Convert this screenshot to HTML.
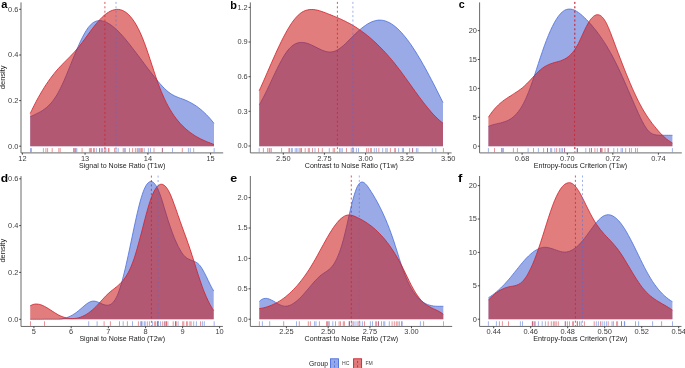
<!DOCTYPE html>
<html><head><meta charset="utf-8"><title>Density plots</title>
<style>
html,body{margin:0;padding:0;background:#fff;}
body{width:685px;height:368px;overflow:hidden;}
svg{display:block;font-family:"Liberation Sans", sans-serif;will-change:transform;}
</style></head>
<body>
<svg width="685" height="368" viewBox="0 0 685 368">
<rect width="685" height="368" fill="#fff"/>
<path d="M30.20,146.20 L30.20,116.79 C30.5,116.6 31.5,116.1 32.2,115.8 C32.9,115.5 33.5,115.2 34.2,114.9 C34.9,114.6 35.5,114.3 36.2,113.9 C36.9,113.6 37.5,113.3 38.2,112.9 C38.9,112.6 39.5,112.2 40.2,111.9 C40.9,111.5 41.5,111.1 42.2,110.7 C42.9,110.2 43.5,109.8 44.2,109.3 C44.9,108.8 45.5,108.3 46.2,107.8 C46.9,107.2 47.5,106.7 48.2,106.0 C48.9,105.4 49.5,104.7 50.2,104.0 C50.9,103.3 51.5,102.5 52.2,101.7 C52.9,100.9 53.5,100.0 54.2,99.0 C54.9,98.1 55.5,97.1 56.2,96.0 C56.9,95.0 57.5,93.8 58.2,92.6 C58.9,91.4 59.5,90.1 60.2,88.8 C60.9,87.5 61.5,86.1 62.2,84.6 C62.9,83.2 63.5,81.7 64.2,80.2 C64.9,78.6 65.5,77.1 66.2,75.5 C66.9,73.9 67.5,72.3 68.2,70.6 C68.9,69.0 69.5,67.4 70.2,65.7 C70.9,64.1 71.5,62.4 72.2,60.7 C72.9,59.1 73.5,57.4 74.2,55.8 C74.9,54.2 75.5,52.6 76.2,51.0 C76.9,49.4 77.5,47.9 78.2,46.4 C78.9,44.8 79.5,43.4 80.2,41.9 C80.9,40.5 81.5,39.1 82.2,37.8 C82.9,36.5 83.5,35.2 84.2,34.0 C84.9,32.8 85.5,31.6 86.2,30.6 C86.9,29.5 87.5,28.5 88.2,27.6 C88.9,26.8 89.5,25.9 90.2,25.2 C90.9,24.5 91.5,23.9 92.2,23.4 C92.9,22.8 93.5,22.4 94.2,22.0 C94.9,21.6 95.5,21.4 96.2,21.1 C96.9,20.9 97.5,20.8 98.2,20.7 C98.9,20.6 99.5,20.6 100.2,20.6 C100.9,20.6 101.5,20.7 102.2,20.9 C102.9,21.0 103.5,21.2 104.2,21.4 C104.9,21.7 105.5,21.9 106.2,22.2 C106.9,22.6 107.5,22.9 108.2,23.3 C108.9,23.6 109.5,24.1 110.2,24.5 C110.9,24.9 111.5,25.4 112.2,25.9 C112.9,26.4 113.5,27.0 114.2,27.5 C114.9,28.1 115.5,28.7 116.2,29.3 C116.9,29.9 117.5,30.6 118.2,31.2 C118.9,31.9 119.5,32.6 120.2,33.3 C120.9,34.0 121.5,34.7 122.2,35.4 C122.9,36.2 123.5,37.0 124.2,37.7 C124.9,38.5 125.5,39.3 126.2,40.1 C126.9,40.9 127.5,41.7 128.2,42.6 C128.9,43.4 129.5,44.2 130.2,45.1 C130.9,45.9 131.5,46.8 132.2,47.7 C132.9,48.5 133.5,49.4 134.2,50.3 C134.9,51.1 135.5,52.0 136.2,52.9 C136.9,53.8 137.5,54.7 138.2,55.6 C138.9,56.5 139.5,57.4 140.2,58.2 C140.9,59.1 141.5,60.0 142.2,60.9 C142.9,61.8 143.5,62.7 144.2,63.6 C144.9,64.5 145.5,65.4 146.2,66.3 C146.9,67.1 147.5,68.0 148.2,68.9 C148.9,69.8 149.5,70.7 150.2,71.5 C150.9,72.4 151.5,73.3 152.2,74.1 C152.9,75.0 153.5,75.8 154.2,76.6 C154.9,77.5 155.5,78.3 156.2,79.1 C156.9,80.0 157.5,80.8 158.2,81.6 C158.9,82.3 159.5,83.1 160.2,83.9 C160.9,84.6 161.5,85.4 162.2,86.1 C162.9,86.8 163.5,87.5 164.2,88.2 C164.9,88.9 165.5,89.5 166.2,90.1 C166.9,90.7 167.5,91.3 168.2,91.8 C168.9,92.4 169.5,92.9 170.2,93.3 C170.9,93.8 171.5,94.2 172.2,94.6 C172.9,95.0 173.5,95.4 174.2,95.7 C174.9,96.0 175.5,96.3 176.2,96.6 C176.9,96.9 177.5,97.2 178.2,97.4 C178.9,97.7 179.5,97.9 180.2,98.2 C180.9,98.4 181.5,98.7 182.2,98.9 C182.9,99.1 183.5,99.4 184.2,99.6 C184.9,99.9 185.5,100.2 186.2,100.5 C186.9,100.7 187.5,101.0 188.2,101.4 C188.9,101.7 189.5,102.0 190.2,102.4 C190.9,102.7 191.5,103.1 192.2,103.5 C192.9,103.9 193.5,104.3 194.2,104.7 C194.9,105.1 195.5,105.5 196.2,106.0 C196.9,106.5 197.5,106.9 198.2,107.4 C198.9,107.9 199.5,108.5 200.2,109.0 C200.9,109.5 201.5,110.1 202.2,110.7 C202.9,111.3 203.5,111.9 204.2,112.5 C204.9,113.1 205.5,113.8 206.2,114.4 C206.9,115.1 207.5,115.8 208.2,116.5 C208.9,117.2 209.5,117.9 210.2,118.7 C210.9,119.5 211.6,120.3 212.2,121.1 C212.8,121.8 213.7,122.9 214.0,123.3 L214.00,146.20 Z" fill="#4664D2" fill-opacity="0.550" stroke="none"/>
<path d="M30.20,116.79 C30.5,116.6 31.5,116.1 32.2,115.8 C32.9,115.5 33.5,115.2 34.2,114.9 C34.9,114.6 35.5,114.3 36.2,113.9 C36.9,113.6 37.5,113.3 38.2,112.9 C38.9,112.6 39.5,112.2 40.2,111.9 C40.9,111.5 41.5,111.1 42.2,110.7 C42.9,110.2 43.5,109.8 44.2,109.3 C44.9,108.8 45.5,108.3 46.2,107.8 C46.9,107.2 47.5,106.7 48.2,106.0 C48.9,105.4 49.5,104.7 50.2,104.0 C50.9,103.3 51.5,102.5 52.2,101.7 C52.9,100.9 53.5,100.0 54.2,99.0 C54.9,98.1 55.5,97.1 56.2,96.0 C56.9,95.0 57.5,93.8 58.2,92.6 C58.9,91.4 59.5,90.1 60.2,88.8 C60.9,87.5 61.5,86.1 62.2,84.6 C62.9,83.2 63.5,81.7 64.2,80.2 C64.9,78.6 65.5,77.1 66.2,75.5 C66.9,73.9 67.5,72.3 68.2,70.6 C68.9,69.0 69.5,67.4 70.2,65.7 C70.9,64.1 71.5,62.4 72.2,60.7 C72.9,59.1 73.5,57.4 74.2,55.8 C74.9,54.2 75.5,52.6 76.2,51.0 C76.9,49.4 77.5,47.9 78.2,46.4 C78.9,44.8 79.5,43.4 80.2,41.9 C80.9,40.5 81.5,39.1 82.2,37.8 C82.9,36.5 83.5,35.2 84.2,34.0 C84.9,32.8 85.5,31.6 86.2,30.6 C86.9,29.5 87.5,28.5 88.2,27.6 C88.9,26.8 89.5,25.9 90.2,25.2 C90.9,24.5 91.5,23.9 92.2,23.4 C92.9,22.8 93.5,22.4 94.2,22.0 C94.9,21.6 95.5,21.4 96.2,21.1 C96.9,20.9 97.5,20.8 98.2,20.7 C98.9,20.6 99.5,20.6 100.2,20.6 C100.9,20.6 101.5,20.7 102.2,20.9 C102.9,21.0 103.5,21.2 104.2,21.4 C104.9,21.7 105.5,21.9 106.2,22.2 C106.9,22.6 107.5,22.9 108.2,23.3 C108.9,23.6 109.5,24.1 110.2,24.5 C110.9,24.9 111.5,25.4 112.2,25.9 C112.9,26.4 113.5,27.0 114.2,27.5 C114.9,28.1 115.5,28.7 116.2,29.3 C116.9,29.9 117.5,30.6 118.2,31.2 C118.9,31.9 119.5,32.6 120.2,33.3 C120.9,34.0 121.5,34.7 122.2,35.4 C122.9,36.2 123.5,37.0 124.2,37.7 C124.9,38.5 125.5,39.3 126.2,40.1 C126.9,40.9 127.5,41.7 128.2,42.6 C128.9,43.4 129.5,44.2 130.2,45.1 C130.9,45.9 131.5,46.8 132.2,47.7 C132.9,48.5 133.5,49.4 134.2,50.3 C134.9,51.1 135.5,52.0 136.2,52.9 C136.9,53.8 137.5,54.7 138.2,55.6 C138.9,56.5 139.5,57.4 140.2,58.2 C140.9,59.1 141.5,60.0 142.2,60.9 C142.9,61.8 143.5,62.7 144.2,63.6 C144.9,64.5 145.5,65.4 146.2,66.3 C146.9,67.1 147.5,68.0 148.2,68.9 C148.9,69.8 149.5,70.7 150.2,71.5 C150.9,72.4 151.5,73.3 152.2,74.1 C152.9,75.0 153.5,75.8 154.2,76.6 C154.9,77.5 155.5,78.3 156.2,79.1 C156.9,80.0 157.5,80.8 158.2,81.6 C158.9,82.3 159.5,83.1 160.2,83.9 C160.9,84.6 161.5,85.4 162.2,86.1 C162.9,86.8 163.5,87.5 164.2,88.2 C164.9,88.9 165.5,89.5 166.2,90.1 C166.9,90.7 167.5,91.3 168.2,91.8 C168.9,92.4 169.5,92.9 170.2,93.3 C170.9,93.8 171.5,94.2 172.2,94.6 C172.9,95.0 173.5,95.4 174.2,95.7 C174.9,96.0 175.5,96.3 176.2,96.6 C176.9,96.9 177.5,97.2 178.2,97.4 C178.9,97.7 179.5,97.9 180.2,98.2 C180.9,98.4 181.5,98.7 182.2,98.9 C182.9,99.1 183.5,99.4 184.2,99.6 C184.9,99.9 185.5,100.2 186.2,100.5 C186.9,100.7 187.5,101.0 188.2,101.4 C188.9,101.7 189.5,102.0 190.2,102.4 C190.9,102.7 191.5,103.1 192.2,103.5 C192.9,103.9 193.5,104.3 194.2,104.7 C194.9,105.1 195.5,105.5 196.2,106.0 C196.9,106.5 197.5,106.9 198.2,107.4 C198.9,107.9 199.5,108.5 200.2,109.0 C200.9,109.5 201.5,110.1 202.2,110.7 C202.9,111.3 203.5,111.9 204.2,112.5 C204.9,113.1 205.5,113.8 206.2,114.4 C206.9,115.1 207.5,115.8 208.2,116.5 C208.9,117.2 209.5,117.9 210.2,118.7 C210.9,119.5 211.6,120.3 212.2,121.1 C212.8,121.8 213.7,122.9 214.0,123.3" fill="none" stroke="#4a6fdc" stroke-width="0.8"/>
<path d="M30.20,146.20 L30.20,113.51 C30.5,112.8 31.5,110.7 32.2,109.3 C32.9,108.0 33.5,106.6 34.2,105.3 C34.9,104.0 35.5,102.7 36.2,101.4 C36.9,100.2 37.5,98.9 38.2,97.7 C38.9,96.5 39.5,95.3 40.2,94.2 C40.9,93.0 41.5,91.9 42.2,90.8 C42.9,89.7 43.5,88.6 44.2,87.5 C44.9,86.5 45.5,85.4 46.2,84.4 C46.9,83.4 47.5,82.4 48.2,81.5 C48.9,80.5 49.5,79.6 50.2,78.7 C50.9,77.7 51.5,76.8 52.2,76.0 C52.9,75.1 53.5,74.3 54.2,73.4 C54.9,72.6 55.5,71.8 56.2,71.0 C56.9,70.2 57.5,69.5 58.2,68.7 C58.9,68.0 59.5,67.3 60.2,66.6 C60.9,65.9 61.5,65.2 62.2,64.5 C62.9,63.8 63.5,63.1 64.2,62.4 C64.9,61.8 65.5,61.1 66.2,60.4 C66.9,59.8 67.5,59.1 68.2,58.4 C68.9,57.8 69.5,57.1 70.2,56.4 C70.9,55.7 71.5,55.0 72.2,54.3 C72.9,53.6 73.5,52.9 74.2,52.2 C74.9,51.5 75.5,50.7 76.2,49.9 C76.9,49.2 77.5,48.4 78.2,47.6 C78.9,46.8 79.5,45.9 80.2,45.1 C80.9,44.2 81.5,43.4 82.2,42.5 C82.9,41.6 83.5,40.7 84.2,39.8 C84.9,38.9 85.5,38.0 86.2,37.1 C86.9,36.1 87.5,35.2 88.2,34.3 C88.9,33.4 89.5,32.5 90.2,31.6 C90.9,30.7 91.5,29.8 92.2,28.9 C92.9,28.0 93.5,27.1 94.2,26.3 C94.9,25.4 95.5,24.6 96.2,23.8 C96.9,23.0 97.5,22.2 98.2,21.4 C98.9,20.6 99.5,19.9 100.2,19.2 C100.9,18.5 101.5,17.8 102.2,17.2 C102.9,16.5 103.5,15.9 104.2,15.3 C104.9,14.8 105.5,14.2 106.2,13.7 C106.9,13.2 107.5,12.8 108.2,12.4 C108.9,12.0 109.5,11.6 110.2,11.2 C110.9,10.9 111.5,10.6 112.2,10.4 C112.9,10.1 113.5,9.9 114.2,9.8 C114.9,9.6 115.5,9.5 116.2,9.4 C116.9,9.4 117.5,9.4 118.2,9.4 C118.9,9.5 119.5,9.5 120.2,9.7 C120.9,9.8 121.5,10.0 122.2,10.3 C122.9,10.6 123.5,10.9 124.2,11.3 C124.9,11.6 125.5,12.1 126.2,12.6 C126.9,13.0 127.5,13.6 128.2,14.2 C128.9,14.8 129.5,15.5 130.2,16.3 C130.9,17.0 131.5,17.8 132.2,18.7 C132.9,19.6 133.5,20.5 134.2,21.5 C134.9,22.6 135.5,23.6 136.2,24.8 C136.9,26.0 137.5,27.2 138.2,28.5 C138.9,29.8 139.5,31.2 140.2,32.6 C140.9,34.1 141.5,35.6 142.2,37.2 C142.9,38.8 143.5,40.5 144.2,42.3 C144.9,44.1 145.5,45.9 146.2,47.8 C146.9,49.7 147.5,51.7 148.2,53.7 C148.9,55.6 149.5,57.7 150.2,59.7 C150.9,61.7 151.5,63.8 152.2,65.8 C152.9,67.9 153.5,69.9 154.2,71.9 C154.9,74.0 155.5,76.0 156.2,77.9 C156.9,79.8 157.5,81.7 158.2,83.6 C158.9,85.4 159.5,87.1 160.2,88.8 C160.9,90.5 161.5,92.2 162.2,93.7 C162.9,95.3 163.5,96.8 164.2,98.2 C164.9,99.7 165.5,101.1 166.2,102.4 C166.9,103.7 167.5,105.0 168.2,106.2 C168.9,107.4 169.5,108.6 170.2,109.7 C170.9,110.8 171.5,111.9 172.2,112.9 C172.9,113.9 173.5,114.9 174.2,115.9 C174.9,116.8 175.5,117.7 176.2,118.6 C176.9,119.5 177.5,120.3 178.2,121.1 C178.9,121.9 179.5,122.6 180.2,123.4 C180.9,124.1 181.5,124.8 182.2,125.5 C182.9,126.2 183.5,126.8 184.2,127.4 C184.9,128.1 185.5,128.7 186.2,129.3 C186.9,129.8 187.5,130.4 188.2,130.9 C188.9,131.5 189.5,132.0 190.2,132.5 C190.9,133.0 191.5,133.5 192.2,133.9 C192.9,134.4 193.5,134.8 194.2,135.2 C194.9,135.7 195.5,136.1 196.2,136.5 C196.9,136.9 197.5,137.2 198.2,137.6 C198.9,138.0 199.5,138.3 200.2,138.7 C200.9,139.0 201.5,139.3 202.2,139.6 C202.9,140.0 203.5,140.3 204.2,140.6 C204.9,140.9 205.5,141.1 206.2,141.4 C206.9,141.7 207.5,142.0 208.2,142.3 C208.9,142.5 209.5,142.8 210.2,143.0 C210.9,143.3 211.6,143.6 212.2,143.8 C212.8,144.1 213.7,144.4 214.0,144.5 L214.00,146.20 Z" fill="#C81412" fill-opacity="0.550" stroke="none"/>
<path d="M30.20,113.51 C30.5,112.8 31.5,110.7 32.2,109.3 C32.9,108.0 33.5,106.6 34.2,105.3 C34.9,104.0 35.5,102.7 36.2,101.4 C36.9,100.2 37.5,98.9 38.2,97.7 C38.9,96.5 39.5,95.3 40.2,94.2 C40.9,93.0 41.5,91.9 42.2,90.8 C42.9,89.7 43.5,88.6 44.2,87.5 C44.9,86.5 45.5,85.4 46.2,84.4 C46.9,83.4 47.5,82.4 48.2,81.5 C48.9,80.5 49.5,79.6 50.2,78.7 C50.9,77.7 51.5,76.8 52.2,76.0 C52.9,75.1 53.5,74.3 54.2,73.4 C54.9,72.6 55.5,71.8 56.2,71.0 C56.9,70.2 57.5,69.5 58.2,68.7 C58.9,68.0 59.5,67.3 60.2,66.6 C60.9,65.9 61.5,65.2 62.2,64.5 C62.9,63.8 63.5,63.1 64.2,62.4 C64.9,61.8 65.5,61.1 66.2,60.4 C66.9,59.8 67.5,59.1 68.2,58.4 C68.9,57.8 69.5,57.1 70.2,56.4 C70.9,55.7 71.5,55.0 72.2,54.3 C72.9,53.6 73.5,52.9 74.2,52.2 C74.9,51.5 75.5,50.7 76.2,49.9 C76.9,49.2 77.5,48.4 78.2,47.6 C78.9,46.8 79.5,45.9 80.2,45.1 C80.9,44.2 81.5,43.4 82.2,42.5 C82.9,41.6 83.5,40.7 84.2,39.8 C84.9,38.9 85.5,38.0 86.2,37.1 C86.9,36.1 87.5,35.2 88.2,34.3 C88.9,33.4 89.5,32.5 90.2,31.6 C90.9,30.7 91.5,29.8 92.2,28.9 C92.9,28.0 93.5,27.1 94.2,26.3 C94.9,25.4 95.5,24.6 96.2,23.8 C96.9,23.0 97.5,22.2 98.2,21.4 C98.9,20.6 99.5,19.9 100.2,19.2 C100.9,18.5 101.5,17.8 102.2,17.2 C102.9,16.5 103.5,15.9 104.2,15.3 C104.9,14.8 105.5,14.2 106.2,13.7 C106.9,13.2 107.5,12.8 108.2,12.4 C108.9,12.0 109.5,11.6 110.2,11.2 C110.9,10.9 111.5,10.6 112.2,10.4 C112.9,10.1 113.5,9.9 114.2,9.8 C114.9,9.6 115.5,9.5 116.2,9.4 C116.9,9.4 117.5,9.4 118.2,9.4 C118.9,9.5 119.5,9.5 120.2,9.7 C120.9,9.8 121.5,10.0 122.2,10.3 C122.9,10.6 123.5,10.9 124.2,11.3 C124.9,11.6 125.5,12.1 126.2,12.6 C126.9,13.0 127.5,13.6 128.2,14.2 C128.9,14.8 129.5,15.5 130.2,16.3 C130.9,17.0 131.5,17.8 132.2,18.7 C132.9,19.6 133.5,20.5 134.2,21.5 C134.9,22.6 135.5,23.6 136.2,24.8 C136.9,26.0 137.5,27.2 138.2,28.5 C138.9,29.8 139.5,31.2 140.2,32.6 C140.9,34.1 141.5,35.6 142.2,37.2 C142.9,38.8 143.5,40.5 144.2,42.3 C144.9,44.1 145.5,45.9 146.2,47.8 C146.9,49.7 147.5,51.7 148.2,53.7 C148.9,55.6 149.5,57.7 150.2,59.7 C150.9,61.7 151.5,63.8 152.2,65.8 C152.9,67.9 153.5,69.9 154.2,71.9 C154.9,74.0 155.5,76.0 156.2,77.9 C156.9,79.8 157.5,81.7 158.2,83.6 C158.9,85.4 159.5,87.1 160.2,88.8 C160.9,90.5 161.5,92.2 162.2,93.7 C162.9,95.3 163.5,96.8 164.2,98.2 C164.9,99.7 165.5,101.1 166.2,102.4 C166.9,103.7 167.5,105.0 168.2,106.2 C168.9,107.4 169.5,108.6 170.2,109.7 C170.9,110.8 171.5,111.9 172.2,112.9 C172.9,113.9 173.5,114.9 174.2,115.9 C174.9,116.8 175.5,117.7 176.2,118.6 C176.9,119.5 177.5,120.3 178.2,121.1 C178.9,121.9 179.5,122.6 180.2,123.4 C180.9,124.1 181.5,124.8 182.2,125.5 C182.9,126.2 183.5,126.8 184.2,127.4 C184.9,128.1 185.5,128.7 186.2,129.3 C186.9,129.8 187.5,130.4 188.2,130.9 C188.9,131.5 189.5,132.0 190.2,132.5 C190.9,133.0 191.5,133.5 192.2,133.9 C192.9,134.4 193.5,134.8 194.2,135.2 C194.9,135.7 195.5,136.1 196.2,136.5 C196.9,136.9 197.5,137.2 198.2,137.6 C198.9,138.0 199.5,138.3 200.2,138.7 C200.9,139.0 201.5,139.3 202.2,139.6 C202.9,140.0 203.5,140.3 204.2,140.6 C204.9,140.9 205.5,141.1 206.2,141.4 C206.9,141.7 207.5,142.0 208.2,142.3 C208.9,142.5 209.5,142.8 210.2,143.0 C210.9,143.3 211.6,143.6 212.2,143.8 C212.8,144.1 213.7,144.4 214.0,144.5" fill="none" stroke="#d11f2a" stroke-width="0.8"/>
<line x1="30.50" y1="148.10" x2="30.50" y2="152.30" stroke="#3f63d6" stroke-width="0.9" stroke-opacity="0.55"/>
<line x1="43.40" y1="148.10" x2="43.40" y2="152.30" stroke="#3f63d6" stroke-width="0.9" stroke-opacity="0.55"/>
<line x1="75.30" y1="148.10" x2="75.30" y2="152.30" stroke="#3f63d6" stroke-width="0.9" stroke-opacity="0.55"/>
<line x1="75.80" y1="148.10" x2="75.80" y2="152.30" stroke="#3f63d6" stroke-width="0.9" stroke-opacity="0.55"/>
<line x1="76.80" y1="148.10" x2="76.80" y2="152.30" stroke="#3f63d6" stroke-width="0.9" stroke-opacity="0.55"/>
<line x1="89.40" y1="148.10" x2="89.40" y2="152.30" stroke="#3f63d6" stroke-width="0.9" stroke-opacity="0.55"/>
<line x1="91.50" y1="148.10" x2="91.50" y2="152.30" stroke="#3f63d6" stroke-width="0.9" stroke-opacity="0.55"/>
<line x1="96.40" y1="148.10" x2="96.40" y2="152.30" stroke="#3f63d6" stroke-width="0.9" stroke-opacity="0.55"/>
<line x1="99.60" y1="148.10" x2="99.60" y2="152.30" stroke="#3f63d6" stroke-width="0.9" stroke-opacity="0.55"/>
<line x1="102.70" y1="148.10" x2="102.70" y2="152.30" stroke="#3f63d6" stroke-width="0.9" stroke-opacity="0.55"/>
<line x1="105.90" y1="148.10" x2="105.90" y2="152.30" stroke="#3f63d6" stroke-width="0.9" stroke-opacity="0.55"/>
<line x1="116.00" y1="148.10" x2="116.00" y2="152.30" stroke="#3f63d6" stroke-width="0.9" stroke-opacity="0.55"/>
<line x1="118.20" y1="148.10" x2="118.20" y2="152.30" stroke="#3f63d6" stroke-width="0.9" stroke-opacity="0.55"/>
<line x1="124.30" y1="148.10" x2="124.30" y2="152.30" stroke="#3f63d6" stroke-width="0.9" stroke-opacity="0.55"/>
<line x1="129.50" y1="148.10" x2="129.50" y2="152.30" stroke="#3f63d6" stroke-width="0.9" stroke-opacity="0.55"/>
<line x1="138.20" y1="148.10" x2="138.20" y2="152.30" stroke="#3f63d6" stroke-width="0.9" stroke-opacity="0.55"/>
<line x1="139.30" y1="148.10" x2="139.30" y2="152.30" stroke="#3f63d6" stroke-width="0.9" stroke-opacity="0.55"/>
<line x1="144.20" y1="148.10" x2="144.20" y2="152.30" stroke="#3f63d6" stroke-width="0.9" stroke-opacity="0.55"/>
<line x1="148.40" y1="148.10" x2="148.40" y2="152.30" stroke="#3f63d6" stroke-width="0.9" stroke-opacity="0.55"/>
<line x1="150.50" y1="148.10" x2="150.50" y2="152.30" stroke="#3f63d6" stroke-width="0.9" stroke-opacity="0.55"/>
<line x1="162.40" y1="148.10" x2="162.40" y2="152.30" stroke="#3f63d6" stroke-width="0.9" stroke-opacity="0.55"/>
<line x1="172.50" y1="148.10" x2="172.50" y2="152.30" stroke="#3f63d6" stroke-width="0.9" stroke-opacity="0.55"/>
<line x1="188.40" y1="148.10" x2="188.40" y2="152.30" stroke="#3f63d6" stroke-width="0.9" stroke-opacity="0.55"/>
<line x1="190.30" y1="148.10" x2="190.30" y2="152.30" stroke="#3f63d6" stroke-width="0.9" stroke-opacity="0.55"/>
<line x1="193.70" y1="148.10" x2="193.70" y2="152.30" stroke="#3f63d6" stroke-width="0.9" stroke-opacity="0.55"/>
<line x1="214.20" y1="148.10" x2="214.20" y2="152.30" stroke="#3f63d6" stroke-width="0.9" stroke-opacity="0.55"/>
<line x1="31.40" y1="148.10" x2="31.40" y2="152.30" stroke="#d3222c" stroke-width="0.9" stroke-opacity="0.55"/>
<line x1="45.90" y1="148.10" x2="45.90" y2="152.30" stroke="#d3222c" stroke-width="0.9" stroke-opacity="0.55"/>
<line x1="47.60" y1="148.10" x2="47.60" y2="152.30" stroke="#d3222c" stroke-width="0.9" stroke-opacity="0.55"/>
<line x1="52.20" y1="148.10" x2="52.20" y2="152.30" stroke="#d3222c" stroke-width="0.9" stroke-opacity="0.55"/>
<line x1="58.80" y1="148.10" x2="58.80" y2="152.30" stroke="#d3222c" stroke-width="0.9" stroke-opacity="0.55"/>
<line x1="60.20" y1="148.10" x2="60.20" y2="152.30" stroke="#d3222c" stroke-width="0.9" stroke-opacity="0.55"/>
<line x1="73.50" y1="148.10" x2="73.50" y2="152.30" stroke="#d3222c" stroke-width="0.9" stroke-opacity="0.55"/>
<line x1="74.40" y1="148.10" x2="74.40" y2="152.30" stroke="#d3222c" stroke-width="0.9" stroke-opacity="0.55"/>
<line x1="82.10" y1="148.10" x2="82.10" y2="152.30" stroke="#d3222c" stroke-width="0.9" stroke-opacity="0.55"/>
<line x1="90.50" y1="148.10" x2="90.50" y2="152.30" stroke="#d3222c" stroke-width="0.9" stroke-opacity="0.55"/>
<line x1="93.60" y1="148.10" x2="93.60" y2="152.30" stroke="#d3222c" stroke-width="0.9" stroke-opacity="0.55"/>
<line x1="94.30" y1="148.10" x2="94.30" y2="152.30" stroke="#d3222c" stroke-width="0.9" stroke-opacity="0.55"/>
<line x1="99.60" y1="148.10" x2="99.60" y2="152.30" stroke="#d3222c" stroke-width="0.9" stroke-opacity="0.55"/>
<line x1="101.70" y1="148.10" x2="101.70" y2="152.30" stroke="#d3222c" stroke-width="0.9" stroke-opacity="0.55"/>
<line x1="104.80" y1="148.10" x2="104.80" y2="152.30" stroke="#d3222c" stroke-width="0.9" stroke-opacity="0.55"/>
<line x1="108.30" y1="148.10" x2="108.30" y2="152.30" stroke="#d3222c" stroke-width="0.9" stroke-opacity="0.55"/>
<line x1="109.00" y1="148.10" x2="109.00" y2="152.30" stroke="#d3222c" stroke-width="0.9" stroke-opacity="0.55"/>
<line x1="114.60" y1="148.10" x2="114.60" y2="152.30" stroke="#d3222c" stroke-width="0.9" stroke-opacity="0.55"/>
<line x1="123.20" y1="148.10" x2="123.20" y2="152.30" stroke="#d3222c" stroke-width="0.9" stroke-opacity="0.55"/>
<line x1="125.30" y1="148.10" x2="125.30" y2="152.30" stroke="#d3222c" stroke-width="0.9" stroke-opacity="0.55"/>
<line x1="132.60" y1="148.10" x2="132.60" y2="152.30" stroke="#d3222c" stroke-width="0.9" stroke-opacity="0.55"/>
<line x1="135.40" y1="148.10" x2="135.40" y2="152.30" stroke="#d3222c" stroke-width="0.9" stroke-opacity="0.55"/>
<line x1="137.20" y1="148.10" x2="137.20" y2="152.30" stroke="#d3222c" stroke-width="0.9" stroke-opacity="0.55"/>
<line x1="140.30" y1="148.10" x2="140.30" y2="152.30" stroke="#d3222c" stroke-width="0.9" stroke-opacity="0.55"/>
<line x1="141.50" y1="148.10" x2="141.50" y2="152.30" stroke="#d3222c" stroke-width="0.9" stroke-opacity="0.55"/>
<line x1="142.40" y1="148.10" x2="142.40" y2="152.30" stroke="#d3222c" stroke-width="0.9" stroke-opacity="0.55"/>
<line x1="154.00" y1="148.10" x2="154.00" y2="152.30" stroke="#d3222c" stroke-width="0.9" stroke-opacity="0.55"/>
<line x1="162.40" y1="148.10" x2="162.40" y2="152.30" stroke="#d3222c" stroke-width="0.9" stroke-opacity="0.55"/>
<line x1="182.30" y1="148.10" x2="182.30" y2="152.30" stroke="#d3222c" stroke-width="0.9" stroke-opacity="0.55"/>
<line x1="104.90" y1="1.90" x2="104.90" y2="152.40" stroke="#d11f2a" stroke-width="0.9" stroke-dasharray="2,2.4" opacity="0.85"/>
<line x1="116.00" y1="1.90" x2="116.00" y2="152.40" stroke="#4a6fdc" stroke-width="0.9" stroke-dasharray="2,2.4" opacity="0.6"/>
<path d="M21.00,2.40 V152.90 H223.20" fill="none" stroke="#6b6b6b" stroke-width="1"/>
<line x1="19.20" y1="9.30" x2="21.00" y2="9.30" stroke="#333333" stroke-width="0.9"/>
<text x="18.40" y="11.65" text-anchor="end" font-size="6.50" fill="#3d3d3d" textLength="10.34" lengthAdjust="spacingAndGlyphs">0.6</text>
<line x1="19.20" y1="55.00" x2="21.00" y2="55.00" stroke="#333333" stroke-width="0.9"/>
<text x="18.40" y="57.35" text-anchor="end" font-size="6.50" fill="#3d3d3d" textLength="10.34" lengthAdjust="spacingAndGlyphs">0.4</text>
<line x1="19.20" y1="100.60" x2="21.00" y2="100.60" stroke="#333333" stroke-width="0.9"/>
<text x="18.40" y="102.95" text-anchor="end" font-size="6.50" fill="#3d3d3d" textLength="10.34" lengthAdjust="spacingAndGlyphs">0.2</text>
<line x1="19.20" y1="146.20" x2="21.00" y2="146.20" stroke="#333333" stroke-width="0.9"/>
<text x="18.40" y="148.55" text-anchor="end" font-size="6.50" fill="#3d3d3d" textLength="10.34" lengthAdjust="spacingAndGlyphs">0.0</text>
<line x1="22.40" y1="152.90" x2="22.40" y2="154.70" stroke="#333333" stroke-width="0.9"/>
<text x="22.40" y="160.60" text-anchor="middle" font-size="6.50" fill="#3d3d3d" textLength="8.27" lengthAdjust="spacingAndGlyphs">12</text>
<line x1="85.10" y1="152.90" x2="85.10" y2="154.70" stroke="#333333" stroke-width="0.9"/>
<text x="85.10" y="160.60" text-anchor="middle" font-size="6.50" fill="#3d3d3d" textLength="8.27" lengthAdjust="spacingAndGlyphs">13</text>
<line x1="147.90" y1="152.90" x2="147.90" y2="154.70" stroke="#333333" stroke-width="0.9"/>
<text x="147.90" y="160.60" text-anchor="middle" font-size="6.50" fill="#3d3d3d" textLength="8.27" lengthAdjust="spacingAndGlyphs">14</text>
<line x1="210.60" y1="152.90" x2="210.60" y2="154.70" stroke="#333333" stroke-width="0.9"/>
<text x="210.60" y="160.60" text-anchor="middle" font-size="6.50" fill="#3d3d3d" textLength="8.27" lengthAdjust="spacingAndGlyphs">15</text>
<text x="79.00" y="167.65" font-size="6.50" fill="#1a1a1a" textLength="86.30" lengthAdjust="spacingAndGlyphs">Signal to Noise Ratio (T1w)</text>
<text transform="translate(5.3,77.30) rotate(-90)" text-anchor="middle" font-size="6.50" fill="#1a1a1a" textLength="23.83" lengthAdjust="spacingAndGlyphs">density</text>
<text transform="translate(1.17,7.70) scale(1.060,1)" font-size="10.5" font-weight="bold" fill="#000">a</text>
<path d="M259.20,146.20 L259.20,104.95 C259.5,104.4 260.5,102.7 261.2,101.5 C261.9,100.3 262.5,99.0 263.2,97.8 C263.9,96.5 264.5,95.2 265.2,93.8 C265.9,92.5 266.5,91.1 267.2,89.7 C267.9,88.3 268.5,86.9 269.2,85.5 C269.9,84.1 270.5,82.7 271.2,81.2 C271.9,79.8 272.5,78.4 273.2,76.9 C273.9,75.5 274.5,74.1 275.2,72.7 C275.9,71.3 276.5,69.9 277.2,68.6 C277.9,67.2 278.5,65.9 279.2,64.6 C279.9,63.3 280.5,62.0 281.2,60.8 C281.9,59.6 282.5,58.4 283.2,57.2 C283.9,56.1 284.5,55.0 285.2,54.0 C285.9,53.0 286.5,52.0 287.2,51.1 C287.9,50.2 288.5,49.4 289.2,48.7 C289.9,47.9 290.5,47.3 291.2,46.7 C291.9,46.1 292.5,45.5 293.2,45.1 C293.9,44.6 294.5,44.2 295.2,43.9 C295.9,43.6 296.5,43.3 297.2,43.1 C297.9,42.9 298.5,42.7 299.2,42.6 C299.9,42.5 300.5,42.4 301.2,42.4 C301.9,42.4 302.5,42.4 303.2,42.5 C303.9,42.6 304.5,42.7 305.2,42.8 C305.9,43.0 306.5,43.1 307.2,43.3 C307.9,43.5 308.5,43.8 309.2,44.0 C309.9,44.3 310.5,44.6 311.2,44.9 C311.9,45.2 312.5,45.5 313.2,45.8 C313.9,46.1 314.5,46.5 315.2,46.8 C315.9,47.1 316.5,47.5 317.2,47.8 C317.9,48.2 318.5,48.5 319.2,48.8 C319.9,49.1 320.5,49.5 321.2,49.8 C321.9,50.1 322.5,50.3 323.2,50.6 C323.9,50.8 324.5,51.1 325.2,51.3 C325.9,51.5 326.5,51.6 327.2,51.8 C327.9,51.9 328.5,52.0 329.2,52.0 C329.9,52.0 330.5,52.0 331.2,52.0 C331.9,51.9 332.5,51.8 333.2,51.6 C333.9,51.5 334.5,51.3 335.2,51.0 C335.9,50.7 336.5,50.4 337.2,50.0 C337.9,49.6 338.5,49.2 339.2,48.8 C339.9,48.3 340.5,47.8 341.2,47.3 C341.9,46.8 342.5,46.3 343.2,45.7 C343.9,45.1 344.5,44.5 345.2,43.9 C345.9,43.3 346.5,42.6 347.2,42.0 C347.9,41.4 348.5,40.7 349.2,40.0 C349.9,39.4 350.5,38.7 351.2,38.0 C351.9,37.3 352.5,36.7 353.2,36.0 C353.9,35.3 354.5,34.7 355.2,34.0 C355.9,33.4 356.5,32.7 357.2,32.1 C357.9,31.5 358.5,30.9 359.2,30.3 C359.9,29.7 360.5,29.1 361.2,28.6 C361.9,28.0 362.5,27.5 363.2,27.0 C363.9,26.5 364.5,26.0 365.2,25.6 C365.9,25.1 366.5,24.7 367.2,24.2 C367.9,23.8 368.5,23.5 369.2,23.1 C369.9,22.7 370.5,22.4 371.2,22.1 C371.9,21.8 372.5,21.5 373.2,21.3 C373.9,21.1 374.5,20.9 375.2,20.7 C375.9,20.5 376.5,20.4 377.2,20.3 C377.9,20.2 378.5,20.1 379.2,20.1 C379.9,20.1 380.5,20.1 381.2,20.2 C381.9,20.2 382.5,20.3 383.2,20.4 C383.9,20.6 384.5,20.7 385.2,20.9 C385.9,21.1 386.5,21.4 387.2,21.7 C387.9,21.9 388.5,22.2 389.2,22.6 C389.9,22.9 390.5,23.3 391.2,23.7 C391.9,24.2 392.5,24.6 393.2,25.1 C393.9,25.6 394.5,26.1 395.2,26.6 C395.9,27.2 396.5,27.7 397.2,28.3 C397.9,28.9 398.5,29.6 399.2,30.2 C399.9,30.9 400.5,31.6 401.2,32.3 C401.9,33.0 402.5,33.8 403.2,34.6 C403.9,35.3 404.5,36.1 405.2,37.0 C405.9,37.8 406.5,38.6 407.2,39.5 C407.9,40.4 408.5,41.3 409.2,42.2 C409.9,43.1 410.5,44.1 411.2,45.0 C411.9,46.0 412.5,47.0 413.2,48.0 C413.9,49.0 414.5,50.0 415.2,51.1 C415.9,52.1 416.5,53.2 417.2,54.3 C417.9,55.4 418.5,56.5 419.2,57.6 C419.9,58.7 420.5,59.8 421.2,61.0 C421.9,62.1 422.5,63.3 423.2,64.5 C423.9,65.7 424.5,66.9 425.2,68.1 C425.9,69.3 426.5,70.5 427.2,71.7 C427.9,73.0 428.5,74.2 429.2,75.5 C429.9,76.7 430.5,78.0 431.2,79.3 C431.9,80.6 432.5,81.8 433.2,83.1 C433.9,84.4 434.5,85.7 435.2,87.0 C435.9,88.4 436.5,89.7 437.2,91.0 C437.9,92.3 438.5,93.6 439.2,95.0 C439.9,96.3 440.6,97.7 441.2,99.0 C441.8,100.3 442.7,102.0 443.0,102.6 L443.00,146.20 Z" fill="#4664D2" fill-opacity="0.550" stroke="none"/>
<path d="M259.20,104.95 C259.5,104.4 260.5,102.7 261.2,101.5 C261.9,100.3 262.5,99.0 263.2,97.8 C263.9,96.5 264.5,95.2 265.2,93.8 C265.9,92.5 266.5,91.1 267.2,89.7 C267.9,88.3 268.5,86.9 269.2,85.5 C269.9,84.1 270.5,82.7 271.2,81.2 C271.9,79.8 272.5,78.4 273.2,76.9 C273.9,75.5 274.5,74.1 275.2,72.7 C275.9,71.3 276.5,69.9 277.2,68.6 C277.9,67.2 278.5,65.9 279.2,64.6 C279.9,63.3 280.5,62.0 281.2,60.8 C281.9,59.6 282.5,58.4 283.2,57.2 C283.9,56.1 284.5,55.0 285.2,54.0 C285.9,53.0 286.5,52.0 287.2,51.1 C287.9,50.2 288.5,49.4 289.2,48.7 C289.9,47.9 290.5,47.3 291.2,46.7 C291.9,46.1 292.5,45.5 293.2,45.1 C293.9,44.6 294.5,44.2 295.2,43.9 C295.9,43.6 296.5,43.3 297.2,43.1 C297.9,42.9 298.5,42.7 299.2,42.6 C299.9,42.5 300.5,42.4 301.2,42.4 C301.9,42.4 302.5,42.4 303.2,42.5 C303.9,42.6 304.5,42.7 305.2,42.8 C305.9,43.0 306.5,43.1 307.2,43.3 C307.9,43.5 308.5,43.8 309.2,44.0 C309.9,44.3 310.5,44.6 311.2,44.9 C311.9,45.2 312.5,45.5 313.2,45.8 C313.9,46.1 314.5,46.5 315.2,46.8 C315.9,47.1 316.5,47.5 317.2,47.8 C317.9,48.2 318.5,48.5 319.2,48.8 C319.9,49.1 320.5,49.5 321.2,49.8 C321.9,50.1 322.5,50.3 323.2,50.6 C323.9,50.8 324.5,51.1 325.2,51.3 C325.9,51.5 326.5,51.6 327.2,51.8 C327.9,51.9 328.5,52.0 329.2,52.0 C329.9,52.0 330.5,52.0 331.2,52.0 C331.9,51.9 332.5,51.8 333.2,51.6 C333.9,51.5 334.5,51.3 335.2,51.0 C335.9,50.7 336.5,50.4 337.2,50.0 C337.9,49.6 338.5,49.2 339.2,48.8 C339.9,48.3 340.5,47.8 341.2,47.3 C341.9,46.8 342.5,46.3 343.2,45.7 C343.9,45.1 344.5,44.5 345.2,43.9 C345.9,43.3 346.5,42.6 347.2,42.0 C347.9,41.4 348.5,40.7 349.2,40.0 C349.9,39.4 350.5,38.7 351.2,38.0 C351.9,37.3 352.5,36.7 353.2,36.0 C353.9,35.3 354.5,34.7 355.2,34.0 C355.9,33.4 356.5,32.7 357.2,32.1 C357.9,31.5 358.5,30.9 359.2,30.3 C359.9,29.7 360.5,29.1 361.2,28.6 C361.9,28.0 362.5,27.5 363.2,27.0 C363.9,26.5 364.5,26.0 365.2,25.6 C365.9,25.1 366.5,24.7 367.2,24.2 C367.9,23.8 368.5,23.5 369.2,23.1 C369.9,22.7 370.5,22.4 371.2,22.1 C371.9,21.8 372.5,21.5 373.2,21.3 C373.9,21.1 374.5,20.9 375.2,20.7 C375.9,20.5 376.5,20.4 377.2,20.3 C377.9,20.2 378.5,20.1 379.2,20.1 C379.9,20.1 380.5,20.1 381.2,20.2 C381.9,20.2 382.5,20.3 383.2,20.4 C383.9,20.6 384.5,20.7 385.2,20.9 C385.9,21.1 386.5,21.4 387.2,21.7 C387.9,21.9 388.5,22.2 389.2,22.6 C389.9,22.9 390.5,23.3 391.2,23.7 C391.9,24.2 392.5,24.6 393.2,25.1 C393.9,25.6 394.5,26.1 395.2,26.6 C395.9,27.2 396.5,27.7 397.2,28.3 C397.9,28.9 398.5,29.6 399.2,30.2 C399.9,30.9 400.5,31.6 401.2,32.3 C401.9,33.0 402.5,33.8 403.2,34.6 C403.9,35.3 404.5,36.1 405.2,37.0 C405.9,37.8 406.5,38.6 407.2,39.5 C407.9,40.4 408.5,41.3 409.2,42.2 C409.9,43.1 410.5,44.1 411.2,45.0 C411.9,46.0 412.5,47.0 413.2,48.0 C413.9,49.0 414.5,50.0 415.2,51.1 C415.9,52.1 416.5,53.2 417.2,54.3 C417.9,55.4 418.5,56.5 419.2,57.6 C419.9,58.7 420.5,59.8 421.2,61.0 C421.9,62.1 422.5,63.3 423.2,64.5 C423.9,65.7 424.5,66.9 425.2,68.1 C425.9,69.3 426.5,70.5 427.2,71.7 C427.9,73.0 428.5,74.2 429.2,75.5 C429.9,76.7 430.5,78.0 431.2,79.3 C431.9,80.6 432.5,81.8 433.2,83.1 C433.9,84.4 434.5,85.7 435.2,87.0 C435.9,88.4 436.5,89.7 437.2,91.0 C437.9,92.3 438.5,93.6 439.2,95.0 C439.9,96.3 440.6,97.7 441.2,99.0 C441.8,100.3 442.7,102.0 443.0,102.6" fill="none" stroke="#4a6fdc" stroke-width="0.8"/>
<path d="M259.20,146.20 L259.20,90.77 C259.5,90.0 260.5,87.8 261.2,86.3 C261.9,84.9 262.5,83.4 263.2,81.9 C263.9,80.3 264.5,78.8 265.2,77.3 C265.9,75.8 266.5,74.2 267.2,72.7 C267.9,71.2 268.5,69.7 269.2,68.1 C269.9,66.6 270.5,65.1 271.2,63.5 C271.9,62.0 272.5,60.5 273.2,59.0 C273.9,57.5 274.5,56.0 275.2,54.5 C275.9,53.1 276.5,51.6 277.2,50.1 C277.9,48.7 278.5,47.3 279.2,45.9 C279.9,44.5 280.5,43.1 281.2,41.7 C281.9,40.4 282.5,39.0 283.2,37.7 C283.9,36.4 284.5,35.1 285.2,33.9 C285.9,32.7 286.5,31.5 287.2,30.3 C287.9,29.1 288.5,28.0 289.2,26.9 C289.9,25.8 290.5,24.8 291.2,23.8 C291.9,22.8 292.5,21.8 293.2,20.9 C293.9,20.0 294.5,19.2 295.2,18.4 C295.9,17.6 296.5,16.8 297.2,16.2 C297.9,15.5 298.5,14.8 299.2,14.3 C299.9,13.7 300.5,13.2 301.2,12.7 C301.9,12.3 302.5,11.9 303.2,11.5 C303.9,11.2 304.5,10.9 305.2,10.6 C305.9,10.4 306.5,10.2 307.2,10.0 C307.9,9.8 308.5,9.7 309.2,9.6 C309.9,9.5 310.5,9.5 311.2,9.5 C311.9,9.4 312.5,9.5 313.2,9.5 C313.9,9.6 314.5,9.6 315.2,9.8 C315.9,9.9 316.5,10.0 317.2,10.1 C317.9,10.3 318.5,10.5 319.2,10.7 C319.9,10.8 320.5,11.1 321.2,11.3 C321.9,11.5 322.5,11.7 323.2,12.0 C323.9,12.2 324.5,12.5 325.2,12.7 C325.9,13.0 326.5,13.2 327.2,13.5 C327.9,13.8 328.5,14.0 329.2,14.3 C329.9,14.5 330.5,14.8 331.2,15.1 C331.9,15.3 332.5,15.6 333.2,15.9 C333.9,16.2 334.5,16.4 335.2,16.7 C335.9,17.0 336.5,17.3 337.2,17.6 C337.9,17.8 338.5,18.1 339.2,18.4 C339.9,18.7 340.5,19.0 341.2,19.3 C341.9,19.6 342.5,20.0 343.2,20.3 C343.9,20.6 344.5,20.9 345.2,21.2 C345.9,21.6 346.5,21.9 347.2,22.3 C347.9,22.6 348.5,23.0 349.2,23.3 C349.9,23.7 350.5,24.1 351.2,24.4 C351.9,24.8 352.5,25.2 353.2,25.6 C353.9,26.0 354.5,26.4 355.2,26.8 C355.9,27.3 356.5,27.7 357.2,28.1 C357.9,28.6 358.5,29.0 359.2,29.5 C359.9,29.9 360.5,30.4 361.2,30.9 C361.9,31.3 362.5,31.8 363.2,32.3 C363.9,32.8 364.5,33.3 365.2,33.8 C365.9,34.3 366.5,34.9 367.2,35.4 C367.9,35.9 368.5,36.5 369.2,37.0 C369.9,37.6 370.5,38.2 371.2,38.7 C371.9,39.3 372.5,39.9 373.2,40.5 C373.9,41.1 374.5,41.7 375.2,42.3 C375.9,43.0 376.5,43.6 377.2,44.2 C377.9,44.9 378.5,45.5 379.2,46.2 C379.9,46.8 380.5,47.5 381.2,48.2 C381.9,48.9 382.5,49.6 383.2,50.3 C383.9,51.0 384.5,51.7 385.2,52.4 C385.9,53.1 386.5,53.9 387.2,54.6 C387.9,55.4 388.5,56.1 389.2,56.9 C389.9,57.7 390.5,58.4 391.2,59.2 C391.9,60.0 392.5,60.8 393.2,61.6 C393.9,62.5 394.5,63.3 395.2,64.1 C395.9,65.0 396.5,65.8 397.2,66.7 C397.9,67.5 398.5,68.4 399.2,69.3 C399.9,70.2 400.5,71.0 401.2,71.9 C401.9,72.8 402.5,73.8 403.2,74.7 C403.9,75.6 404.5,76.5 405.2,77.4 C405.9,78.3 406.5,79.3 407.2,80.2 C407.9,81.1 408.5,82.1 409.2,83.0 C409.9,83.9 410.5,84.9 411.2,85.8 C411.9,86.7 412.5,87.7 413.2,88.6 C413.9,89.5 414.5,90.4 415.2,91.4 C415.9,92.3 416.5,93.2 417.2,94.1 C417.9,95.0 418.5,96.0 419.2,96.9 C419.9,97.8 420.5,98.7 421.2,99.5 C421.9,100.4 422.5,101.3 423.2,102.2 C423.9,103.0 424.5,103.9 425.2,104.7 C425.9,105.6 426.5,106.4 427.2,107.2 C427.9,108.1 428.5,108.9 429.2,109.6 C429.9,110.4 430.5,111.2 431.2,112.0 C431.9,112.7 432.5,113.4 433.2,114.2 C433.9,114.9 434.5,115.6 435.2,116.3 C435.9,116.9 436.5,117.6 437.2,118.2 C437.9,118.9 438.5,119.5 439.2,120.1 C439.9,120.7 440.6,121.3 441.2,121.8 C441.8,122.3 442.7,122.9 443.0,123.2 L443.00,146.20 Z" fill="#C81412" fill-opacity="0.550" stroke="none"/>
<path d="M259.20,90.77 C259.5,90.0 260.5,87.8 261.2,86.3 C261.9,84.9 262.5,83.4 263.2,81.9 C263.9,80.3 264.5,78.8 265.2,77.3 C265.9,75.8 266.5,74.2 267.2,72.7 C267.9,71.2 268.5,69.7 269.2,68.1 C269.9,66.6 270.5,65.1 271.2,63.5 C271.9,62.0 272.5,60.5 273.2,59.0 C273.9,57.5 274.5,56.0 275.2,54.5 C275.9,53.1 276.5,51.6 277.2,50.1 C277.9,48.7 278.5,47.3 279.2,45.9 C279.9,44.5 280.5,43.1 281.2,41.7 C281.9,40.4 282.5,39.0 283.2,37.7 C283.9,36.4 284.5,35.1 285.2,33.9 C285.9,32.7 286.5,31.5 287.2,30.3 C287.9,29.1 288.5,28.0 289.2,26.9 C289.9,25.8 290.5,24.8 291.2,23.8 C291.9,22.8 292.5,21.8 293.2,20.9 C293.9,20.0 294.5,19.2 295.2,18.4 C295.9,17.6 296.5,16.8 297.2,16.2 C297.9,15.5 298.5,14.8 299.2,14.3 C299.9,13.7 300.5,13.2 301.2,12.7 C301.9,12.3 302.5,11.9 303.2,11.5 C303.9,11.2 304.5,10.9 305.2,10.6 C305.9,10.4 306.5,10.2 307.2,10.0 C307.9,9.8 308.5,9.7 309.2,9.6 C309.9,9.5 310.5,9.5 311.2,9.5 C311.9,9.4 312.5,9.5 313.2,9.5 C313.9,9.6 314.5,9.6 315.2,9.8 C315.9,9.9 316.5,10.0 317.2,10.1 C317.9,10.3 318.5,10.5 319.2,10.7 C319.9,10.8 320.5,11.1 321.2,11.3 C321.9,11.5 322.5,11.7 323.2,12.0 C323.9,12.2 324.5,12.5 325.2,12.7 C325.9,13.0 326.5,13.2 327.2,13.5 C327.9,13.8 328.5,14.0 329.2,14.3 C329.9,14.5 330.5,14.8 331.2,15.1 C331.9,15.3 332.5,15.6 333.2,15.9 C333.9,16.2 334.5,16.4 335.2,16.7 C335.9,17.0 336.5,17.3 337.2,17.6 C337.9,17.8 338.5,18.1 339.2,18.4 C339.9,18.7 340.5,19.0 341.2,19.3 C341.9,19.6 342.5,20.0 343.2,20.3 C343.9,20.6 344.5,20.9 345.2,21.2 C345.9,21.6 346.5,21.9 347.2,22.3 C347.9,22.6 348.5,23.0 349.2,23.3 C349.9,23.7 350.5,24.1 351.2,24.4 C351.9,24.8 352.5,25.2 353.2,25.6 C353.9,26.0 354.5,26.4 355.2,26.8 C355.9,27.3 356.5,27.7 357.2,28.1 C357.9,28.6 358.5,29.0 359.2,29.5 C359.9,29.9 360.5,30.4 361.2,30.9 C361.9,31.3 362.5,31.8 363.2,32.3 C363.9,32.8 364.5,33.3 365.2,33.8 C365.9,34.3 366.5,34.9 367.2,35.4 C367.9,35.9 368.5,36.5 369.2,37.0 C369.9,37.6 370.5,38.2 371.2,38.7 C371.9,39.3 372.5,39.9 373.2,40.5 C373.9,41.1 374.5,41.7 375.2,42.3 C375.9,43.0 376.5,43.6 377.2,44.2 C377.9,44.9 378.5,45.5 379.2,46.2 C379.9,46.8 380.5,47.5 381.2,48.2 C381.9,48.9 382.5,49.6 383.2,50.3 C383.9,51.0 384.5,51.7 385.2,52.4 C385.9,53.1 386.5,53.9 387.2,54.6 C387.9,55.4 388.5,56.1 389.2,56.9 C389.9,57.7 390.5,58.4 391.2,59.2 C391.9,60.0 392.5,60.8 393.2,61.6 C393.9,62.5 394.5,63.3 395.2,64.1 C395.9,65.0 396.5,65.8 397.2,66.7 C397.9,67.5 398.5,68.4 399.2,69.3 C399.9,70.2 400.5,71.0 401.2,71.9 C401.9,72.8 402.5,73.8 403.2,74.7 C403.9,75.6 404.5,76.5 405.2,77.4 C405.9,78.3 406.5,79.3 407.2,80.2 C407.9,81.1 408.5,82.1 409.2,83.0 C409.9,83.9 410.5,84.9 411.2,85.8 C411.9,86.7 412.5,87.7 413.2,88.6 C413.9,89.5 414.5,90.4 415.2,91.4 C415.9,92.3 416.5,93.2 417.2,94.1 C417.9,95.0 418.5,96.0 419.2,96.9 C419.9,97.8 420.5,98.7 421.2,99.5 C421.9,100.4 422.5,101.3 423.2,102.2 C423.9,103.0 424.5,103.9 425.2,104.7 C425.9,105.6 426.5,106.4 427.2,107.2 C427.9,108.1 428.5,108.9 429.2,109.6 C429.9,110.4 430.5,111.2 431.2,112.0 C431.9,112.7 432.5,113.4 433.2,114.2 C433.9,114.9 434.5,115.6 435.2,116.3 C435.9,116.9 436.5,117.6 437.2,118.2 C437.9,118.9 438.5,119.5 439.2,120.1 C439.9,120.7 440.6,121.3 441.2,121.8 C441.8,122.3 442.7,122.9 443.0,123.2" fill="none" stroke="#d11f2a" stroke-width="0.8"/>
<line x1="259.20" y1="148.10" x2="259.20" y2="152.30" stroke="#3f63d6" stroke-width="0.9" stroke-opacity="0.55"/>
<line x1="271.40" y1="148.10" x2="271.40" y2="152.30" stroke="#3f63d6" stroke-width="0.9" stroke-opacity="0.55"/>
<line x1="289.60" y1="148.10" x2="289.60" y2="152.30" stroke="#3f63d6" stroke-width="0.9" stroke-opacity="0.55"/>
<line x1="291.40" y1="148.10" x2="291.40" y2="152.30" stroke="#3f63d6" stroke-width="0.9" stroke-opacity="0.55"/>
<line x1="292.40" y1="148.10" x2="292.40" y2="152.30" stroke="#3f63d6" stroke-width="0.9" stroke-opacity="0.55"/>
<line x1="295.20" y1="148.10" x2="295.20" y2="152.30" stroke="#3f63d6" stroke-width="0.9" stroke-opacity="0.55"/>
<line x1="296.60" y1="148.10" x2="296.60" y2="152.30" stroke="#3f63d6" stroke-width="0.9" stroke-opacity="0.55"/>
<line x1="298.00" y1="148.10" x2="298.00" y2="152.30" stroke="#3f63d6" stroke-width="0.9" stroke-opacity="0.55"/>
<line x1="301.50" y1="148.10" x2="301.50" y2="152.30" stroke="#3f63d6" stroke-width="0.9" stroke-opacity="0.55"/>
<line x1="309.40" y1="148.10" x2="309.40" y2="152.30" stroke="#3f63d6" stroke-width="0.9" stroke-opacity="0.55"/>
<line x1="315.00" y1="148.10" x2="315.00" y2="152.30" stroke="#3f63d6" stroke-width="0.9" stroke-opacity="0.55"/>
<line x1="329.30" y1="148.10" x2="329.30" y2="152.30" stroke="#3f63d6" stroke-width="0.9" stroke-opacity="0.55"/>
<line x1="339.50" y1="148.10" x2="339.50" y2="152.30" stroke="#3f63d6" stroke-width="0.9" stroke-opacity="0.55"/>
<line x1="340.90" y1="148.10" x2="340.90" y2="152.30" stroke="#3f63d6" stroke-width="0.9" stroke-opacity="0.55"/>
<line x1="342.30" y1="148.10" x2="342.30" y2="152.30" stroke="#3f63d6" stroke-width="0.9" stroke-opacity="0.55"/>
<line x1="352.60" y1="148.10" x2="352.60" y2="152.30" stroke="#3f63d6" stroke-width="0.9" stroke-opacity="0.55"/>
<line x1="356.40" y1="148.10" x2="356.40" y2="152.30" stroke="#3f63d6" stroke-width="0.9" stroke-opacity="0.55"/>
<line x1="358.50" y1="148.10" x2="358.50" y2="152.30" stroke="#3f63d6" stroke-width="0.9" stroke-opacity="0.55"/>
<line x1="371.50" y1="148.10" x2="371.50" y2="152.30" stroke="#3f63d6" stroke-width="0.9" stroke-opacity="0.55"/>
<line x1="374.30" y1="148.10" x2="374.30" y2="152.30" stroke="#3f63d6" stroke-width="0.9" stroke-opacity="0.55"/>
<line x1="376.40" y1="148.10" x2="376.40" y2="152.30" stroke="#3f63d6" stroke-width="0.9" stroke-opacity="0.55"/>
<line x1="382.70" y1="148.10" x2="382.70" y2="152.30" stroke="#3f63d6" stroke-width="0.9" stroke-opacity="0.55"/>
<line x1="385.80" y1="148.10" x2="385.80" y2="152.30" stroke="#3f63d6" stroke-width="0.9" stroke-opacity="0.55"/>
<line x1="387.20" y1="148.10" x2="387.20" y2="152.30" stroke="#3f63d6" stroke-width="0.9" stroke-opacity="0.55"/>
<line x1="398.60" y1="148.10" x2="398.60" y2="152.30" stroke="#3f63d6" stroke-width="0.9" stroke-opacity="0.55"/>
<line x1="402.40" y1="148.10" x2="402.40" y2="152.30" stroke="#3f63d6" stroke-width="0.9" stroke-opacity="0.55"/>
<line x1="412.60" y1="148.10" x2="412.60" y2="152.30" stroke="#3f63d6" stroke-width="0.9" stroke-opacity="0.55"/>
<line x1="416.40" y1="148.10" x2="416.40" y2="152.30" stroke="#3f63d6" stroke-width="0.9" stroke-opacity="0.55"/>
<line x1="417.90" y1="148.10" x2="417.90" y2="152.30" stroke="#3f63d6" stroke-width="0.9" stroke-opacity="0.55"/>
<line x1="432.30" y1="148.10" x2="432.30" y2="152.30" stroke="#3f63d6" stroke-width="0.9" stroke-opacity="0.55"/>
<line x1="435.80" y1="148.10" x2="435.80" y2="152.30" stroke="#3f63d6" stroke-width="0.9" stroke-opacity="0.55"/>
<line x1="263.40" y1="148.10" x2="263.40" y2="152.30" stroke="#d3222c" stroke-width="0.9" stroke-opacity="0.55"/>
<line x1="267.60" y1="148.10" x2="267.60" y2="152.30" stroke="#d3222c" stroke-width="0.9" stroke-opacity="0.55"/>
<line x1="269.20" y1="148.10" x2="269.20" y2="152.30" stroke="#d3222c" stroke-width="0.9" stroke-opacity="0.55"/>
<line x1="270.00" y1="148.10" x2="270.00" y2="152.30" stroke="#d3222c" stroke-width="0.9" stroke-opacity="0.55"/>
<line x1="281.60" y1="148.10" x2="281.60" y2="152.30" stroke="#d3222c" stroke-width="0.9" stroke-opacity="0.55"/>
<line x1="288.90" y1="148.10" x2="288.90" y2="152.30" stroke="#d3222c" stroke-width="0.9" stroke-opacity="0.55"/>
<line x1="299.80" y1="148.10" x2="299.80" y2="152.30" stroke="#d3222c" stroke-width="0.9" stroke-opacity="0.55"/>
<line x1="300.90" y1="148.10" x2="300.90" y2="152.30" stroke="#d3222c" stroke-width="0.9" stroke-opacity="0.55"/>
<line x1="305.20" y1="148.10" x2="305.20" y2="152.30" stroke="#d3222c" stroke-width="0.9" stroke-opacity="0.55"/>
<line x1="308.30" y1="148.10" x2="308.30" y2="152.30" stroke="#d3222c" stroke-width="0.9" stroke-opacity="0.55"/>
<line x1="312.50" y1="148.10" x2="312.50" y2="152.30" stroke="#d3222c" stroke-width="0.9" stroke-opacity="0.55"/>
<line x1="318.50" y1="148.10" x2="318.50" y2="152.30" stroke="#d3222c" stroke-width="0.9" stroke-opacity="0.55"/>
<line x1="322.30" y1="148.10" x2="322.30" y2="152.30" stroke="#d3222c" stroke-width="0.9" stroke-opacity="0.55"/>
<line x1="333.20" y1="148.10" x2="333.20" y2="152.30" stroke="#d3222c" stroke-width="0.9" stroke-opacity="0.55"/>
<line x1="334.60" y1="148.10" x2="334.60" y2="152.30" stroke="#d3222c" stroke-width="0.9" stroke-opacity="0.55"/>
<line x1="346.50" y1="148.10" x2="346.50" y2="152.30" stroke="#d3222c" stroke-width="0.9" stroke-opacity="0.55"/>
<line x1="351.20" y1="148.10" x2="351.20" y2="152.30" stroke="#d3222c" stroke-width="0.9" stroke-opacity="0.55"/>
<line x1="353.60" y1="148.10" x2="353.60" y2="152.30" stroke="#d3222c" stroke-width="0.9" stroke-opacity="0.55"/>
<line x1="366.60" y1="148.10" x2="366.60" y2="152.30" stroke="#d3222c" stroke-width="0.9" stroke-opacity="0.55"/>
<line x1="368.30" y1="148.10" x2="368.30" y2="152.30" stroke="#d3222c" stroke-width="0.9" stroke-opacity="0.55"/>
<line x1="370.40" y1="148.10" x2="370.40" y2="152.30" stroke="#d3222c" stroke-width="0.9" stroke-opacity="0.55"/>
<line x1="378.80" y1="148.10" x2="378.80" y2="152.30" stroke="#d3222c" stroke-width="0.9" stroke-opacity="0.55"/>
<line x1="390.40" y1="148.10" x2="390.40" y2="152.30" stroke="#d3222c" stroke-width="0.9" stroke-opacity="0.55"/>
<line x1="395.00" y1="148.10" x2="395.00" y2="152.30" stroke="#d3222c" stroke-width="0.9" stroke-opacity="0.55"/>
<line x1="395.10" y1="148.10" x2="395.10" y2="152.30" stroke="#d3222c" stroke-width="0.9" stroke-opacity="0.55"/>
<line x1="403.50" y1="148.10" x2="403.50" y2="152.30" stroke="#d3222c" stroke-width="0.9" stroke-opacity="0.55"/>
<line x1="409.60" y1="148.10" x2="409.60" y2="152.30" stroke="#d3222c" stroke-width="0.9" stroke-opacity="0.55"/>
<line x1="412.60" y1="148.10" x2="412.60" y2="152.30" stroke="#d3222c" stroke-width="0.9" stroke-opacity="0.55"/>
<line x1="443.40" y1="148.10" x2="443.40" y2="152.30" stroke="#d3222c" stroke-width="0.9" stroke-opacity="0.55"/>
<line x1="337.40" y1="1.90" x2="337.40" y2="152.40" stroke="#d11f2a" stroke-width="0.9" stroke-dasharray="2,2.4" opacity="0.85"/>
<line x1="352.90" y1="1.90" x2="352.90" y2="152.40" stroke="#4a6fdc" stroke-width="0.9" stroke-dasharray="2,2.4" opacity="0.6"/>
<path d="M250.35,2.40 V152.90 H451.60" fill="none" stroke="#6b6b6b" stroke-width="1"/>
<line x1="248.55" y1="7.40" x2="250.35" y2="7.40" stroke="#333333" stroke-width="0.9"/>
<text x="247.75" y="9.75" text-anchor="end" font-size="6.50" fill="#3d3d3d" textLength="10.34" lengthAdjust="spacingAndGlyphs">1.2</text>
<line x1="248.55" y1="42.00" x2="250.35" y2="42.00" stroke="#333333" stroke-width="0.9"/>
<text x="247.75" y="44.35" text-anchor="end" font-size="6.50" fill="#3d3d3d" textLength="10.34" lengthAdjust="spacingAndGlyphs">0.9</text>
<line x1="248.55" y1="76.70" x2="250.35" y2="76.70" stroke="#333333" stroke-width="0.9"/>
<text x="247.75" y="79.05" text-anchor="end" font-size="6.50" fill="#3d3d3d" textLength="10.34" lengthAdjust="spacingAndGlyphs">0.6</text>
<line x1="248.55" y1="111.30" x2="250.35" y2="111.30" stroke="#333333" stroke-width="0.9"/>
<text x="247.75" y="113.65" text-anchor="end" font-size="6.50" fill="#3d3d3d" textLength="10.34" lengthAdjust="spacingAndGlyphs">0.3</text>
<line x1="248.55" y1="146.00" x2="250.35" y2="146.00" stroke="#333333" stroke-width="0.9"/>
<text x="247.75" y="148.35" text-anchor="end" font-size="6.50" fill="#3d3d3d" textLength="10.34" lengthAdjust="spacingAndGlyphs">0.0</text>
<line x1="283.30" y1="152.90" x2="283.30" y2="154.70" stroke="#333333" stroke-width="0.9"/>
<text x="283.30" y="160.60" text-anchor="middle" font-size="6.50" fill="#3d3d3d" textLength="14.47" lengthAdjust="spacingAndGlyphs">2.50</text>
<line x1="324.40" y1="152.90" x2="324.40" y2="154.70" stroke="#333333" stroke-width="0.9"/>
<text x="324.40" y="160.60" text-anchor="middle" font-size="6.50" fill="#3d3d3d" textLength="14.47" lengthAdjust="spacingAndGlyphs">2.75</text>
<line x1="365.60" y1="152.90" x2="365.60" y2="154.70" stroke="#333333" stroke-width="0.9"/>
<text x="365.60" y="160.60" text-anchor="middle" font-size="6.50" fill="#3d3d3d" textLength="14.47" lengthAdjust="spacingAndGlyphs">3.00</text>
<line x1="407.00" y1="152.90" x2="407.00" y2="154.70" stroke="#333333" stroke-width="0.9"/>
<text x="407.00" y="160.60" text-anchor="middle" font-size="6.50" fill="#3d3d3d" textLength="14.47" lengthAdjust="spacingAndGlyphs">3.25</text>
<line x1="448.20" y1="152.90" x2="448.20" y2="154.70" stroke="#333333" stroke-width="0.9"/>
<text x="448.20" y="160.60" text-anchor="middle" font-size="6.50" fill="#3d3d3d" textLength="14.47" lengthAdjust="spacingAndGlyphs">3.50</text>
<text x="304.80" y="167.65" font-size="6.50" fill="#1a1a1a" textLength="93.10" lengthAdjust="spacingAndGlyphs">Contrast to Noise Ratio (T1w)</text>
<text transform="translate(230.19,8.60) scale(1.040,1)" font-size="10.5" font-weight="bold" fill="#000">b</text>
<path d="M488.40,146.20 L488.40,126.41 C488.7,126.3 489.7,125.8 490.4,125.6 C491.1,125.3 491.7,125.1 492.4,124.9 C493.1,124.7 493.7,124.5 494.4,124.4 C495.1,124.2 495.7,124.0 496.4,123.9 C497.1,123.7 497.7,123.6 498.4,123.4 C499.1,123.3 499.7,123.1 500.4,123.0 C501.1,122.8 501.7,122.6 502.4,122.4 C503.1,122.2 503.7,122.1 504.4,121.8 C505.1,121.6 505.7,121.4 506.4,121.1 C507.1,120.8 507.7,120.5 508.4,120.2 C509.1,119.8 509.7,119.5 510.4,119.0 C511.1,118.6 511.7,118.2 512.4,117.6 C513.1,117.1 513.7,116.6 514.4,116.0 C515.1,115.3 515.7,114.7 516.4,113.9 C517.1,113.2 517.7,112.4 518.4,111.5 C519.1,110.6 519.7,109.7 520.4,108.7 C521.1,107.7 521.7,106.6 522.4,105.4 C523.1,104.2 523.7,103.0 524.4,101.6 C525.1,100.3 525.7,98.8 526.4,97.3 C527.1,95.8 527.7,94.1 528.4,92.5 C529.1,90.8 529.7,89.0 530.4,87.2 C531.1,85.4 531.7,83.5 532.4,81.6 C533.1,79.7 533.7,77.7 534.4,75.7 C535.1,73.7 535.7,71.6 536.4,69.6 C537.1,67.6 537.7,65.5 538.4,63.4 C539.1,61.4 539.7,59.3 540.4,57.3 C541.1,55.3 541.7,53.3 542.4,51.4 C543.1,49.4 543.7,47.6 544.4,45.7 C545.1,43.9 545.7,42.1 546.4,40.4 C547.1,38.6 547.7,37.0 548.4,35.4 C549.1,33.7 549.7,32.2 550.4,30.7 C551.1,29.2 551.7,27.8 552.4,26.4 C553.1,25.1 553.7,23.8 554.4,22.6 C555.1,21.4 555.7,20.2 556.4,19.2 C557.1,18.1 557.7,17.1 558.4,16.2 C559.1,15.3 559.7,14.5 560.4,13.8 C561.1,13.1 561.7,12.4 562.4,11.8 C563.1,11.3 563.7,10.8 564.4,10.4 C565.1,10.0 565.7,9.7 566.4,9.5 C567.1,9.3 567.7,9.2 568.4,9.1 C569.1,9.0 569.7,9.0 570.4,9.1 C571.1,9.1 571.7,9.2 572.4,9.4 C573.1,9.6 573.7,9.9 574.4,10.1 C575.1,10.4 575.7,10.8 576.4,11.2 C577.1,11.6 577.7,12.0 578.4,12.5 C579.1,12.9 579.7,13.4 580.4,14.0 C581.1,14.5 581.7,15.1 582.4,15.7 C583.1,16.3 583.7,16.9 584.4,17.6 C585.1,18.2 585.7,18.8 586.4,19.5 C587.1,20.2 587.7,20.9 588.4,21.6 C589.1,22.3 589.7,23.0 590.4,23.8 C591.1,24.5 591.7,25.3 592.4,26.1 C593.1,26.9 593.7,27.7 594.4,28.5 C595.1,29.3 595.7,30.1 596.4,31.0 C597.1,31.9 597.7,32.7 598.4,33.7 C599.1,34.6 599.7,35.5 600.4,36.4 C601.1,37.4 601.7,38.4 602.4,39.4 C603.1,40.4 603.7,41.4 604.4,42.4 C605.1,43.5 605.7,44.5 606.4,45.6 C607.1,46.7 607.7,47.8 608.4,49.0 C609.1,50.1 609.7,51.3 610.4,52.5 C611.1,53.7 611.7,54.9 612.4,56.1 C613.1,57.4 613.7,58.7 614.4,60.0 C615.1,61.3 615.7,62.6 616.4,64.0 C617.1,65.3 617.7,66.7 618.4,68.1 C619.1,69.5 619.7,71.0 620.4,72.4 C621.1,73.9 621.7,75.3 622.4,76.8 C623.1,78.3 623.7,79.8 624.4,81.3 C625.1,82.8 625.7,84.3 626.4,85.9 C627.1,87.4 627.7,88.9 628.4,90.5 C629.1,92.0 629.7,93.6 630.4,95.1 C631.1,96.6 631.7,98.2 632.4,99.7 C633.1,101.2 633.7,102.8 634.4,104.3 C635.1,105.8 635.7,107.3 636.4,108.8 C637.1,110.3 637.7,111.8 638.4,113.3 C639.1,114.7 639.7,116.2 640.4,117.6 C641.1,118.9 641.7,120.3 642.4,121.6 C643.1,122.8 643.7,124.1 644.4,125.2 C645.1,126.3 645.7,127.4 646.4,128.3 C647.1,129.3 647.7,130.1 648.4,130.8 C649.1,131.6 649.7,132.2 650.4,132.7 C651.1,133.2 651.7,133.6 652.4,133.9 C653.1,134.2 653.7,134.4 654.4,134.6 C655.1,134.8 655.7,134.9 656.4,135.0 C657.1,135.1 657.7,135.1 658.4,135.2 C659.1,135.2 659.7,135.3 660.4,135.3 C661.1,135.3 661.7,135.3 662.4,135.3 C663.1,135.3 663.7,135.3 664.4,135.3 C665.1,135.3 665.7,135.3 666.4,135.3 C667.1,135.3 667.7,135.3 668.4,135.3 C669.1,135.3 669.7,135.3 670.4,135.3 C671.1,135.3 672.1,135.3 672.4,135.3 L672.40,146.20 Z" fill="#4664D2" fill-opacity="0.550" stroke="none"/>
<path d="M488.40,126.41 C488.7,126.3 489.7,125.8 490.4,125.6 C491.1,125.3 491.7,125.1 492.4,124.9 C493.1,124.7 493.7,124.5 494.4,124.4 C495.1,124.2 495.7,124.0 496.4,123.9 C497.1,123.7 497.7,123.6 498.4,123.4 C499.1,123.3 499.7,123.1 500.4,123.0 C501.1,122.8 501.7,122.6 502.4,122.4 C503.1,122.2 503.7,122.1 504.4,121.8 C505.1,121.6 505.7,121.4 506.4,121.1 C507.1,120.8 507.7,120.5 508.4,120.2 C509.1,119.8 509.7,119.5 510.4,119.0 C511.1,118.6 511.7,118.2 512.4,117.6 C513.1,117.1 513.7,116.6 514.4,116.0 C515.1,115.3 515.7,114.7 516.4,113.9 C517.1,113.2 517.7,112.4 518.4,111.5 C519.1,110.6 519.7,109.7 520.4,108.7 C521.1,107.7 521.7,106.6 522.4,105.4 C523.1,104.2 523.7,103.0 524.4,101.6 C525.1,100.3 525.7,98.8 526.4,97.3 C527.1,95.8 527.7,94.1 528.4,92.5 C529.1,90.8 529.7,89.0 530.4,87.2 C531.1,85.4 531.7,83.5 532.4,81.6 C533.1,79.7 533.7,77.7 534.4,75.7 C535.1,73.7 535.7,71.6 536.4,69.6 C537.1,67.6 537.7,65.5 538.4,63.4 C539.1,61.4 539.7,59.3 540.4,57.3 C541.1,55.3 541.7,53.3 542.4,51.4 C543.1,49.4 543.7,47.6 544.4,45.7 C545.1,43.9 545.7,42.1 546.4,40.4 C547.1,38.6 547.7,37.0 548.4,35.4 C549.1,33.7 549.7,32.2 550.4,30.7 C551.1,29.2 551.7,27.8 552.4,26.4 C553.1,25.1 553.7,23.8 554.4,22.6 C555.1,21.4 555.7,20.2 556.4,19.2 C557.1,18.1 557.7,17.1 558.4,16.2 C559.1,15.3 559.7,14.5 560.4,13.8 C561.1,13.1 561.7,12.4 562.4,11.8 C563.1,11.3 563.7,10.8 564.4,10.4 C565.1,10.0 565.7,9.7 566.4,9.5 C567.1,9.3 567.7,9.2 568.4,9.1 C569.1,9.0 569.7,9.0 570.4,9.1 C571.1,9.1 571.7,9.2 572.4,9.4 C573.1,9.6 573.7,9.9 574.4,10.1 C575.1,10.4 575.7,10.8 576.4,11.2 C577.1,11.6 577.7,12.0 578.4,12.5 C579.1,12.9 579.7,13.4 580.4,14.0 C581.1,14.5 581.7,15.1 582.4,15.7 C583.1,16.3 583.7,16.9 584.4,17.6 C585.1,18.2 585.7,18.8 586.4,19.5 C587.1,20.2 587.7,20.9 588.4,21.6 C589.1,22.3 589.7,23.0 590.4,23.8 C591.1,24.5 591.7,25.3 592.4,26.1 C593.1,26.9 593.7,27.7 594.4,28.5 C595.1,29.3 595.7,30.1 596.4,31.0 C597.1,31.9 597.7,32.7 598.4,33.7 C599.1,34.6 599.7,35.5 600.4,36.4 C601.1,37.4 601.7,38.4 602.4,39.4 C603.1,40.4 603.7,41.4 604.4,42.4 C605.1,43.5 605.7,44.5 606.4,45.6 C607.1,46.7 607.7,47.8 608.4,49.0 C609.1,50.1 609.7,51.3 610.4,52.5 C611.1,53.7 611.7,54.9 612.4,56.1 C613.1,57.4 613.7,58.7 614.4,60.0 C615.1,61.3 615.7,62.6 616.4,64.0 C617.1,65.3 617.7,66.7 618.4,68.1 C619.1,69.5 619.7,71.0 620.4,72.4 C621.1,73.9 621.7,75.3 622.4,76.8 C623.1,78.3 623.7,79.8 624.4,81.3 C625.1,82.8 625.7,84.3 626.4,85.9 C627.1,87.4 627.7,88.9 628.4,90.5 C629.1,92.0 629.7,93.6 630.4,95.1 C631.1,96.6 631.7,98.2 632.4,99.7 C633.1,101.2 633.7,102.8 634.4,104.3 C635.1,105.8 635.7,107.3 636.4,108.8 C637.1,110.3 637.7,111.8 638.4,113.3 C639.1,114.7 639.7,116.2 640.4,117.6 C641.1,118.9 641.7,120.3 642.4,121.6 C643.1,122.8 643.7,124.1 644.4,125.2 C645.1,126.3 645.7,127.4 646.4,128.3 C647.1,129.3 647.7,130.1 648.4,130.8 C649.1,131.6 649.7,132.2 650.4,132.7 C651.1,133.2 651.7,133.6 652.4,133.9 C653.1,134.2 653.7,134.4 654.4,134.6 C655.1,134.8 655.7,134.9 656.4,135.0 C657.1,135.1 657.7,135.1 658.4,135.2 C659.1,135.2 659.7,135.3 660.4,135.3 C661.1,135.3 661.7,135.3 662.4,135.3 C663.1,135.3 663.7,135.3 664.4,135.3 C665.1,135.3 665.7,135.3 666.4,135.3 C667.1,135.3 667.7,135.3 668.4,135.3 C669.1,135.3 669.7,135.3 670.4,135.3 C671.1,135.3 672.1,135.3 672.4,135.3" fill="none" stroke="#4a6fdc" stroke-width="0.8"/>
<path d="M488.40,146.20 L488.40,117.28 C488.7,116.8 489.7,115.2 490.4,114.3 C491.1,113.3 491.7,112.4 492.4,111.5 C493.1,110.7 493.7,109.9 494.4,109.1 C495.1,108.3 495.7,107.6 496.4,106.9 C497.1,106.2 497.7,105.5 498.4,104.9 C499.1,104.3 499.7,103.7 500.4,103.1 C501.1,102.5 501.7,102.0 502.4,101.4 C503.1,100.9 503.7,100.4 504.4,99.9 C505.1,99.5 505.7,99.0 506.4,98.6 C507.1,98.1 507.7,97.7 508.4,97.2 C509.1,96.8 509.7,96.4 510.4,96.0 C511.1,95.5 511.7,95.1 512.4,94.7 C513.1,94.3 513.7,93.9 514.4,93.4 C515.1,93.0 515.7,92.6 516.4,92.1 C517.1,91.7 517.7,91.3 518.4,90.8 C519.1,90.3 519.7,89.8 520.4,89.3 C521.1,88.8 521.7,88.3 522.4,87.8 C523.1,87.2 523.7,86.6 524.4,86.0 C525.1,85.4 525.7,84.8 526.4,84.1 C527.1,83.5 527.7,82.8 528.4,82.1 C529.1,81.4 529.7,80.7 530.4,80.0 C531.1,79.2 531.7,78.5 532.4,77.8 C533.1,77.1 533.7,76.3 534.4,75.6 C535.1,74.9 535.7,74.2 536.4,73.5 C537.1,72.8 537.7,72.2 538.4,71.6 C539.1,70.9 539.7,70.3 540.4,69.8 C541.1,69.2 541.7,68.7 542.4,68.2 C543.1,67.7 543.7,67.2 544.4,66.8 C545.1,66.4 545.7,66.0 546.4,65.7 C547.1,65.3 547.7,65.0 548.4,64.7 C549.1,64.4 549.7,64.1 550.4,63.9 C551.1,63.6 551.7,63.4 552.4,63.2 C553.1,63.0 553.7,62.8 554.4,62.6 C555.1,62.4 555.7,62.2 556.4,62.0 C557.1,61.9 557.7,61.7 558.4,61.5 C559.1,61.3 559.7,61.1 560.4,60.9 C561.1,60.6 561.7,60.4 562.4,60.1 C563.1,59.8 563.7,59.5 564.4,59.2 C565.1,58.9 565.7,58.5 566.4,58.1 C567.1,57.6 567.7,57.2 568.4,56.6 C569.1,56.1 569.7,55.5 570.4,54.9 C571.1,54.2 571.7,53.5 572.4,52.7 C573.1,52.0 573.7,51.1 574.4,50.2 C575.1,49.2 575.7,48.2 576.4,47.1 C577.1,46.0 577.7,44.8 578.4,43.5 C579.1,42.2 579.7,40.8 580.4,39.3 C581.1,37.9 581.7,36.4 582.4,34.9 C583.1,33.5 583.7,32.0 584.4,30.5 C585.1,29.1 585.7,27.7 586.4,26.4 C587.1,25.1 587.7,23.9 588.4,22.8 C589.1,21.7 589.7,20.6 590.4,19.7 C591.1,18.8 591.7,18.0 592.4,17.4 C593.1,16.7 593.7,16.1 594.4,15.7 C595.1,15.3 595.7,15.0 596.4,14.8 C597.1,14.7 597.7,14.7 598.4,14.8 C599.1,14.9 599.7,15.1 600.4,15.5 C601.1,15.9 601.7,16.5 602.4,17.2 C603.1,17.9 603.7,18.7 604.4,19.7 C605.1,20.8 605.7,21.9 606.4,23.2 C607.1,24.5 607.7,26.0 608.4,27.5 C609.1,29.1 609.7,30.7 610.4,32.4 C611.1,34.1 611.7,35.9 612.4,37.7 C613.1,39.4 613.7,41.2 614.4,43.0 C615.1,44.8 615.7,46.6 616.4,48.4 C617.1,50.1 617.7,51.9 618.4,53.7 C619.1,55.4 619.7,57.2 620.4,58.9 C621.1,60.6 621.7,62.4 622.4,64.1 C623.1,65.8 623.7,67.5 624.4,69.2 C625.1,70.8 625.7,72.5 626.4,74.2 C627.1,75.8 627.7,77.4 628.4,79.0 C629.1,80.6 629.7,82.2 630.4,83.8 C631.1,85.3 631.7,86.9 632.4,88.4 C633.1,89.9 633.7,91.4 634.4,92.8 C635.1,94.3 635.7,95.7 636.4,97.1 C637.1,98.5 637.7,99.8 638.4,101.2 C639.1,102.5 639.7,103.8 640.4,105.0 C641.1,106.3 641.7,107.5 642.4,108.6 C643.1,109.8 643.7,110.9 644.4,112.0 C645.1,113.1 645.7,114.2 646.4,115.2 C647.1,116.2 647.7,117.2 648.4,118.2 C649.1,119.1 649.7,120.1 650.4,121.0 C651.1,121.9 651.7,122.8 652.4,123.7 C653.1,124.5 653.7,125.4 654.4,126.2 C655.1,127.0 655.7,127.8 656.4,128.6 C657.1,129.4 657.7,130.2 658.4,131.0 C659.1,131.7 659.7,132.5 660.4,133.2 C661.1,133.9 661.7,134.6 662.4,135.2 C663.1,135.9 663.7,136.5 664.4,137.1 C665.1,137.8 665.7,138.3 666.4,138.9 C667.1,139.4 667.7,139.9 668.4,140.4 C669.1,140.9 669.7,141.3 670.4,141.7 C671.1,142.2 672.1,142.7 672.4,142.9 L672.40,146.20 Z" fill="#C81412" fill-opacity="0.550" stroke="none"/>
<path d="M488.40,117.28 C488.7,116.8 489.7,115.2 490.4,114.3 C491.1,113.3 491.7,112.4 492.4,111.5 C493.1,110.7 493.7,109.9 494.4,109.1 C495.1,108.3 495.7,107.6 496.4,106.9 C497.1,106.2 497.7,105.5 498.4,104.9 C499.1,104.3 499.7,103.7 500.4,103.1 C501.1,102.5 501.7,102.0 502.4,101.4 C503.1,100.9 503.7,100.4 504.4,99.9 C505.1,99.5 505.7,99.0 506.4,98.6 C507.1,98.1 507.7,97.7 508.4,97.2 C509.1,96.8 509.7,96.4 510.4,96.0 C511.1,95.5 511.7,95.1 512.4,94.7 C513.1,94.3 513.7,93.9 514.4,93.4 C515.1,93.0 515.7,92.6 516.4,92.1 C517.1,91.7 517.7,91.3 518.4,90.8 C519.1,90.3 519.7,89.8 520.4,89.3 C521.1,88.8 521.7,88.3 522.4,87.8 C523.1,87.2 523.7,86.6 524.4,86.0 C525.1,85.4 525.7,84.8 526.4,84.1 C527.1,83.5 527.7,82.8 528.4,82.1 C529.1,81.4 529.7,80.7 530.4,80.0 C531.1,79.2 531.7,78.5 532.4,77.8 C533.1,77.1 533.7,76.3 534.4,75.6 C535.1,74.9 535.7,74.2 536.4,73.5 C537.1,72.8 537.7,72.2 538.4,71.6 C539.1,70.9 539.7,70.3 540.4,69.8 C541.1,69.2 541.7,68.7 542.4,68.2 C543.1,67.7 543.7,67.2 544.4,66.8 C545.1,66.4 545.7,66.0 546.4,65.7 C547.1,65.3 547.7,65.0 548.4,64.7 C549.1,64.4 549.7,64.1 550.4,63.9 C551.1,63.6 551.7,63.4 552.4,63.2 C553.1,63.0 553.7,62.8 554.4,62.6 C555.1,62.4 555.7,62.2 556.4,62.0 C557.1,61.9 557.7,61.7 558.4,61.5 C559.1,61.3 559.7,61.1 560.4,60.9 C561.1,60.6 561.7,60.4 562.4,60.1 C563.1,59.8 563.7,59.5 564.4,59.2 C565.1,58.9 565.7,58.5 566.4,58.1 C567.1,57.6 567.7,57.2 568.4,56.6 C569.1,56.1 569.7,55.5 570.4,54.9 C571.1,54.2 571.7,53.5 572.4,52.7 C573.1,52.0 573.7,51.1 574.4,50.2 C575.1,49.2 575.7,48.2 576.4,47.1 C577.1,46.0 577.7,44.8 578.4,43.5 C579.1,42.2 579.7,40.8 580.4,39.3 C581.1,37.9 581.7,36.4 582.4,34.9 C583.1,33.5 583.7,32.0 584.4,30.5 C585.1,29.1 585.7,27.7 586.4,26.4 C587.1,25.1 587.7,23.9 588.4,22.8 C589.1,21.7 589.7,20.6 590.4,19.7 C591.1,18.8 591.7,18.0 592.4,17.4 C593.1,16.7 593.7,16.1 594.4,15.7 C595.1,15.3 595.7,15.0 596.4,14.8 C597.1,14.7 597.7,14.7 598.4,14.8 C599.1,14.9 599.7,15.1 600.4,15.5 C601.1,15.9 601.7,16.5 602.4,17.2 C603.1,17.9 603.7,18.7 604.4,19.7 C605.1,20.8 605.7,21.9 606.4,23.2 C607.1,24.5 607.7,26.0 608.4,27.5 C609.1,29.1 609.7,30.7 610.4,32.4 C611.1,34.1 611.7,35.9 612.4,37.7 C613.1,39.4 613.7,41.2 614.4,43.0 C615.1,44.8 615.7,46.6 616.4,48.4 C617.1,50.1 617.7,51.9 618.4,53.7 C619.1,55.4 619.7,57.2 620.4,58.9 C621.1,60.6 621.7,62.4 622.4,64.1 C623.1,65.8 623.7,67.5 624.4,69.2 C625.1,70.8 625.7,72.5 626.4,74.2 C627.1,75.8 627.7,77.4 628.4,79.0 C629.1,80.6 629.7,82.2 630.4,83.8 C631.1,85.3 631.7,86.9 632.4,88.4 C633.1,89.9 633.7,91.4 634.4,92.8 C635.1,94.3 635.7,95.7 636.4,97.1 C637.1,98.5 637.7,99.8 638.4,101.2 C639.1,102.5 639.7,103.8 640.4,105.0 C641.1,106.3 641.7,107.5 642.4,108.6 C643.1,109.8 643.7,110.9 644.4,112.0 C645.1,113.1 645.7,114.2 646.4,115.2 C647.1,116.2 647.7,117.2 648.4,118.2 C649.1,119.1 649.7,120.1 650.4,121.0 C651.1,121.9 651.7,122.8 652.4,123.7 C653.1,124.5 653.7,125.4 654.4,126.2 C655.1,127.0 655.7,127.8 656.4,128.6 C657.1,129.4 657.7,130.2 658.4,131.0 C659.1,131.7 659.7,132.5 660.4,133.2 C661.1,133.9 661.7,134.6 662.4,135.2 C663.1,135.9 663.7,136.5 664.4,137.1 C665.1,137.8 665.7,138.3 666.4,138.9 C667.1,139.4 667.7,139.9 668.4,140.4 C669.1,140.9 669.7,141.3 670.4,141.7 C671.1,142.2 672.1,142.7 672.4,142.9" fill="none" stroke="#d11f2a" stroke-width="0.8"/>
<line x1="488.40" y1="148.10" x2="488.40" y2="152.30" stroke="#3f63d6" stroke-width="0.9" stroke-opacity="0.55"/>
<line x1="502.40" y1="148.10" x2="502.40" y2="152.30" stroke="#3f63d6" stroke-width="0.9" stroke-opacity="0.55"/>
<line x1="528.10" y1="148.10" x2="528.10" y2="152.30" stroke="#3f63d6" stroke-width="0.9" stroke-opacity="0.55"/>
<line x1="538.40" y1="148.10" x2="538.40" y2="152.30" stroke="#3f63d6" stroke-width="0.9" stroke-opacity="0.55"/>
<line x1="547.50" y1="148.10" x2="547.50" y2="152.30" stroke="#3f63d6" stroke-width="0.9" stroke-opacity="0.55"/>
<line x1="550.60" y1="148.10" x2="550.60" y2="152.30" stroke="#3f63d6" stroke-width="0.9" stroke-opacity="0.55"/>
<line x1="554.80" y1="148.10" x2="554.80" y2="152.30" stroke="#3f63d6" stroke-width="0.9" stroke-opacity="0.55"/>
<line x1="561.10" y1="148.10" x2="561.10" y2="152.30" stroke="#3f63d6" stroke-width="0.9" stroke-opacity="0.55"/>
<line x1="562.50" y1="148.10" x2="562.50" y2="152.30" stroke="#3f63d6" stroke-width="0.9" stroke-opacity="0.55"/>
<line x1="564.50" y1="148.10" x2="564.50" y2="152.30" stroke="#3f63d6" stroke-width="0.9" stroke-opacity="0.55"/>
<line x1="577.30" y1="148.10" x2="577.30" y2="152.30" stroke="#3f63d6" stroke-width="0.9" stroke-opacity="0.55"/>
<line x1="577.40" y1="148.10" x2="577.40" y2="152.30" stroke="#3f63d6" stroke-width="0.9" stroke-opacity="0.55"/>
<line x1="585.80" y1="148.10" x2="585.80" y2="152.30" stroke="#3f63d6" stroke-width="0.9" stroke-opacity="0.55"/>
<line x1="591.40" y1="148.10" x2="591.40" y2="152.30" stroke="#3f63d6" stroke-width="0.9" stroke-opacity="0.55"/>
<line x1="597.30" y1="148.10" x2="597.30" y2="152.30" stroke="#3f63d6" stroke-width="0.9" stroke-opacity="0.55"/>
<line x1="600.50" y1="148.10" x2="600.50" y2="152.30" stroke="#3f63d6" stroke-width="0.9" stroke-opacity="0.55"/>
<line x1="608.20" y1="148.10" x2="608.20" y2="152.30" stroke="#3f63d6" stroke-width="0.9" stroke-opacity="0.55"/>
<line x1="613.80" y1="148.10" x2="613.80" y2="152.30" stroke="#3f63d6" stroke-width="0.9" stroke-opacity="0.55"/>
<line x1="617.60" y1="148.10" x2="617.60" y2="152.30" stroke="#3f63d6" stroke-width="0.9" stroke-opacity="0.55"/>
<line x1="621.10" y1="148.10" x2="621.10" y2="152.30" stroke="#3f63d6" stroke-width="0.9" stroke-opacity="0.55"/>
<line x1="622.50" y1="148.10" x2="622.50" y2="152.30" stroke="#3f63d6" stroke-width="0.9" stroke-opacity="0.55"/>
<line x1="631.40" y1="148.10" x2="631.40" y2="152.30" stroke="#3f63d6" stroke-width="0.9" stroke-opacity="0.55"/>
<line x1="672.40" y1="148.10" x2="672.40" y2="152.30" stroke="#3f63d6" stroke-width="0.9" stroke-opacity="0.55"/>
<line x1="494.50" y1="148.10" x2="494.50" y2="152.30" stroke="#d3222c" stroke-width="0.9" stroke-opacity="0.55"/>
<line x1="501.50" y1="148.10" x2="501.50" y2="152.30" stroke="#d3222c" stroke-width="0.9" stroke-opacity="0.55"/>
<line x1="503.40" y1="148.10" x2="503.40" y2="152.30" stroke="#d3222c" stroke-width="0.9" stroke-opacity="0.55"/>
<line x1="513.40" y1="148.10" x2="513.40" y2="152.30" stroke="#d3222c" stroke-width="0.9" stroke-opacity="0.55"/>
<line x1="517.40" y1="148.10" x2="517.40" y2="152.30" stroke="#d3222c" stroke-width="0.9" stroke-opacity="0.55"/>
<line x1="533.50" y1="148.10" x2="533.50" y2="152.30" stroke="#d3222c" stroke-width="0.9" stroke-opacity="0.55"/>
<line x1="543.60" y1="148.10" x2="543.60" y2="152.30" stroke="#d3222c" stroke-width="0.9" stroke-opacity="0.55"/>
<line x1="547.50" y1="148.10" x2="547.50" y2="152.30" stroke="#d3222c" stroke-width="0.9" stroke-opacity="0.55"/>
<line x1="551.70" y1="148.10" x2="551.70" y2="152.30" stroke="#d3222c" stroke-width="0.9" stroke-opacity="0.55"/>
<line x1="556.60" y1="148.10" x2="556.60" y2="152.30" stroke="#d3222c" stroke-width="0.9" stroke-opacity="0.55"/>
<line x1="559.40" y1="148.10" x2="559.40" y2="152.30" stroke="#d3222c" stroke-width="0.9" stroke-opacity="0.55"/>
<line x1="564.50" y1="148.10" x2="564.50" y2="152.30" stroke="#d3222c" stroke-width="0.9" stroke-opacity="0.55"/>
<line x1="577.30" y1="148.10" x2="577.30" y2="152.30" stroke="#d3222c" stroke-width="0.9" stroke-opacity="0.55"/>
<line x1="589.50" y1="148.10" x2="589.50" y2="152.30" stroke="#d3222c" stroke-width="0.9" stroke-opacity="0.55"/>
<line x1="591.40" y1="148.10" x2="591.40" y2="152.30" stroke="#d3222c" stroke-width="0.9" stroke-opacity="0.55"/>
<line x1="594.90" y1="148.10" x2="594.90" y2="152.30" stroke="#d3222c" stroke-width="0.9" stroke-opacity="0.55"/>
<line x1="600.50" y1="148.10" x2="600.50" y2="152.30" stroke="#d3222c" stroke-width="0.9" stroke-opacity="0.55"/>
<line x1="601.50" y1="148.10" x2="601.50" y2="152.30" stroke="#d3222c" stroke-width="0.9" stroke-opacity="0.55"/>
<line x1="602.20" y1="148.10" x2="602.20" y2="152.30" stroke="#d3222c" stroke-width="0.9" stroke-opacity="0.55"/>
<line x1="605.00" y1="148.10" x2="605.00" y2="152.30" stroke="#d3222c" stroke-width="0.9" stroke-opacity="0.55"/>
<line x1="608.20" y1="148.10" x2="608.20" y2="152.30" stroke="#d3222c" stroke-width="0.9" stroke-opacity="0.55"/>
<line x1="625.70" y1="148.10" x2="625.70" y2="152.30" stroke="#d3222c" stroke-width="0.9" stroke-opacity="0.55"/>
<line x1="629.50" y1="148.10" x2="629.50" y2="152.30" stroke="#d3222c" stroke-width="0.9" stroke-opacity="0.55"/>
<line x1="635.50" y1="148.10" x2="635.50" y2="152.30" stroke="#d3222c" stroke-width="0.9" stroke-opacity="0.55"/>
<line x1="637.40" y1="148.10" x2="637.40" y2="152.30" stroke="#d3222c" stroke-width="0.9" stroke-opacity="0.55"/>
<line x1="574.50" y1="1.90" x2="574.50" y2="152.40" stroke="#d11f2a" stroke-width="0.9" stroke-dasharray="2,2.4" opacity="0.85"/>
<line x1="575.40" y1="1.90" x2="575.40" y2="152.40" stroke="#4a6fdc" stroke-width="0.9" stroke-dasharray="2,2.4" opacity="0.6"/>
<path d="M479.60,2.40 V152.90 H681.80" fill="none" stroke="#6b6b6b" stroke-width="1"/>
<line x1="477.80" y1="30.60" x2="479.60" y2="30.60" stroke="#333333" stroke-width="0.9"/>
<text x="477.00" y="32.95" text-anchor="end" font-size="6.50" fill="#3d3d3d" textLength="8.27" lengthAdjust="spacingAndGlyphs">20</text>
<line x1="477.80" y1="59.50" x2="479.60" y2="59.50" stroke="#333333" stroke-width="0.9"/>
<text x="477.00" y="61.85" text-anchor="end" font-size="6.50" fill="#3d3d3d" textLength="8.27" lengthAdjust="spacingAndGlyphs">15</text>
<line x1="477.80" y1="88.40" x2="479.60" y2="88.40" stroke="#333333" stroke-width="0.9"/>
<text x="477.00" y="90.75" text-anchor="end" font-size="6.50" fill="#3d3d3d" textLength="8.27" lengthAdjust="spacingAndGlyphs">10</text>
<line x1="477.80" y1="117.30" x2="479.60" y2="117.30" stroke="#333333" stroke-width="0.9"/>
<text x="477.00" y="119.65" text-anchor="end" font-size="6.50" fill="#3d3d3d" textLength="4.14" lengthAdjust="spacingAndGlyphs">5</text>
<line x1="477.80" y1="146.20" x2="479.60" y2="146.20" stroke="#333333" stroke-width="0.9"/>
<text x="477.00" y="148.55" text-anchor="end" font-size="6.50" fill="#3d3d3d" textLength="4.14" lengthAdjust="spacingAndGlyphs">0</text>
<line x1="522.10" y1="152.90" x2="522.10" y2="154.70" stroke="#333333" stroke-width="0.9"/>
<text x="522.10" y="160.60" text-anchor="middle" font-size="6.50" fill="#3d3d3d" textLength="14.47" lengthAdjust="spacingAndGlyphs">0.68</text>
<line x1="567.30" y1="152.90" x2="567.30" y2="154.70" stroke="#333333" stroke-width="0.9"/>
<text x="567.30" y="160.60" text-anchor="middle" font-size="6.50" fill="#3d3d3d" textLength="14.47" lengthAdjust="spacingAndGlyphs">0.70</text>
<line x1="612.80" y1="152.90" x2="612.80" y2="154.70" stroke="#333333" stroke-width="0.9"/>
<text x="612.80" y="160.60" text-anchor="middle" font-size="6.50" fill="#3d3d3d" textLength="14.47" lengthAdjust="spacingAndGlyphs">0.72</text>
<line x1="658.40" y1="152.90" x2="658.40" y2="154.70" stroke="#333333" stroke-width="0.9"/>
<text x="658.40" y="160.60" text-anchor="middle" font-size="6.50" fill="#3d3d3d" textLength="14.47" lengthAdjust="spacingAndGlyphs">0.74</text>
<text x="533.70" y="167.65" font-size="6.50" fill="#1a1a1a" textLength="93.50" lengthAdjust="spacingAndGlyphs">Entropy-focus Criterion (T1w)</text>
<text transform="translate(458.77,8.30) scale(1.020,1)" font-size="10.5" font-weight="bold" fill="#000">c</text>
<path d="M30.20,319.30 L30.20,319.27 C30.5,319.3 31.5,319.3 32.2,319.3 C32.9,319.3 33.5,319.3 34.2,319.3 C34.9,319.3 35.5,319.3 36.2,319.3 C36.9,319.3 37.5,319.3 38.2,319.3 C38.9,319.3 39.5,319.3 40.2,319.3 C40.9,319.3 41.5,319.3 42.2,319.3 C42.9,319.3 43.5,319.2 44.2,319.2 C44.9,319.2 45.5,319.2 46.2,319.2 C46.9,319.2 47.5,319.2 48.2,319.2 C48.9,319.2 49.5,319.2 50.2,319.2 C50.9,319.2 51.5,319.2 52.2,319.2 C52.9,319.2 53.5,319.2 54.2,319.2 C54.9,319.2 55.5,319.2 56.2,319.2 C56.9,319.2 57.5,319.2 58.2,319.2 C58.9,319.1 59.5,319.1 60.2,319.0 C60.9,319.0 61.5,318.9 62.2,318.8 C62.9,318.7 63.5,318.5 64.2,318.4 C64.9,318.2 65.5,318.1 66.2,317.9 C66.9,317.7 67.5,317.4 68.2,317.1 C68.9,316.9 69.5,316.6 70.2,316.2 C70.9,315.9 71.5,315.6 72.2,315.2 C72.9,314.8 73.5,314.4 74.2,313.9 C74.9,313.5 75.5,313.0 76.2,312.6 C76.9,312.1 77.5,311.6 78.2,311.0 C78.9,310.5 79.5,309.9 80.2,309.3 C80.9,308.8 81.5,308.2 82.2,307.6 C82.9,307.0 83.5,306.4 84.2,305.8 C84.9,305.3 85.5,304.7 86.2,304.2 C86.9,303.7 87.5,303.3 88.2,302.8 C88.9,302.4 89.5,302.1 90.2,301.8 C90.9,301.5 91.5,301.3 92.2,301.2 C92.9,301.1 93.5,301.1 94.2,301.1 C94.9,301.2 95.5,301.3 96.2,301.5 C96.9,301.7 97.5,301.9 98.2,302.2 C98.9,302.5 99.5,302.8 100.2,303.1 C100.9,303.4 101.5,303.7 102.2,304.0 C102.9,304.2 103.5,304.5 104.2,304.7 C104.9,304.9 105.5,305.1 106.2,305.1 C106.9,305.2 107.5,305.3 108.2,305.2 C108.9,305.1 109.5,304.9 110.2,304.6 C110.9,304.3 111.5,303.8 112.2,303.2 C112.9,302.7 113.5,301.9 114.2,301.0 C114.9,300.1 115.5,299.0 116.2,297.7 C116.9,296.5 117.5,295.0 118.2,293.3 C118.9,291.6 119.5,289.6 120.2,287.5 C120.9,285.4 121.5,283.1 122.2,280.7 C122.9,278.3 123.5,275.6 124.2,272.9 C124.9,270.2 125.5,267.4 126.2,264.4 C126.9,261.5 127.5,258.5 128.2,255.4 C128.9,252.3 129.5,249.2 130.2,246.0 C130.9,242.9 131.5,239.7 132.2,236.5 C132.9,233.3 133.5,230.1 134.2,227.0 C134.9,223.9 135.5,220.8 136.2,217.8 C136.9,214.8 137.5,211.9 138.2,209.2 C138.9,206.4 139.5,203.8 140.2,201.3 C140.9,198.9 141.5,196.7 142.2,194.7 C142.9,192.6 143.5,190.8 144.2,189.3 C144.9,187.7 145.5,186.4 146.2,185.3 C146.9,184.3 147.5,183.4 148.2,182.8 C148.9,182.2 149.5,181.8 150.2,181.6 C150.9,181.4 151.5,181.5 152.2,181.7 C152.9,182.0 153.5,182.5 154.2,183.2 C154.9,183.9 155.5,184.8 156.2,185.9 C156.9,187.0 157.5,188.3 158.2,189.8 C158.9,191.3 159.5,193.0 160.2,194.8 C160.9,196.6 161.5,198.7 162.2,200.8 C162.9,202.9 163.5,205.2 164.2,207.4 C164.9,209.6 165.5,211.9 166.2,214.1 C166.9,216.3 167.5,218.5 168.2,220.6 C168.9,222.6 169.5,224.7 170.2,226.6 C170.9,228.5 171.5,230.4 172.2,232.2 C172.9,234.0 173.5,235.8 174.2,237.4 C174.9,239.1 175.5,240.7 176.2,242.1 C176.9,243.6 177.5,245.0 178.2,246.4 C178.9,247.7 179.5,248.9 180.2,250.0 C180.9,251.2 181.5,252.2 182.2,253.2 C182.9,254.1 183.5,255.0 184.2,255.7 C184.9,256.5 185.5,257.1 186.2,257.6 C186.9,258.2 187.5,258.6 188.2,258.9 C188.9,259.3 189.5,259.6 190.2,259.8 C190.9,260.1 191.5,260.3 192.2,260.5 C192.9,260.8 193.5,261.0 194.2,261.3 C194.9,261.6 195.5,261.8 196.2,262.3 C196.9,262.7 197.5,263.1 198.2,263.7 C198.9,264.3 199.5,265.0 200.2,265.9 C200.9,266.8 201.5,267.8 202.2,268.8 C202.9,269.9 203.5,271.1 204.2,272.4 C204.9,273.6 205.5,275.0 206.2,276.3 C206.9,277.7 207.5,279.1 208.2,280.5 C208.9,281.8 209.5,283.2 210.2,284.6 C210.9,285.9 211.6,287.4 212.2,288.4 C212.8,289.5 213.5,290.6 213.7,291.1 L213.70,319.30 Z" fill="#4664D2" fill-opacity="0.550" stroke="none"/>
<path d="M30.20,319.27 C30.5,319.3 31.5,319.3 32.2,319.3 C32.9,319.3 33.5,319.3 34.2,319.3 C34.9,319.3 35.5,319.3 36.2,319.3 C36.9,319.3 37.5,319.3 38.2,319.3 C38.9,319.3 39.5,319.3 40.2,319.3 C40.9,319.3 41.5,319.3 42.2,319.3 C42.9,319.3 43.5,319.2 44.2,319.2 C44.9,319.2 45.5,319.2 46.2,319.2 C46.9,319.2 47.5,319.2 48.2,319.2 C48.9,319.2 49.5,319.2 50.2,319.2 C50.9,319.2 51.5,319.2 52.2,319.2 C52.9,319.2 53.5,319.2 54.2,319.2 C54.9,319.2 55.5,319.2 56.2,319.2 C56.9,319.2 57.5,319.2 58.2,319.2 C58.9,319.1 59.5,319.1 60.2,319.0 C60.9,319.0 61.5,318.9 62.2,318.8 C62.9,318.7 63.5,318.5 64.2,318.4 C64.9,318.2 65.5,318.1 66.2,317.9 C66.9,317.7 67.5,317.4 68.2,317.1 C68.9,316.9 69.5,316.6 70.2,316.2 C70.9,315.9 71.5,315.6 72.2,315.2 C72.9,314.8 73.5,314.4 74.2,313.9 C74.9,313.5 75.5,313.0 76.2,312.6 C76.9,312.1 77.5,311.6 78.2,311.0 C78.9,310.5 79.5,309.9 80.2,309.3 C80.9,308.8 81.5,308.2 82.2,307.6 C82.9,307.0 83.5,306.4 84.2,305.8 C84.9,305.3 85.5,304.7 86.2,304.2 C86.9,303.7 87.5,303.3 88.2,302.8 C88.9,302.4 89.5,302.1 90.2,301.8 C90.9,301.5 91.5,301.3 92.2,301.2 C92.9,301.1 93.5,301.1 94.2,301.1 C94.9,301.2 95.5,301.3 96.2,301.5 C96.9,301.7 97.5,301.9 98.2,302.2 C98.9,302.5 99.5,302.8 100.2,303.1 C100.9,303.4 101.5,303.7 102.2,304.0 C102.9,304.2 103.5,304.5 104.2,304.7 C104.9,304.9 105.5,305.1 106.2,305.1 C106.9,305.2 107.5,305.3 108.2,305.2 C108.9,305.1 109.5,304.9 110.2,304.6 C110.9,304.3 111.5,303.8 112.2,303.2 C112.9,302.7 113.5,301.9 114.2,301.0 C114.9,300.1 115.5,299.0 116.2,297.7 C116.9,296.5 117.5,295.0 118.2,293.3 C118.9,291.6 119.5,289.6 120.2,287.5 C120.9,285.4 121.5,283.1 122.2,280.7 C122.9,278.3 123.5,275.6 124.2,272.9 C124.9,270.2 125.5,267.4 126.2,264.4 C126.9,261.5 127.5,258.5 128.2,255.4 C128.9,252.3 129.5,249.2 130.2,246.0 C130.9,242.9 131.5,239.7 132.2,236.5 C132.9,233.3 133.5,230.1 134.2,227.0 C134.9,223.9 135.5,220.8 136.2,217.8 C136.9,214.8 137.5,211.9 138.2,209.2 C138.9,206.4 139.5,203.8 140.2,201.3 C140.9,198.9 141.5,196.7 142.2,194.7 C142.9,192.6 143.5,190.8 144.2,189.3 C144.9,187.7 145.5,186.4 146.2,185.3 C146.9,184.3 147.5,183.4 148.2,182.8 C148.9,182.2 149.5,181.8 150.2,181.6 C150.9,181.4 151.5,181.5 152.2,181.7 C152.9,182.0 153.5,182.5 154.2,183.2 C154.9,183.9 155.5,184.8 156.2,185.9 C156.9,187.0 157.5,188.3 158.2,189.8 C158.9,191.3 159.5,193.0 160.2,194.8 C160.9,196.6 161.5,198.7 162.2,200.8 C162.9,202.9 163.5,205.2 164.2,207.4 C164.9,209.6 165.5,211.9 166.2,214.1 C166.9,216.3 167.5,218.5 168.2,220.6 C168.9,222.6 169.5,224.7 170.2,226.6 C170.9,228.5 171.5,230.4 172.2,232.2 C172.9,234.0 173.5,235.8 174.2,237.4 C174.9,239.1 175.5,240.7 176.2,242.1 C176.9,243.6 177.5,245.0 178.2,246.4 C178.9,247.7 179.5,248.9 180.2,250.0 C180.9,251.2 181.5,252.2 182.2,253.2 C182.9,254.1 183.5,255.0 184.2,255.7 C184.9,256.5 185.5,257.1 186.2,257.6 C186.9,258.2 187.5,258.6 188.2,258.9 C188.9,259.3 189.5,259.6 190.2,259.8 C190.9,260.1 191.5,260.3 192.2,260.5 C192.9,260.8 193.5,261.0 194.2,261.3 C194.9,261.6 195.5,261.8 196.2,262.3 C196.9,262.7 197.5,263.1 198.2,263.7 C198.9,264.3 199.5,265.0 200.2,265.9 C200.9,266.8 201.5,267.8 202.2,268.8 C202.9,269.9 203.5,271.1 204.2,272.4 C204.9,273.6 205.5,275.0 206.2,276.3 C206.9,277.7 207.5,279.1 208.2,280.5 C208.9,281.8 209.5,283.2 210.2,284.6 C210.9,285.9 211.6,287.4 212.2,288.4 C212.8,289.5 213.5,290.6 213.7,291.1" fill="none" stroke="#4a6fdc" stroke-width="0.8"/>
<path d="M30.20,319.30 L30.20,305.83 C30.5,305.7 31.5,305.1 32.2,304.8 C32.9,304.5 33.5,304.3 34.2,304.2 C34.9,304.1 35.5,304.0 36.2,304.0 C36.9,304.0 37.5,304.1 38.2,304.2 C38.9,304.2 39.5,304.4 40.2,304.6 C40.9,304.8 41.5,305.0 42.2,305.3 C42.9,305.6 43.5,305.9 44.2,306.2 C44.9,306.5 45.5,306.9 46.2,307.3 C46.9,307.7 47.5,308.1 48.2,308.5 C48.9,308.9 49.5,309.3 50.2,309.8 C50.9,310.2 51.5,310.6 52.2,311.1 C52.9,311.5 53.5,311.9 54.2,312.4 C54.9,312.8 55.5,313.2 56.2,313.6 C56.9,314.0 57.5,314.4 58.2,314.8 C58.9,315.1 59.5,315.5 60.2,315.8 C60.9,316.1 61.5,316.4 62.2,316.6 C62.9,316.9 63.5,317.1 64.2,317.3 C64.9,317.6 65.5,317.7 66.2,317.9 C66.9,318.1 67.5,318.2 68.2,318.3 C68.9,318.4 69.5,318.5 70.2,318.5 C70.9,318.6 71.5,318.6 72.2,318.6 C72.9,318.6 73.5,318.6 74.2,318.5 C74.9,318.5 75.5,318.4 76.2,318.3 C76.9,318.2 77.5,318.0 78.2,317.9 C78.9,317.7 79.5,317.5 80.2,317.3 C80.9,317.1 81.5,316.8 82.2,316.5 C82.9,316.2 83.5,315.9 84.2,315.6 C84.9,315.2 85.5,314.9 86.2,314.5 C86.9,314.1 87.5,313.6 88.2,313.2 C88.9,312.7 89.5,312.3 90.2,311.7 C90.9,311.2 91.5,310.7 92.2,310.1 C92.9,309.5 93.5,308.9 94.2,308.3 C94.9,307.7 95.5,307.0 96.2,306.4 C96.9,305.7 97.5,305.0 98.2,304.2 C98.9,303.5 99.5,302.8 100.2,302.1 C100.9,301.3 101.5,300.6 102.2,299.8 C102.9,299.1 103.5,298.4 104.2,297.6 C104.9,296.9 105.5,296.2 106.2,295.5 C106.9,294.9 107.5,294.2 108.2,293.6 C108.9,293.0 109.5,292.4 110.2,291.8 C110.9,291.2 111.5,290.7 112.2,290.2 C112.9,289.7 113.5,289.2 114.2,288.7 C114.9,288.1 115.5,287.6 116.2,287.1 C116.9,286.6 117.5,286.0 118.2,285.4 C118.9,284.8 119.5,284.2 120.2,283.6 C120.9,282.9 121.5,282.2 122.2,281.5 C122.9,280.7 123.5,279.9 124.2,279.0 C124.9,278.1 125.5,277.1 126.2,276.0 C126.9,275.0 127.5,273.8 128.2,272.6 C128.9,271.3 129.5,270.0 130.2,268.5 C130.9,267.0 131.5,265.5 132.2,263.7 C132.9,262.0 133.5,260.2 134.2,258.2 C134.9,256.2 135.5,254.0 136.2,251.8 C136.9,249.6 137.5,247.2 138.2,244.8 C138.9,242.4 139.5,239.9 140.2,237.4 C140.9,234.9 141.5,232.3 142.2,229.8 C142.9,227.2 143.5,224.6 144.2,222.0 C144.9,219.5 145.5,216.9 146.2,214.4 C146.9,212.0 147.5,209.5 148.2,207.3 C148.9,205.0 149.5,202.8 150.2,200.9 C150.9,198.9 151.5,197.1 152.2,195.4 C152.9,193.8 153.5,192.4 154.2,191.1 C154.9,189.8 155.5,188.7 156.2,187.8 C156.9,186.9 157.5,186.2 158.2,185.6 C158.9,185.0 159.5,184.7 160.2,184.4 C160.9,184.2 161.5,184.2 162.2,184.3 C162.9,184.5 163.5,184.8 164.2,185.3 C164.9,185.7 165.5,186.4 166.2,187.2 C166.9,188.0 167.5,189.0 168.2,190.2 C168.9,191.3 169.5,192.7 170.2,194.1 C170.9,195.6 171.5,197.2 172.2,198.9 C172.9,200.6 173.5,202.4 174.2,204.3 C174.9,206.1 175.5,208.0 176.2,209.9 C176.9,211.9 177.5,213.8 178.2,215.7 C178.9,217.6 179.5,219.5 180.2,221.4 C180.9,223.3 181.5,225.1 182.2,227.0 C182.9,228.8 183.5,230.6 184.2,232.5 C184.9,234.3 185.5,236.1 186.2,238.0 C186.9,239.9 187.5,241.8 188.2,243.7 C188.9,245.6 189.5,247.5 190.2,249.5 C190.9,251.5 191.5,253.6 192.2,255.7 C192.9,257.7 193.5,259.9 194.2,262.0 C194.9,264.1 195.5,266.3 196.2,268.4 C196.9,270.5 197.5,272.6 198.2,274.7 C198.9,276.8 199.5,278.8 200.2,280.8 C200.9,282.8 201.5,284.7 202.2,286.5 C202.9,288.4 203.5,290.1 204.2,291.8 C204.9,293.5 205.5,295.1 206.2,296.6 C206.9,298.1 207.5,299.6 208.2,301.0 C208.9,302.4 209.5,303.7 210.2,304.9 C210.9,306.1 211.6,307.4 212.2,308.3 C212.8,309.3 213.5,310.2 213.7,310.6 L213.70,319.30 Z" fill="#C81412" fill-opacity="0.550" stroke="none"/>
<path d="M30.20,305.83 C30.5,305.7 31.5,305.1 32.2,304.8 C32.9,304.5 33.5,304.3 34.2,304.2 C34.9,304.1 35.5,304.0 36.2,304.0 C36.9,304.0 37.5,304.1 38.2,304.2 C38.9,304.2 39.5,304.4 40.2,304.6 C40.9,304.8 41.5,305.0 42.2,305.3 C42.9,305.6 43.5,305.9 44.2,306.2 C44.9,306.5 45.5,306.9 46.2,307.3 C46.9,307.7 47.5,308.1 48.2,308.5 C48.9,308.9 49.5,309.3 50.2,309.8 C50.9,310.2 51.5,310.6 52.2,311.1 C52.9,311.5 53.5,311.9 54.2,312.4 C54.9,312.8 55.5,313.2 56.2,313.6 C56.9,314.0 57.5,314.4 58.2,314.8 C58.9,315.1 59.5,315.5 60.2,315.8 C60.9,316.1 61.5,316.4 62.2,316.6 C62.9,316.9 63.5,317.1 64.2,317.3 C64.9,317.6 65.5,317.7 66.2,317.9 C66.9,318.1 67.5,318.2 68.2,318.3 C68.9,318.4 69.5,318.5 70.2,318.5 C70.9,318.6 71.5,318.6 72.2,318.6 C72.9,318.6 73.5,318.6 74.2,318.5 C74.9,318.5 75.5,318.4 76.2,318.3 C76.9,318.2 77.5,318.0 78.2,317.9 C78.9,317.7 79.5,317.5 80.2,317.3 C80.9,317.1 81.5,316.8 82.2,316.5 C82.9,316.2 83.5,315.9 84.2,315.6 C84.9,315.2 85.5,314.9 86.2,314.5 C86.9,314.1 87.5,313.6 88.2,313.2 C88.9,312.7 89.5,312.3 90.2,311.7 C90.9,311.2 91.5,310.7 92.2,310.1 C92.9,309.5 93.5,308.9 94.2,308.3 C94.9,307.7 95.5,307.0 96.2,306.4 C96.9,305.7 97.5,305.0 98.2,304.2 C98.9,303.5 99.5,302.8 100.2,302.1 C100.9,301.3 101.5,300.6 102.2,299.8 C102.9,299.1 103.5,298.4 104.2,297.6 C104.9,296.9 105.5,296.2 106.2,295.5 C106.9,294.9 107.5,294.2 108.2,293.6 C108.9,293.0 109.5,292.4 110.2,291.8 C110.9,291.2 111.5,290.7 112.2,290.2 C112.9,289.7 113.5,289.2 114.2,288.7 C114.9,288.1 115.5,287.6 116.2,287.1 C116.9,286.6 117.5,286.0 118.2,285.4 C118.9,284.8 119.5,284.2 120.2,283.6 C120.9,282.9 121.5,282.2 122.2,281.5 C122.9,280.7 123.5,279.9 124.2,279.0 C124.9,278.1 125.5,277.1 126.2,276.0 C126.9,275.0 127.5,273.8 128.2,272.6 C128.9,271.3 129.5,270.0 130.2,268.5 C130.9,267.0 131.5,265.5 132.2,263.7 C132.9,262.0 133.5,260.2 134.2,258.2 C134.9,256.2 135.5,254.0 136.2,251.8 C136.9,249.6 137.5,247.2 138.2,244.8 C138.9,242.4 139.5,239.9 140.2,237.4 C140.9,234.9 141.5,232.3 142.2,229.8 C142.9,227.2 143.5,224.6 144.2,222.0 C144.9,219.5 145.5,216.9 146.2,214.4 C146.9,212.0 147.5,209.5 148.2,207.3 C148.9,205.0 149.5,202.8 150.2,200.9 C150.9,198.9 151.5,197.1 152.2,195.4 C152.9,193.8 153.5,192.4 154.2,191.1 C154.9,189.8 155.5,188.7 156.2,187.8 C156.9,186.9 157.5,186.2 158.2,185.6 C158.9,185.0 159.5,184.7 160.2,184.4 C160.9,184.2 161.5,184.2 162.2,184.3 C162.9,184.5 163.5,184.8 164.2,185.3 C164.9,185.7 165.5,186.4 166.2,187.2 C166.9,188.0 167.5,189.0 168.2,190.2 C168.9,191.3 169.5,192.7 170.2,194.1 C170.9,195.6 171.5,197.2 172.2,198.9 C172.9,200.6 173.5,202.4 174.2,204.3 C174.9,206.1 175.5,208.0 176.2,209.9 C176.9,211.9 177.5,213.8 178.2,215.7 C178.9,217.6 179.5,219.5 180.2,221.4 C180.9,223.3 181.5,225.1 182.2,227.0 C182.9,228.8 183.5,230.6 184.2,232.5 C184.9,234.3 185.5,236.1 186.2,238.0 C186.9,239.9 187.5,241.8 188.2,243.7 C188.9,245.6 189.5,247.5 190.2,249.5 C190.9,251.5 191.5,253.6 192.2,255.7 C192.9,257.7 193.5,259.9 194.2,262.0 C194.9,264.1 195.5,266.3 196.2,268.4 C196.9,270.5 197.5,272.6 198.2,274.7 C198.9,276.8 199.5,278.8 200.2,280.8 C200.9,282.8 201.5,284.7 202.2,286.5 C202.9,288.4 203.5,290.1 204.2,291.8 C204.9,293.5 205.5,295.1 206.2,296.6 C206.9,298.1 207.5,299.6 208.2,301.0 C208.9,302.4 209.5,303.7 210.2,304.9 C210.9,306.1 211.6,307.4 212.2,308.3 C212.8,309.3 213.5,310.2 213.7,310.6" fill="none" stroke="#d11f2a" stroke-width="0.8"/>
<line x1="88.70" y1="321.30" x2="88.70" y2="325.90" stroke="#3f63d6" stroke-width="0.9" stroke-opacity="0.55"/>
<line x1="97.10" y1="321.30" x2="97.10" y2="325.90" stroke="#3f63d6" stroke-width="0.9" stroke-opacity="0.55"/>
<line x1="123.20" y1="321.30" x2="123.20" y2="325.90" stroke="#3f63d6" stroke-width="0.9" stroke-opacity="0.55"/>
<line x1="132.50" y1="321.30" x2="132.50" y2="325.90" stroke="#3f63d6" stroke-width="0.9" stroke-opacity="0.55"/>
<line x1="140.70" y1="321.30" x2="140.70" y2="325.90" stroke="#3f63d6" stroke-width="0.9" stroke-opacity="0.55"/>
<line x1="142.10" y1="321.30" x2="142.10" y2="325.90" stroke="#3f63d6" stroke-width="0.9" stroke-opacity="0.55"/>
<line x1="144.20" y1="321.30" x2="144.20" y2="325.90" stroke="#3f63d6" stroke-width="0.9" stroke-opacity="0.55"/>
<line x1="145.20" y1="321.30" x2="145.20" y2="325.90" stroke="#3f63d6" stroke-width="0.9" stroke-opacity="0.55"/>
<line x1="152.60" y1="321.30" x2="152.60" y2="325.90" stroke="#3f63d6" stroke-width="0.9" stroke-opacity="0.55"/>
<line x1="157.50" y1="321.30" x2="157.50" y2="325.90" stroke="#3f63d6" stroke-width="0.9" stroke-opacity="0.55"/>
<line x1="158.50" y1="321.30" x2="158.50" y2="325.90" stroke="#3f63d6" stroke-width="0.9" stroke-opacity="0.55"/>
<line x1="160.60" y1="321.30" x2="160.60" y2="325.90" stroke="#3f63d6" stroke-width="0.9" stroke-opacity="0.55"/>
<line x1="164.80" y1="321.30" x2="164.80" y2="325.90" stroke="#3f63d6" stroke-width="0.9" stroke-opacity="0.55"/>
<line x1="167.90" y1="321.30" x2="167.90" y2="325.90" stroke="#3f63d6" stroke-width="0.9" stroke-opacity="0.55"/>
<line x1="175.50" y1="321.30" x2="175.50" y2="325.90" stroke="#3f63d6" stroke-width="0.9" stroke-opacity="0.55"/>
<line x1="178.10" y1="321.30" x2="178.10" y2="325.90" stroke="#3f63d6" stroke-width="0.9" stroke-opacity="0.55"/>
<line x1="187.60" y1="321.30" x2="187.60" y2="325.90" stroke="#3f63d6" stroke-width="0.9" stroke-opacity="0.55"/>
<line x1="193.70" y1="321.30" x2="193.70" y2="325.90" stroke="#3f63d6" stroke-width="0.9" stroke-opacity="0.55"/>
<line x1="196.40" y1="321.30" x2="196.40" y2="325.90" stroke="#3f63d6" stroke-width="0.9" stroke-opacity="0.55"/>
<line x1="202.40" y1="321.30" x2="202.40" y2="325.90" stroke="#3f63d6" stroke-width="0.9" stroke-opacity="0.55"/>
<line x1="204.30" y1="321.30" x2="204.30" y2="325.90" stroke="#3f63d6" stroke-width="0.9" stroke-opacity="0.55"/>
<line x1="214.20" y1="321.30" x2="214.20" y2="325.90" stroke="#3f63d6" stroke-width="0.9" stroke-opacity="0.55"/>
<line x1="30.50" y1="321.30" x2="30.50" y2="325.90" stroke="#d3222c" stroke-width="0.9" stroke-opacity="0.55"/>
<line x1="44.50" y1="321.30" x2="44.50" y2="325.90" stroke="#d3222c" stroke-width="0.9" stroke-opacity="0.55"/>
<line x1="104.10" y1="321.30" x2="104.10" y2="325.90" stroke="#d3222c" stroke-width="0.9" stroke-opacity="0.55"/>
<line x1="110.40" y1="321.30" x2="110.40" y2="325.90" stroke="#d3222c" stroke-width="0.9" stroke-opacity="0.55"/>
<line x1="119.50" y1="321.30" x2="119.50" y2="325.90" stroke="#d3222c" stroke-width="0.9" stroke-opacity="0.55"/>
<line x1="127.40" y1="321.30" x2="127.40" y2="325.90" stroke="#d3222c" stroke-width="0.9" stroke-opacity="0.55"/>
<line x1="138.40" y1="321.30" x2="138.40" y2="325.90" stroke="#d3222c" stroke-width="0.9" stroke-opacity="0.55"/>
<line x1="141.40" y1="321.30" x2="141.40" y2="325.90" stroke="#d3222c" stroke-width="0.9" stroke-opacity="0.55"/>
<line x1="147.30" y1="321.30" x2="147.30" y2="325.90" stroke="#d3222c" stroke-width="0.9" stroke-opacity="0.55"/>
<line x1="149.40" y1="321.30" x2="149.40" y2="325.90" stroke="#d3222c" stroke-width="0.9" stroke-opacity="0.55"/>
<line x1="154.70" y1="321.30" x2="154.70" y2="325.90" stroke="#d3222c" stroke-width="0.9" stroke-opacity="0.55"/>
<line x1="155.70" y1="321.30" x2="155.70" y2="325.90" stroke="#d3222c" stroke-width="0.9" stroke-opacity="0.55"/>
<line x1="157.50" y1="321.30" x2="157.50" y2="325.90" stroke="#d3222c" stroke-width="0.9" stroke-opacity="0.55"/>
<line x1="162.70" y1="321.30" x2="162.70" y2="325.90" stroke="#d3222c" stroke-width="0.9" stroke-opacity="0.55"/>
<line x1="164.80" y1="321.30" x2="164.80" y2="325.90" stroke="#d3222c" stroke-width="0.9" stroke-opacity="0.55"/>
<line x1="166.30" y1="321.30" x2="166.30" y2="325.90" stroke="#d3222c" stroke-width="0.9" stroke-opacity="0.55"/>
<line x1="166.40" y1="321.30" x2="166.40" y2="325.90" stroke="#d3222c" stroke-width="0.9" stroke-opacity="0.55"/>
<line x1="173.20" y1="321.30" x2="173.20" y2="325.90" stroke="#d3222c" stroke-width="0.9" stroke-opacity="0.55"/>
<line x1="175.50" y1="321.30" x2="175.50" y2="325.90" stroke="#d3222c" stroke-width="0.9" stroke-opacity="0.55"/>
<line x1="176.30" y1="321.30" x2="176.30" y2="325.90" stroke="#d3222c" stroke-width="0.9" stroke-opacity="0.55"/>
<line x1="182.70" y1="321.30" x2="182.70" y2="325.90" stroke="#d3222c" stroke-width="0.9" stroke-opacity="0.55"/>
<line x1="183.80" y1="321.30" x2="183.80" y2="325.90" stroke="#d3222c" stroke-width="0.9" stroke-opacity="0.55"/>
<line x1="186.50" y1="321.30" x2="186.50" y2="325.90" stroke="#d3222c" stroke-width="0.9" stroke-opacity="0.55"/>
<line x1="189.90" y1="321.30" x2="189.90" y2="325.90" stroke="#d3222c" stroke-width="0.9" stroke-opacity="0.55"/>
<line x1="191.10" y1="321.30" x2="191.10" y2="325.90" stroke="#d3222c" stroke-width="0.9" stroke-opacity="0.55"/>
<line x1="200.50" y1="321.30" x2="200.50" y2="325.90" stroke="#d3222c" stroke-width="0.9" stroke-opacity="0.55"/>
<line x1="151.40" y1="175.60" x2="151.40" y2="325.95" stroke="#d11f2a" stroke-width="0.9" stroke-dasharray="2,2.4" opacity="0.85"/>
<line x1="158.10" y1="175.60" x2="158.10" y2="325.95" stroke="#4a6fdc" stroke-width="0.9" stroke-dasharray="2,2.4" opacity="0.6"/>
<path d="M21.00,176.10 V326.45 H222.90" fill="none" stroke="#6b6b6b" stroke-width="1"/>
<line x1="19.20" y1="178.80" x2="21.00" y2="178.80" stroke="#333333" stroke-width="0.9"/>
<text x="18.40" y="181.15" text-anchor="end" font-size="6.50" fill="#3d3d3d" textLength="10.34" lengthAdjust="spacingAndGlyphs">0.6</text>
<line x1="19.20" y1="225.60" x2="21.00" y2="225.60" stroke="#333333" stroke-width="0.9"/>
<text x="18.40" y="227.95" text-anchor="end" font-size="6.50" fill="#3d3d3d" textLength="10.34" lengthAdjust="spacingAndGlyphs">0.4</text>
<line x1="19.20" y1="272.40" x2="21.00" y2="272.40" stroke="#333333" stroke-width="0.9"/>
<text x="18.40" y="274.75" text-anchor="end" font-size="6.50" fill="#3d3d3d" textLength="10.34" lengthAdjust="spacingAndGlyphs">0.2</text>
<line x1="19.20" y1="319.30" x2="21.00" y2="319.30" stroke="#333333" stroke-width="0.9"/>
<text x="18.40" y="321.65" text-anchor="end" font-size="6.50" fill="#3d3d3d" textLength="10.34" lengthAdjust="spacingAndGlyphs">0.0</text>
<line x1="33.90" y1="326.45" x2="33.90" y2="328.25" stroke="#333333" stroke-width="0.9"/>
<text x="33.90" y="333.75" text-anchor="middle" font-size="6.50" fill="#3d3d3d" textLength="4.14" lengthAdjust="spacingAndGlyphs">5</text>
<line x1="71.20" y1="326.45" x2="71.20" y2="328.25" stroke="#333333" stroke-width="0.9"/>
<text x="71.20" y="333.75" text-anchor="middle" font-size="6.50" fill="#3d3d3d" textLength="4.14" lengthAdjust="spacingAndGlyphs">6</text>
<line x1="108.40" y1="326.45" x2="108.40" y2="328.25" stroke="#333333" stroke-width="0.9"/>
<text x="108.40" y="333.75" text-anchor="middle" font-size="6.50" fill="#3d3d3d" textLength="4.14" lengthAdjust="spacingAndGlyphs">7</text>
<line x1="145.60" y1="326.45" x2="145.60" y2="328.25" stroke="#333333" stroke-width="0.9"/>
<text x="145.60" y="333.75" text-anchor="middle" font-size="6.50" fill="#3d3d3d" textLength="4.14" lengthAdjust="spacingAndGlyphs">8</text>
<line x1="182.60" y1="326.45" x2="182.60" y2="328.25" stroke="#333333" stroke-width="0.9"/>
<text x="182.60" y="333.75" text-anchor="middle" font-size="6.50" fill="#3d3d3d" textLength="4.14" lengthAdjust="spacingAndGlyphs">9</text>
<line x1="219.60" y1="326.45" x2="219.60" y2="328.25" stroke="#333333" stroke-width="0.9"/>
<text x="219.60" y="333.75" text-anchor="middle" font-size="6.50" fill="#3d3d3d" textLength="8.27" lengthAdjust="spacingAndGlyphs">10</text>
<text x="79.40" y="340.65" font-size="6.50" fill="#1a1a1a" textLength="85.60" lengthAdjust="spacingAndGlyphs">Signal to Noise Ratio (T2w)</text>
<text transform="translate(5.3,250.70) rotate(-90)" text-anchor="middle" font-size="6.50" fill="#1a1a1a" textLength="23.83" lengthAdjust="spacingAndGlyphs">density</text>
<text transform="translate(0.72,181.50) scale(1.150,1)" font-size="10.5" font-weight="bold" fill="#000">d</text>
<path d="M259.30,319.20 L259.30,301.46 C259.6,301.2 260.6,300.2 261.3,299.7 C262.0,299.3 262.6,299.0 263.3,298.7 C264.0,298.5 264.6,298.4 265.3,298.4 C266.0,298.3 266.6,298.4 267.3,298.5 C268.0,298.6 268.6,298.8 269.3,299.1 C270.0,299.3 270.6,299.6 271.3,300.0 C272.0,300.3 272.6,300.7 273.3,301.0 C274.0,301.4 274.6,301.8 275.3,302.2 C276.0,302.6 276.6,303.0 277.3,303.4 C278.0,303.8 278.6,304.2 279.3,304.5 C280.0,304.9 280.6,305.2 281.3,305.4 C282.0,305.7 282.6,305.9 283.3,306.0 C284.0,306.2 284.6,306.2 285.3,306.2 C286.0,306.2 286.6,306.2 287.3,306.1 C288.0,306.0 288.6,305.8 289.3,305.5 C290.0,305.3 290.6,305.0 291.3,304.7 C292.0,304.4 292.6,304.0 293.3,303.5 C294.0,303.1 294.6,302.6 295.3,302.1 C296.0,301.6 296.6,301.1 297.3,300.5 C298.0,299.9 298.6,299.3 299.3,298.7 C300.0,298.0 300.6,297.3 301.3,296.7 C302.0,296.0 302.6,295.2 303.3,294.5 C304.0,293.8 304.6,293.0 305.3,292.2 C306.0,291.5 306.6,290.7 307.3,289.9 C308.0,289.1 308.6,288.3 309.3,287.5 C310.0,286.7 310.6,285.9 311.3,285.2 C312.0,284.4 312.6,283.6 313.3,282.8 C314.0,282.1 314.6,281.3 315.3,280.6 C316.0,279.9 316.6,279.2 317.3,278.5 C318.0,277.8 318.6,277.2 319.3,276.6 C320.0,276.0 320.6,275.4 321.3,274.9 C322.0,274.4 322.6,274.0 323.3,273.5 C324.0,273.0 324.6,272.6 325.3,272.2 C326.0,271.8 326.6,271.3 327.3,270.8 C328.0,270.4 328.6,269.9 329.3,269.3 C330.0,268.7 330.6,268.1 331.3,267.3 C332.0,266.6 332.6,265.7 333.3,264.8 C334.0,263.8 334.6,262.8 335.3,261.5 C336.0,260.3 336.6,259.0 337.3,257.5 C338.0,256.0 338.6,254.4 339.3,252.6 C340.0,250.8 340.6,248.9 341.3,246.8 C342.0,244.6 342.6,242.3 343.3,239.9 C344.0,237.4 344.6,234.7 345.3,231.9 C346.0,229.2 346.6,226.2 347.3,223.3 C348.0,220.4 348.6,217.4 349.3,214.5 C350.0,211.6 350.6,208.7 351.3,206.0 C352.0,203.3 352.6,200.7 353.3,198.3 C354.0,195.9 354.6,193.6 355.3,191.7 C356.0,189.7 356.6,188.0 357.3,186.6 C358.0,185.2 358.6,184.2 359.3,183.4 C360.0,182.7 360.6,182.3 361.3,182.1 C362.0,181.9 362.6,182.0 363.3,182.3 C364.0,182.6 364.6,183.1 365.3,183.7 C366.0,184.3 366.6,185.1 367.3,185.9 C368.0,186.8 368.6,187.8 369.3,188.8 C370.0,189.8 370.6,190.8 371.3,191.9 C372.0,192.9 372.6,194.0 373.3,195.1 C374.0,196.2 374.6,197.3 375.3,198.5 C376.0,199.7 376.6,200.8 377.3,202.1 C378.0,203.3 378.6,204.6 379.3,205.9 C380.0,207.2 380.6,208.5 381.3,209.9 C382.0,211.2 382.6,212.7 383.3,214.1 C384.0,215.6 384.6,217.1 385.3,218.6 C386.0,220.1 386.6,221.7 387.3,223.4 C388.0,225.0 388.6,226.7 389.3,228.4 C390.0,230.2 390.6,232.0 391.3,233.9 C392.0,235.7 392.6,237.6 393.3,239.6 C394.0,241.6 394.6,243.7 395.3,245.8 C396.0,247.9 396.6,250.0 397.3,252.1 C398.0,254.3 398.6,256.4 399.3,258.5 C400.0,260.6 400.6,262.7 401.3,264.7 C402.0,266.7 402.6,268.7 403.3,270.5 C404.0,272.3 404.6,274.1 405.3,275.8 C406.0,277.4 406.6,279.0 407.3,280.5 C408.0,282.0 408.6,283.4 409.3,284.7 C410.0,286.0 410.6,287.3 411.3,288.4 C412.0,289.6 412.6,290.7 413.3,291.7 C414.0,292.7 414.6,293.7 415.3,294.6 C416.0,295.5 416.6,296.3 417.3,297.0 C418.0,297.8 418.6,298.5 419.3,299.1 C420.0,299.8 420.6,300.3 421.3,300.9 C422.0,301.4 422.6,301.9 423.3,302.3 C424.0,302.8 424.6,303.1 425.3,303.5 C426.0,303.8 426.6,304.1 427.3,304.4 C428.0,304.7 428.6,304.9 429.3,305.1 C430.0,305.3 430.6,305.5 431.3,305.6 C432.0,305.8 432.6,305.9 433.3,306.0 C434.0,306.0 434.6,306.1 435.3,306.2 C436.0,306.2 436.6,306.3 437.3,306.3 C438.0,306.3 438.6,306.3 439.3,306.3 C440.0,306.3 440.6,306.3 441.3,306.3 C442.0,306.3 443.0,306.3 443.3,306.3 L443.30,319.20 Z" fill="#4664D2" fill-opacity="0.550" stroke="none"/>
<path d="M259.30,301.46 C259.6,301.2 260.6,300.2 261.3,299.7 C262.0,299.3 262.6,299.0 263.3,298.7 C264.0,298.5 264.6,298.4 265.3,298.4 C266.0,298.3 266.6,298.4 267.3,298.5 C268.0,298.6 268.6,298.8 269.3,299.1 C270.0,299.3 270.6,299.6 271.3,300.0 C272.0,300.3 272.6,300.7 273.3,301.0 C274.0,301.4 274.6,301.8 275.3,302.2 C276.0,302.6 276.6,303.0 277.3,303.4 C278.0,303.8 278.6,304.2 279.3,304.5 C280.0,304.9 280.6,305.2 281.3,305.4 C282.0,305.7 282.6,305.9 283.3,306.0 C284.0,306.2 284.6,306.2 285.3,306.2 C286.0,306.2 286.6,306.2 287.3,306.1 C288.0,306.0 288.6,305.8 289.3,305.5 C290.0,305.3 290.6,305.0 291.3,304.7 C292.0,304.4 292.6,304.0 293.3,303.5 C294.0,303.1 294.6,302.6 295.3,302.1 C296.0,301.6 296.6,301.1 297.3,300.5 C298.0,299.9 298.6,299.3 299.3,298.7 C300.0,298.0 300.6,297.3 301.3,296.7 C302.0,296.0 302.6,295.2 303.3,294.5 C304.0,293.8 304.6,293.0 305.3,292.2 C306.0,291.5 306.6,290.7 307.3,289.9 C308.0,289.1 308.6,288.3 309.3,287.5 C310.0,286.7 310.6,285.9 311.3,285.2 C312.0,284.4 312.6,283.6 313.3,282.8 C314.0,282.1 314.6,281.3 315.3,280.6 C316.0,279.9 316.6,279.2 317.3,278.5 C318.0,277.8 318.6,277.2 319.3,276.6 C320.0,276.0 320.6,275.4 321.3,274.9 C322.0,274.4 322.6,274.0 323.3,273.5 C324.0,273.0 324.6,272.6 325.3,272.2 C326.0,271.8 326.6,271.3 327.3,270.8 C328.0,270.4 328.6,269.9 329.3,269.3 C330.0,268.7 330.6,268.1 331.3,267.3 C332.0,266.6 332.6,265.7 333.3,264.8 C334.0,263.8 334.6,262.8 335.3,261.5 C336.0,260.3 336.6,259.0 337.3,257.5 C338.0,256.0 338.6,254.4 339.3,252.6 C340.0,250.8 340.6,248.9 341.3,246.8 C342.0,244.6 342.6,242.3 343.3,239.9 C344.0,237.4 344.6,234.7 345.3,231.9 C346.0,229.2 346.6,226.2 347.3,223.3 C348.0,220.4 348.6,217.4 349.3,214.5 C350.0,211.6 350.6,208.7 351.3,206.0 C352.0,203.3 352.6,200.7 353.3,198.3 C354.0,195.9 354.6,193.6 355.3,191.7 C356.0,189.7 356.6,188.0 357.3,186.6 C358.0,185.2 358.6,184.2 359.3,183.4 C360.0,182.7 360.6,182.3 361.3,182.1 C362.0,181.9 362.6,182.0 363.3,182.3 C364.0,182.6 364.6,183.1 365.3,183.7 C366.0,184.3 366.6,185.1 367.3,185.9 C368.0,186.8 368.6,187.8 369.3,188.8 C370.0,189.8 370.6,190.8 371.3,191.9 C372.0,192.9 372.6,194.0 373.3,195.1 C374.0,196.2 374.6,197.3 375.3,198.5 C376.0,199.7 376.6,200.8 377.3,202.1 C378.0,203.3 378.6,204.6 379.3,205.9 C380.0,207.2 380.6,208.5 381.3,209.9 C382.0,211.2 382.6,212.7 383.3,214.1 C384.0,215.6 384.6,217.1 385.3,218.6 C386.0,220.1 386.6,221.7 387.3,223.4 C388.0,225.0 388.6,226.7 389.3,228.4 C390.0,230.2 390.6,232.0 391.3,233.9 C392.0,235.7 392.6,237.6 393.3,239.6 C394.0,241.6 394.6,243.7 395.3,245.8 C396.0,247.9 396.6,250.0 397.3,252.1 C398.0,254.3 398.6,256.4 399.3,258.5 C400.0,260.6 400.6,262.7 401.3,264.7 C402.0,266.7 402.6,268.7 403.3,270.5 C404.0,272.3 404.6,274.1 405.3,275.8 C406.0,277.4 406.6,279.0 407.3,280.5 C408.0,282.0 408.6,283.4 409.3,284.7 C410.0,286.0 410.6,287.3 411.3,288.4 C412.0,289.6 412.6,290.7 413.3,291.7 C414.0,292.7 414.6,293.7 415.3,294.6 C416.0,295.5 416.6,296.3 417.3,297.0 C418.0,297.8 418.6,298.5 419.3,299.1 C420.0,299.8 420.6,300.3 421.3,300.9 C422.0,301.4 422.6,301.9 423.3,302.3 C424.0,302.8 424.6,303.1 425.3,303.5 C426.0,303.8 426.6,304.1 427.3,304.4 C428.0,304.7 428.6,304.9 429.3,305.1 C430.0,305.3 430.6,305.5 431.3,305.6 C432.0,305.8 432.6,305.9 433.3,306.0 C434.0,306.0 434.6,306.1 435.3,306.2 C436.0,306.2 436.6,306.3 437.3,306.3 C438.0,306.3 438.6,306.3 439.3,306.3 C440.0,306.3 440.6,306.3 441.3,306.3 C442.0,306.3 443.0,306.3 443.3,306.3" fill="none" stroke="#4a6fdc" stroke-width="0.8"/>
<path d="M259.30,319.20 L259.30,308.60 C259.6,308.5 260.6,308.4 261.3,308.3 C262.0,308.1 262.6,308.0 263.3,307.9 C264.0,307.7 264.6,307.5 265.3,307.4 C266.0,307.2 266.6,307.0 267.3,306.8 C268.0,306.6 268.6,306.3 269.3,306.1 C270.0,305.8 270.6,305.6 271.3,305.3 C272.0,305.0 272.6,304.7 273.3,304.4 C274.0,304.1 274.6,303.8 275.3,303.5 C276.0,303.1 276.6,302.7 277.3,302.4 C278.0,302.0 278.6,301.6 279.3,301.2 C280.0,300.8 280.6,300.3 281.3,299.9 C282.0,299.4 282.6,299.0 283.3,298.5 C284.0,298.0 284.6,297.5 285.3,297.0 C286.0,296.5 286.6,295.9 287.3,295.3 C288.0,294.8 288.6,294.2 289.3,293.6 C290.0,293.0 290.6,292.4 291.3,291.7 C292.0,291.1 292.6,290.4 293.3,289.7 C294.0,289.1 294.6,288.4 295.3,287.6 C296.0,286.9 296.6,286.2 297.3,285.4 C298.0,284.6 298.6,283.8 299.3,283.0 C300.0,282.2 300.6,281.4 301.3,280.5 C302.0,279.7 302.6,278.8 303.3,277.9 C304.0,277.0 304.6,276.1 305.3,275.1 C306.0,274.2 306.6,273.2 307.3,272.2 C308.0,271.2 308.6,270.2 309.3,269.2 C310.0,268.1 310.6,267.1 311.3,266.0 C312.0,264.9 312.6,263.8 313.3,262.6 C314.0,261.5 314.6,260.3 315.3,259.2 C316.0,258.0 316.6,256.8 317.3,255.6 C318.0,254.4 318.6,253.1 319.3,251.9 C320.0,250.7 320.6,249.5 321.3,248.2 C322.0,247.0 322.6,245.8 323.3,244.6 C324.0,243.4 324.6,242.2 325.3,241.0 C326.0,239.8 326.6,238.6 327.3,237.4 C328.0,236.3 328.6,235.1 329.3,234.0 C330.0,232.9 330.6,231.8 331.3,230.8 C332.0,229.7 332.6,228.7 333.3,227.7 C334.0,226.7 334.6,225.8 335.3,224.9 C336.0,224.0 336.6,223.2 337.3,222.4 C338.0,221.6 338.6,220.8 339.3,220.1 C340.0,219.4 340.6,218.8 341.3,218.3 C342.0,217.7 342.6,217.2 343.3,216.8 C344.0,216.3 344.6,216.0 345.3,215.7 C346.0,215.4 346.6,215.2 347.3,215.1 C348.0,215.0 348.6,214.9 349.3,214.9 C350.0,215.0 350.6,215.1 351.3,215.2 C352.0,215.3 352.6,215.6 353.3,215.8 C354.0,216.0 354.6,216.3 355.3,216.6 C356.0,216.9 356.6,217.2 357.3,217.5 C358.0,217.8 358.6,218.1 359.3,218.5 C360.0,218.8 360.6,219.2 361.3,219.5 C362.0,219.9 362.6,220.3 363.3,220.7 C364.0,221.1 364.6,221.5 365.3,221.9 C366.0,222.3 366.6,222.7 367.3,223.2 C368.0,223.6 368.6,224.1 369.3,224.6 C370.0,225.1 370.6,225.6 371.3,226.1 C372.0,226.6 372.6,227.2 373.3,227.7 C374.0,228.3 374.6,228.8 375.3,229.4 C376.0,230.0 376.6,230.7 377.3,231.3 C378.0,231.9 378.6,232.6 379.3,233.3 C380.0,233.9 380.6,234.6 381.3,235.4 C382.0,236.1 382.6,236.8 383.3,237.6 C384.0,238.4 384.6,239.2 385.3,240.0 C386.0,240.8 386.6,241.6 387.3,242.5 C388.0,243.4 388.6,244.3 389.3,245.2 C390.0,246.1 390.6,247.1 391.3,248.1 C392.0,249.0 392.6,250.0 393.3,251.1 C394.0,252.1 394.6,253.2 395.3,254.3 C396.0,255.3 396.6,256.5 397.3,257.6 C398.0,258.8 398.6,260.0 399.3,261.2 C400.0,262.4 400.6,263.6 401.3,264.9 C402.0,266.2 402.6,267.5 403.3,268.9 C404.0,270.2 404.6,271.6 405.3,273.0 C406.0,274.3 406.6,275.7 407.3,277.1 C408.0,278.5 408.6,279.9 409.3,281.2 C410.0,282.6 410.6,283.9 411.3,285.2 C412.0,286.4 412.6,287.7 413.3,288.8 C414.0,290.0 414.6,291.2 415.3,292.2 C416.0,293.3 416.6,294.4 417.3,295.3 C418.0,296.3 418.6,297.2 419.3,298.1 C420.0,298.9 420.6,299.7 421.3,300.4 C422.0,301.1 422.6,301.8 423.3,302.4 C424.0,303.0 424.6,303.6 425.3,304.1 C426.0,304.6 426.6,305.0 427.3,305.5 C428.0,305.9 428.6,306.3 429.3,306.6 C430.0,307.0 430.6,307.4 431.3,307.7 C432.0,308.0 432.6,308.3 433.3,308.7 C434.0,309.0 434.6,309.3 435.3,309.6 C436.0,309.9 436.6,310.2 437.3,310.5 C438.0,310.9 438.6,311.2 439.3,311.6 C440.0,312.0 440.6,312.4 441.3,312.8 C442.0,313.2 443.0,314.0 443.3,314.2 L443.30,319.20 Z" fill="#C81412" fill-opacity="0.550" stroke="none"/>
<path d="M259.30,308.60 C259.6,308.5 260.6,308.4 261.3,308.3 C262.0,308.1 262.6,308.0 263.3,307.9 C264.0,307.7 264.6,307.5 265.3,307.4 C266.0,307.2 266.6,307.0 267.3,306.8 C268.0,306.6 268.6,306.3 269.3,306.1 C270.0,305.8 270.6,305.6 271.3,305.3 C272.0,305.0 272.6,304.7 273.3,304.4 C274.0,304.1 274.6,303.8 275.3,303.5 C276.0,303.1 276.6,302.7 277.3,302.4 C278.0,302.0 278.6,301.6 279.3,301.2 C280.0,300.8 280.6,300.3 281.3,299.9 C282.0,299.4 282.6,299.0 283.3,298.5 C284.0,298.0 284.6,297.5 285.3,297.0 C286.0,296.5 286.6,295.9 287.3,295.3 C288.0,294.8 288.6,294.2 289.3,293.6 C290.0,293.0 290.6,292.4 291.3,291.7 C292.0,291.1 292.6,290.4 293.3,289.7 C294.0,289.1 294.6,288.4 295.3,287.6 C296.0,286.9 296.6,286.2 297.3,285.4 C298.0,284.6 298.6,283.8 299.3,283.0 C300.0,282.2 300.6,281.4 301.3,280.5 C302.0,279.7 302.6,278.8 303.3,277.9 C304.0,277.0 304.6,276.1 305.3,275.1 C306.0,274.2 306.6,273.2 307.3,272.2 C308.0,271.2 308.6,270.2 309.3,269.2 C310.0,268.1 310.6,267.1 311.3,266.0 C312.0,264.9 312.6,263.8 313.3,262.6 C314.0,261.5 314.6,260.3 315.3,259.2 C316.0,258.0 316.6,256.8 317.3,255.6 C318.0,254.4 318.6,253.1 319.3,251.9 C320.0,250.7 320.6,249.5 321.3,248.2 C322.0,247.0 322.6,245.8 323.3,244.6 C324.0,243.4 324.6,242.2 325.3,241.0 C326.0,239.8 326.6,238.6 327.3,237.4 C328.0,236.3 328.6,235.1 329.3,234.0 C330.0,232.9 330.6,231.8 331.3,230.8 C332.0,229.7 332.6,228.7 333.3,227.7 C334.0,226.7 334.6,225.8 335.3,224.9 C336.0,224.0 336.6,223.2 337.3,222.4 C338.0,221.6 338.6,220.8 339.3,220.1 C340.0,219.4 340.6,218.8 341.3,218.3 C342.0,217.7 342.6,217.2 343.3,216.8 C344.0,216.3 344.6,216.0 345.3,215.7 C346.0,215.4 346.6,215.2 347.3,215.1 C348.0,215.0 348.6,214.9 349.3,214.9 C350.0,215.0 350.6,215.1 351.3,215.2 C352.0,215.3 352.6,215.6 353.3,215.8 C354.0,216.0 354.6,216.3 355.3,216.6 C356.0,216.9 356.6,217.2 357.3,217.5 C358.0,217.8 358.6,218.1 359.3,218.5 C360.0,218.8 360.6,219.2 361.3,219.5 C362.0,219.9 362.6,220.3 363.3,220.7 C364.0,221.1 364.6,221.5 365.3,221.9 C366.0,222.3 366.6,222.7 367.3,223.2 C368.0,223.6 368.6,224.1 369.3,224.6 C370.0,225.1 370.6,225.6 371.3,226.1 C372.0,226.6 372.6,227.2 373.3,227.7 C374.0,228.3 374.6,228.8 375.3,229.4 C376.0,230.0 376.6,230.7 377.3,231.3 C378.0,231.9 378.6,232.6 379.3,233.3 C380.0,233.9 380.6,234.6 381.3,235.4 C382.0,236.1 382.6,236.8 383.3,237.6 C384.0,238.4 384.6,239.2 385.3,240.0 C386.0,240.8 386.6,241.6 387.3,242.5 C388.0,243.4 388.6,244.3 389.3,245.2 C390.0,246.1 390.6,247.1 391.3,248.1 C392.0,249.0 392.6,250.0 393.3,251.1 C394.0,252.1 394.6,253.2 395.3,254.3 C396.0,255.3 396.6,256.5 397.3,257.6 C398.0,258.8 398.6,260.0 399.3,261.2 C400.0,262.4 400.6,263.6 401.3,264.9 C402.0,266.2 402.6,267.5 403.3,268.9 C404.0,270.2 404.6,271.6 405.3,273.0 C406.0,274.3 406.6,275.7 407.3,277.1 C408.0,278.5 408.6,279.9 409.3,281.2 C410.0,282.6 410.6,283.9 411.3,285.2 C412.0,286.4 412.6,287.7 413.3,288.8 C414.0,290.0 414.6,291.2 415.3,292.2 C416.0,293.3 416.6,294.4 417.3,295.3 C418.0,296.3 418.6,297.2 419.3,298.1 C420.0,298.9 420.6,299.7 421.3,300.4 C422.0,301.1 422.6,301.8 423.3,302.4 C424.0,303.0 424.6,303.6 425.3,304.1 C426.0,304.6 426.6,305.0 427.3,305.5 C428.0,305.9 428.6,306.3 429.3,306.6 C430.0,307.0 430.6,307.4 431.3,307.7 C432.0,308.0 432.6,308.3 433.3,308.7 C434.0,309.0 434.6,309.3 435.3,309.6 C436.0,309.9 436.6,310.2 437.3,310.5 C438.0,310.9 438.6,311.2 439.3,311.6 C440.0,312.0 440.6,312.4 441.3,312.8 C442.0,313.2 443.0,314.0 443.3,314.2" fill="none" stroke="#d11f2a" stroke-width="0.8"/>
<line x1="262.40" y1="321.30" x2="262.40" y2="325.90" stroke="#3f63d6" stroke-width="0.9" stroke-opacity="0.55"/>
<line x1="269.70" y1="321.30" x2="269.70" y2="325.90" stroke="#3f63d6" stroke-width="0.9" stroke-opacity="0.55"/>
<line x1="296.50" y1="321.30" x2="296.50" y2="325.90" stroke="#3f63d6" stroke-width="0.9" stroke-opacity="0.55"/>
<line x1="314.60" y1="321.30" x2="314.60" y2="325.90" stroke="#3f63d6" stroke-width="0.9" stroke-opacity="0.55"/>
<line x1="316.00" y1="321.30" x2="316.00" y2="325.90" stroke="#3f63d6" stroke-width="0.9" stroke-opacity="0.55"/>
<line x1="327.90" y1="321.30" x2="327.90" y2="325.90" stroke="#3f63d6" stroke-width="0.9" stroke-opacity="0.55"/>
<line x1="329.30" y1="321.30" x2="329.30" y2="325.90" stroke="#3f63d6" stroke-width="0.9" stroke-opacity="0.55"/>
<line x1="332.80" y1="321.30" x2="332.80" y2="325.90" stroke="#3f63d6" stroke-width="0.9" stroke-opacity="0.55"/>
<line x1="349.30" y1="321.30" x2="349.30" y2="325.90" stroke="#3f63d6" stroke-width="0.9" stroke-opacity="0.55"/>
<line x1="349.40" y1="321.30" x2="349.40" y2="325.90" stroke="#3f63d6" stroke-width="0.9" stroke-opacity="0.55"/>
<line x1="353.30" y1="321.30" x2="353.30" y2="325.90" stroke="#3f63d6" stroke-width="0.9" stroke-opacity="0.55"/>
<line x1="355.00" y1="321.30" x2="355.00" y2="325.90" stroke="#3f63d6" stroke-width="0.9" stroke-opacity="0.55"/>
<line x1="357.10" y1="321.30" x2="357.10" y2="325.90" stroke="#3f63d6" stroke-width="0.9" stroke-opacity="0.55"/>
<line x1="359.90" y1="321.30" x2="359.90" y2="325.90" stroke="#3f63d6" stroke-width="0.9" stroke-opacity="0.55"/>
<line x1="362.40" y1="321.30" x2="362.40" y2="325.90" stroke="#3f63d6" stroke-width="0.9" stroke-opacity="0.55"/>
<line x1="370.40" y1="321.30" x2="370.40" y2="325.90" stroke="#3f63d6" stroke-width="0.9" stroke-opacity="0.55"/>
<line x1="372.50" y1="321.30" x2="372.50" y2="325.90" stroke="#3f63d6" stroke-width="0.9" stroke-opacity="0.55"/>
<line x1="378.50" y1="321.30" x2="378.50" y2="325.90" stroke="#3f63d6" stroke-width="0.9" stroke-opacity="0.55"/>
<line x1="383.70" y1="321.30" x2="383.70" y2="325.90" stroke="#3f63d6" stroke-width="0.9" stroke-opacity="0.55"/>
<line x1="384.80" y1="321.30" x2="384.80" y2="325.90" stroke="#3f63d6" stroke-width="0.9" stroke-opacity="0.55"/>
<line x1="389.30" y1="321.30" x2="389.30" y2="325.90" stroke="#3f63d6" stroke-width="0.9" stroke-opacity="0.55"/>
<line x1="397.80" y1="321.30" x2="397.80" y2="325.90" stroke="#3f63d6" stroke-width="0.9" stroke-opacity="0.55"/>
<line x1="402.20" y1="321.30" x2="402.20" y2="325.90" stroke="#3f63d6" stroke-width="0.9" stroke-opacity="0.55"/>
<line x1="420.40" y1="321.30" x2="420.40" y2="325.90" stroke="#3f63d6" stroke-width="0.9" stroke-opacity="0.55"/>
<line x1="443.50" y1="321.30" x2="443.50" y2="325.90" stroke="#3f63d6" stroke-width="0.9" stroke-opacity="0.55"/>
<line x1="259.40" y1="321.30" x2="259.40" y2="325.90" stroke="#d3222c" stroke-width="0.9" stroke-opacity="0.55"/>
<line x1="283.70" y1="321.30" x2="283.70" y2="325.90" stroke="#d3222c" stroke-width="0.9" stroke-opacity="0.55"/>
<line x1="299.30" y1="321.30" x2="299.30" y2="325.90" stroke="#d3222c" stroke-width="0.9" stroke-opacity="0.55"/>
<line x1="308.30" y1="321.30" x2="308.30" y2="325.90" stroke="#d3222c" stroke-width="0.9" stroke-opacity="0.55"/>
<line x1="310.40" y1="321.30" x2="310.40" y2="325.90" stroke="#d3222c" stroke-width="0.9" stroke-opacity="0.55"/>
<line x1="319.40" y1="321.30" x2="319.40" y2="325.90" stroke="#d3222c" stroke-width="0.9" stroke-opacity="0.55"/>
<line x1="326.50" y1="321.30" x2="326.50" y2="325.90" stroke="#d3222c" stroke-width="0.9" stroke-opacity="0.55"/>
<line x1="327.90" y1="321.30" x2="327.90" y2="325.90" stroke="#d3222c" stroke-width="0.9" stroke-opacity="0.55"/>
<line x1="335.50" y1="321.30" x2="335.50" y2="325.90" stroke="#d3222c" stroke-width="0.9" stroke-opacity="0.55"/>
<line x1="339.10" y1="321.30" x2="339.10" y2="325.90" stroke="#d3222c" stroke-width="0.9" stroke-opacity="0.55"/>
<line x1="340.50" y1="321.30" x2="340.50" y2="325.90" stroke="#d3222c" stroke-width="0.9" stroke-opacity="0.55"/>
<line x1="343.30" y1="321.30" x2="343.30" y2="325.90" stroke="#d3222c" stroke-width="0.9" stroke-opacity="0.55"/>
<line x1="344.40" y1="321.30" x2="344.40" y2="325.90" stroke="#d3222c" stroke-width="0.9" stroke-opacity="0.55"/>
<line x1="349.30" y1="321.30" x2="349.30" y2="325.90" stroke="#d3222c" stroke-width="0.9" stroke-opacity="0.55"/>
<line x1="351.90" y1="321.30" x2="351.90" y2="325.90" stroke="#d3222c" stroke-width="0.9" stroke-opacity="0.55"/>
<line x1="358.90" y1="321.30" x2="358.90" y2="325.90" stroke="#d3222c" stroke-width="0.9" stroke-opacity="0.55"/>
<line x1="364.50" y1="321.30" x2="364.50" y2="325.90" stroke="#d3222c" stroke-width="0.9" stroke-opacity="0.55"/>
<line x1="375.70" y1="321.30" x2="375.70" y2="325.90" stroke="#d3222c" stroke-width="0.9" stroke-opacity="0.55"/>
<line x1="376.70" y1="321.30" x2="376.70" y2="325.90" stroke="#d3222c" stroke-width="0.9" stroke-opacity="0.55"/>
<line x1="378.50" y1="321.30" x2="378.50" y2="325.90" stroke="#d3222c" stroke-width="0.9" stroke-opacity="0.55"/>
<line x1="381.50" y1="321.30" x2="381.50" y2="325.90" stroke="#d3222c" stroke-width="0.9" stroke-opacity="0.55"/>
<line x1="392.10" y1="321.30" x2="392.10" y2="325.90" stroke="#d3222c" stroke-width="0.9" stroke-opacity="0.55"/>
<line x1="394.30" y1="321.30" x2="394.30" y2="325.90" stroke="#d3222c" stroke-width="0.9" stroke-opacity="0.55"/>
<line x1="396.30" y1="321.30" x2="396.30" y2="325.90" stroke="#d3222c" stroke-width="0.9" stroke-opacity="0.55"/>
<line x1="399.30" y1="321.30" x2="399.30" y2="325.90" stroke="#d3222c" stroke-width="0.9" stroke-opacity="0.55"/>
<line x1="401.60" y1="321.30" x2="401.60" y2="325.90" stroke="#d3222c" stroke-width="0.9" stroke-opacity="0.55"/>
<line x1="423.60" y1="321.30" x2="423.60" y2="325.90" stroke="#d3222c" stroke-width="0.9" stroke-opacity="0.55"/>
<line x1="351.30" y1="175.50" x2="351.30" y2="325.95" stroke="#d11f2a" stroke-width="0.9" stroke-dasharray="2,2.4" opacity="0.85"/>
<line x1="359.30" y1="175.50" x2="359.30" y2="325.95" stroke="#4a6fdc" stroke-width="0.9" stroke-dasharray="2,2.4" opacity="0.6"/>
<path d="M250.35,176.00 V326.45 H452.20" fill="none" stroke="#6b6b6b" stroke-width="1"/>
<line x1="248.55" y1="197.60" x2="250.35" y2="197.60" stroke="#333333" stroke-width="0.9"/>
<text x="247.75" y="199.95" text-anchor="end" font-size="6.50" fill="#3d3d3d" textLength="10.34" lengthAdjust="spacingAndGlyphs">2.0</text>
<line x1="248.55" y1="228.00" x2="250.35" y2="228.00" stroke="#333333" stroke-width="0.9"/>
<text x="247.75" y="230.35" text-anchor="end" font-size="6.50" fill="#3d3d3d" textLength="10.34" lengthAdjust="spacingAndGlyphs">1.5</text>
<line x1="248.55" y1="258.40" x2="250.35" y2="258.40" stroke="#333333" stroke-width="0.9"/>
<text x="247.75" y="260.75" text-anchor="end" font-size="6.50" fill="#3d3d3d" textLength="10.34" lengthAdjust="spacingAndGlyphs">1.0</text>
<line x1="248.55" y1="288.80" x2="250.35" y2="288.80" stroke="#333333" stroke-width="0.9"/>
<text x="247.75" y="291.15" text-anchor="end" font-size="6.50" fill="#3d3d3d" textLength="10.34" lengthAdjust="spacingAndGlyphs">0.5</text>
<line x1="248.55" y1="319.20" x2="250.35" y2="319.20" stroke="#333333" stroke-width="0.9"/>
<text x="247.75" y="321.55" text-anchor="end" font-size="6.50" fill="#3d3d3d" textLength="10.34" lengthAdjust="spacingAndGlyphs">0.0</text>
<line x1="286.40" y1="326.45" x2="286.40" y2="328.25" stroke="#333333" stroke-width="0.9"/>
<text x="286.40" y="333.75" text-anchor="middle" font-size="6.50" fill="#3d3d3d" textLength="14.47" lengthAdjust="spacingAndGlyphs">2.25</text>
<line x1="328.20" y1="326.45" x2="328.20" y2="328.25" stroke="#333333" stroke-width="0.9"/>
<text x="328.20" y="333.75" text-anchor="middle" font-size="6.50" fill="#3d3d3d" textLength="14.47" lengthAdjust="spacingAndGlyphs">2.50</text>
<line x1="369.90" y1="326.45" x2="369.90" y2="328.25" stroke="#333333" stroke-width="0.9"/>
<text x="369.90" y="333.75" text-anchor="middle" font-size="6.50" fill="#3d3d3d" textLength="14.47" lengthAdjust="spacingAndGlyphs">2.75</text>
<line x1="411.50" y1="326.45" x2="411.50" y2="328.25" stroke="#333333" stroke-width="0.9"/>
<text x="411.50" y="333.75" text-anchor="middle" font-size="6.50" fill="#3d3d3d" textLength="14.47" lengthAdjust="spacingAndGlyphs">3.00</text>
<text x="304.60" y="340.65" font-size="6.50" fill="#1a1a1a" textLength="93.60" lengthAdjust="spacingAndGlyphs">Contrast to Noise Ratio (T2w)</text>
<text transform="translate(230.20,181.80) scale(1.190,1)" font-size="10.5" font-weight="bold" fill="#000">e</text>
<path d="M488.50,319.20 L488.50,297.67 C488.8,297.4 489.8,296.8 490.5,296.4 C491.2,295.9 491.8,295.5 492.5,295.0 C493.2,294.5 493.8,294.0 494.5,293.4 C495.2,292.9 495.8,292.4 496.5,291.8 C497.2,291.2 497.8,290.7 498.5,290.1 C499.2,289.5 499.8,288.8 500.5,288.2 C501.2,287.6 501.8,286.9 502.5,286.2 C503.2,285.6 503.8,284.9 504.5,284.2 C505.2,283.5 505.8,282.7 506.5,282.0 C507.2,281.3 507.8,280.5 508.5,279.7 C509.2,279.0 509.8,278.2 510.5,277.4 C511.2,276.6 511.8,275.7 512.5,274.9 C513.2,274.1 513.8,273.3 514.5,272.4 C515.2,271.6 515.8,270.7 516.5,269.9 C517.2,269.1 517.8,268.2 518.5,267.4 C519.2,266.6 519.8,265.7 520.5,264.9 C521.2,264.1 521.8,263.3 522.5,262.5 C523.2,261.7 523.8,261.0 524.5,260.2 C525.2,259.5 525.8,258.7 526.5,258.0 C527.2,257.3 527.8,256.7 528.5,256.0 C529.2,255.4 529.8,254.8 530.5,254.2 C531.2,253.6 531.8,253.0 532.5,252.5 C533.2,252.0 533.8,251.5 534.5,251.0 C535.2,250.6 535.8,250.1 536.5,249.8 C537.2,249.4 537.8,249.0 538.5,248.7 C539.2,248.4 539.8,248.2 540.5,248.0 C541.2,247.7 541.8,247.6 542.5,247.5 C543.2,247.3 543.8,247.3 544.5,247.3 C545.2,247.2 545.8,247.3 546.5,247.3 C547.2,247.4 547.8,247.5 548.5,247.7 C549.2,247.8 549.8,248.0 550.5,248.2 C551.2,248.4 551.8,248.6 552.5,248.8 C553.2,249.0 553.8,249.3 554.5,249.5 C555.2,249.8 555.8,250.0 556.5,250.2 C557.2,250.5 557.8,250.7 558.5,250.9 C559.2,251.1 559.8,251.3 560.5,251.5 C561.2,251.6 561.8,251.8 562.5,251.9 C563.2,252.0 563.8,252.0 564.5,252.1 C565.2,252.1 565.8,252.0 566.5,252.0 C567.2,251.9 567.8,251.7 568.5,251.5 C569.2,251.4 569.8,251.1 570.5,250.8 C571.2,250.5 571.8,250.2 572.5,249.8 C573.2,249.4 573.8,249.0 574.5,248.5 C575.2,248.0 575.8,247.5 576.5,247.0 C577.2,246.4 577.8,245.8 578.5,245.2 C579.2,244.5 579.8,243.8 580.5,243.1 C581.2,242.4 581.8,241.6 582.5,240.8 C583.2,240.0 583.8,239.2 584.5,238.4 C585.2,237.5 585.8,236.6 586.5,235.7 C587.2,234.8 587.8,233.9 588.5,233.0 C589.2,232.1 589.8,231.1 590.5,230.2 C591.2,229.3 591.8,228.4 592.5,227.5 C593.2,226.6 593.8,225.7 594.5,224.8 C595.2,224.0 595.8,223.2 596.5,222.4 C597.2,221.6 597.8,220.8 598.5,220.1 C599.2,219.4 599.8,218.8 600.5,218.2 C601.2,217.6 601.8,217.1 602.5,216.6 C603.2,216.2 603.8,215.8 604.5,215.5 C605.2,215.2 605.8,215.0 606.5,214.9 C607.2,214.8 607.8,214.7 608.5,214.7 C609.2,214.8 609.8,214.9 610.5,215.0 C611.2,215.2 611.8,215.5 612.5,215.8 C613.2,216.1 613.8,216.5 614.5,217.0 C615.2,217.4 615.8,218.0 616.5,218.6 C617.2,219.2 617.8,219.8 618.5,220.6 C619.2,221.3 619.8,222.1 620.5,222.9 C621.2,223.7 621.8,224.6 622.5,225.6 C623.2,226.5 623.8,227.6 624.5,228.6 C625.2,229.7 625.8,230.8 626.5,231.9 C627.2,233.1 627.8,234.3 628.5,235.5 C629.2,236.7 629.8,237.9 630.5,239.2 C631.2,240.5 631.8,241.8 632.5,243.1 C633.2,244.4 633.8,245.8 634.5,247.1 C635.2,248.5 635.8,249.9 636.5,251.2 C637.2,252.6 637.8,254.0 638.5,255.3 C639.2,256.7 639.8,258.1 640.5,259.4 C641.2,260.8 641.8,262.2 642.5,263.5 C643.2,264.8 643.8,266.1 644.5,267.4 C645.2,268.7 645.8,270.0 646.5,271.2 C647.2,272.5 647.8,273.7 648.5,274.8 C649.2,276.0 649.8,277.1 650.5,278.2 C651.2,279.3 651.8,280.4 652.5,281.4 C653.2,282.4 653.8,283.4 654.5,284.3 C655.2,285.2 655.8,286.1 656.5,287.0 C657.2,287.9 657.8,288.7 658.5,289.5 C659.2,290.3 659.8,291.1 660.5,291.8 C661.2,292.5 661.8,293.2 662.5,293.9 C663.2,294.6 663.8,295.2 664.5,295.8 C665.2,296.4 665.8,297.0 666.5,297.5 C667.2,298.1 667.8,298.6 668.5,299.1 C669.2,299.6 669.9,300.1 670.5,300.5 C671.1,301.0 672.1,301.5 672.4,301.7 L672.40,319.20 Z" fill="#4664D2" fill-opacity="0.550" stroke="none"/>
<path d="M488.50,297.67 C488.8,297.4 489.8,296.8 490.5,296.4 C491.2,295.9 491.8,295.5 492.5,295.0 C493.2,294.5 493.8,294.0 494.5,293.4 C495.2,292.9 495.8,292.4 496.5,291.8 C497.2,291.2 497.8,290.7 498.5,290.1 C499.2,289.5 499.8,288.8 500.5,288.2 C501.2,287.6 501.8,286.9 502.5,286.2 C503.2,285.6 503.8,284.9 504.5,284.2 C505.2,283.5 505.8,282.7 506.5,282.0 C507.2,281.3 507.8,280.5 508.5,279.7 C509.2,279.0 509.8,278.2 510.5,277.4 C511.2,276.6 511.8,275.7 512.5,274.9 C513.2,274.1 513.8,273.3 514.5,272.4 C515.2,271.6 515.8,270.7 516.5,269.9 C517.2,269.1 517.8,268.2 518.5,267.4 C519.2,266.6 519.8,265.7 520.5,264.9 C521.2,264.1 521.8,263.3 522.5,262.5 C523.2,261.7 523.8,261.0 524.5,260.2 C525.2,259.5 525.8,258.7 526.5,258.0 C527.2,257.3 527.8,256.7 528.5,256.0 C529.2,255.4 529.8,254.8 530.5,254.2 C531.2,253.6 531.8,253.0 532.5,252.5 C533.2,252.0 533.8,251.5 534.5,251.0 C535.2,250.6 535.8,250.1 536.5,249.8 C537.2,249.4 537.8,249.0 538.5,248.7 C539.2,248.4 539.8,248.2 540.5,248.0 C541.2,247.7 541.8,247.6 542.5,247.5 C543.2,247.3 543.8,247.3 544.5,247.3 C545.2,247.2 545.8,247.3 546.5,247.3 C547.2,247.4 547.8,247.5 548.5,247.7 C549.2,247.8 549.8,248.0 550.5,248.2 C551.2,248.4 551.8,248.6 552.5,248.8 C553.2,249.0 553.8,249.3 554.5,249.5 C555.2,249.8 555.8,250.0 556.5,250.2 C557.2,250.5 557.8,250.7 558.5,250.9 C559.2,251.1 559.8,251.3 560.5,251.5 C561.2,251.6 561.8,251.8 562.5,251.9 C563.2,252.0 563.8,252.0 564.5,252.1 C565.2,252.1 565.8,252.0 566.5,252.0 C567.2,251.9 567.8,251.7 568.5,251.5 C569.2,251.4 569.8,251.1 570.5,250.8 C571.2,250.5 571.8,250.2 572.5,249.8 C573.2,249.4 573.8,249.0 574.5,248.5 C575.2,248.0 575.8,247.5 576.5,247.0 C577.2,246.4 577.8,245.8 578.5,245.2 C579.2,244.5 579.8,243.8 580.5,243.1 C581.2,242.4 581.8,241.6 582.5,240.8 C583.2,240.0 583.8,239.2 584.5,238.4 C585.2,237.5 585.8,236.6 586.5,235.7 C587.2,234.8 587.8,233.9 588.5,233.0 C589.2,232.1 589.8,231.1 590.5,230.2 C591.2,229.3 591.8,228.4 592.5,227.5 C593.2,226.6 593.8,225.7 594.5,224.8 C595.2,224.0 595.8,223.2 596.5,222.4 C597.2,221.6 597.8,220.8 598.5,220.1 C599.2,219.4 599.8,218.8 600.5,218.2 C601.2,217.6 601.8,217.1 602.5,216.6 C603.2,216.2 603.8,215.8 604.5,215.5 C605.2,215.2 605.8,215.0 606.5,214.9 C607.2,214.8 607.8,214.7 608.5,214.7 C609.2,214.8 609.8,214.9 610.5,215.0 C611.2,215.2 611.8,215.5 612.5,215.8 C613.2,216.1 613.8,216.5 614.5,217.0 C615.2,217.4 615.8,218.0 616.5,218.6 C617.2,219.2 617.8,219.8 618.5,220.6 C619.2,221.3 619.8,222.1 620.5,222.9 C621.2,223.7 621.8,224.6 622.5,225.6 C623.2,226.5 623.8,227.6 624.5,228.6 C625.2,229.7 625.8,230.8 626.5,231.9 C627.2,233.1 627.8,234.3 628.5,235.5 C629.2,236.7 629.8,237.9 630.5,239.2 C631.2,240.5 631.8,241.8 632.5,243.1 C633.2,244.4 633.8,245.8 634.5,247.1 C635.2,248.5 635.8,249.9 636.5,251.2 C637.2,252.6 637.8,254.0 638.5,255.3 C639.2,256.7 639.8,258.1 640.5,259.4 C641.2,260.8 641.8,262.2 642.5,263.5 C643.2,264.8 643.8,266.1 644.5,267.4 C645.2,268.7 645.8,270.0 646.5,271.2 C647.2,272.5 647.8,273.7 648.5,274.8 C649.2,276.0 649.8,277.1 650.5,278.2 C651.2,279.3 651.8,280.4 652.5,281.4 C653.2,282.4 653.8,283.4 654.5,284.3 C655.2,285.2 655.8,286.1 656.5,287.0 C657.2,287.9 657.8,288.7 658.5,289.5 C659.2,290.3 659.8,291.1 660.5,291.8 C661.2,292.5 661.8,293.2 662.5,293.9 C663.2,294.6 663.8,295.2 664.5,295.8 C665.2,296.4 665.8,297.0 666.5,297.5 C667.2,298.1 667.8,298.6 668.5,299.1 C669.2,299.6 669.9,300.1 670.5,300.5 C671.1,301.0 672.1,301.5 672.4,301.7" fill="none" stroke="#4a6fdc" stroke-width="0.8"/>
<path d="M488.50,319.20 L488.50,300.20 C488.8,299.8 489.8,298.7 490.5,298.0 C491.2,297.3 491.8,296.6 492.5,296.0 C493.2,295.4 493.8,294.8 494.5,294.3 C495.2,293.7 495.8,293.2 496.5,292.7 C497.2,292.2 497.8,291.7 498.5,291.3 C499.2,290.9 499.8,290.5 500.5,290.1 C501.2,289.7 501.8,289.4 502.5,289.1 C503.2,288.8 503.8,288.5 504.5,288.2 C505.2,288.0 505.8,287.7 506.5,287.5 C507.2,287.3 507.8,287.1 508.5,286.9 C509.2,286.8 509.8,286.6 510.5,286.5 C511.2,286.4 511.8,286.3 512.5,286.2 C513.2,286.0 513.8,285.9 514.5,285.8 C515.2,285.6 515.8,285.4 516.5,285.2 C517.2,285.0 517.8,284.7 518.5,284.4 C519.2,284.1 519.8,283.7 520.5,283.2 C521.2,282.7 521.8,282.1 522.5,281.4 C523.2,280.8 523.8,280.0 524.5,279.1 C525.2,278.3 525.8,277.3 526.5,276.3 C527.2,275.2 527.8,274.1 528.5,272.8 C529.2,271.6 529.8,270.3 530.5,268.9 C531.2,267.5 531.8,266.0 532.5,264.5 C533.2,263.0 533.8,261.4 534.5,259.7 C535.2,258.0 535.8,256.2 536.5,254.4 C537.2,252.6 537.8,250.7 538.5,248.8 C539.2,246.9 539.8,244.9 540.5,242.8 C541.2,240.8 541.8,238.7 542.5,236.6 C543.2,234.5 543.8,232.3 544.5,230.2 C545.2,228.1 545.8,225.9 546.5,223.8 C547.2,221.7 547.8,219.6 548.5,217.5 C549.2,215.5 549.8,213.5 550.5,211.5 C551.2,209.6 551.8,207.7 552.5,205.9 C553.2,204.1 553.8,202.3 554.5,200.7 C555.2,199.1 555.8,197.6 556.5,196.2 C557.2,194.8 557.8,193.5 558.5,192.3 C559.2,191.1 559.8,190.0 560.5,189.0 C561.2,188.1 561.8,187.2 562.5,186.4 C563.2,185.7 563.8,185.0 564.5,184.5 C565.2,184.0 565.8,183.6 566.5,183.3 C567.2,183.0 567.8,182.8 568.5,182.7 C569.2,182.6 569.8,182.7 570.5,182.8 C571.2,183.0 571.8,183.3 572.5,183.7 C573.2,184.1 573.8,184.7 574.5,185.3 C575.2,186.0 575.8,186.8 576.5,187.7 C577.2,188.6 577.8,189.6 578.5,190.7 C579.2,191.7 579.8,192.9 580.5,194.1 C581.2,195.3 581.8,196.6 582.5,197.9 C583.2,199.2 583.8,200.6 584.5,201.9 C585.2,203.3 585.8,204.6 586.5,206.0 C587.2,207.3 587.8,208.7 588.5,210.0 C589.2,211.3 589.8,212.6 590.5,213.9 C591.2,215.1 591.8,216.4 592.5,217.6 C593.2,218.8 593.8,220.0 594.5,221.1 C595.2,222.2 595.8,223.3 596.5,224.3 C597.2,225.3 597.8,226.2 598.5,227.1 C599.2,228.0 599.8,228.9 600.5,229.7 C601.2,230.6 601.8,231.4 602.5,232.1 C603.2,232.9 603.8,233.7 604.5,234.4 C605.2,235.1 605.8,235.8 606.5,236.5 C607.2,237.2 607.8,237.9 608.5,238.6 C609.2,239.3 609.8,240.0 610.5,240.7 C611.2,241.4 611.8,242.1 612.5,242.9 C613.2,243.6 613.8,244.4 614.5,245.2 C615.2,245.9 615.8,246.7 616.5,247.6 C617.2,248.4 617.8,249.3 618.5,250.2 C619.2,251.1 619.8,252.1 620.5,253.1 C621.2,254.1 621.8,255.1 622.5,256.1 C623.2,257.2 623.8,258.2 624.5,259.3 C625.2,260.4 625.8,261.5 626.5,262.6 C627.2,263.7 627.8,264.8 628.5,266.0 C629.2,267.1 629.8,268.2 630.5,269.3 C631.2,270.4 631.8,271.6 632.5,272.7 C633.2,273.8 633.8,274.9 634.5,276.0 C635.2,277.0 635.8,278.1 636.5,279.2 C637.2,280.2 637.8,281.2 638.5,282.2 C639.2,283.2 639.8,284.2 640.5,285.1 C641.2,286.0 641.8,286.9 642.5,287.7 C643.2,288.6 643.8,289.4 644.5,290.1 C645.2,290.9 645.8,291.6 646.5,292.3 C647.2,293.0 647.8,293.6 648.5,294.2 C649.2,294.8 649.8,295.4 650.5,296.0 C651.2,296.5 651.8,297.0 652.5,297.6 C653.2,298.1 653.8,298.5 654.5,299.0 C655.2,299.5 655.8,299.9 656.5,300.4 C657.2,300.8 657.8,301.2 658.5,301.6 C659.2,302.0 659.8,302.4 660.5,302.8 C661.2,303.2 661.8,303.6 662.5,304.0 C663.2,304.3 663.8,304.7 664.5,305.1 C665.2,305.5 665.8,305.9 666.5,306.3 C667.2,306.7 667.8,307.1 668.5,307.5 C669.2,307.9 669.9,308.3 670.5,308.8 C671.1,309.2 672.1,309.8 672.4,310.1 L672.40,319.20 Z" fill="#C81412" fill-opacity="0.550" stroke="none"/>
<path d="M488.50,300.20 C488.8,299.8 489.8,298.7 490.5,298.0 C491.2,297.3 491.8,296.6 492.5,296.0 C493.2,295.4 493.8,294.8 494.5,294.3 C495.2,293.7 495.8,293.2 496.5,292.7 C497.2,292.2 497.8,291.7 498.5,291.3 C499.2,290.9 499.8,290.5 500.5,290.1 C501.2,289.7 501.8,289.4 502.5,289.1 C503.2,288.8 503.8,288.5 504.5,288.2 C505.2,288.0 505.8,287.7 506.5,287.5 C507.2,287.3 507.8,287.1 508.5,286.9 C509.2,286.8 509.8,286.6 510.5,286.5 C511.2,286.4 511.8,286.3 512.5,286.2 C513.2,286.0 513.8,285.9 514.5,285.8 C515.2,285.6 515.8,285.4 516.5,285.2 C517.2,285.0 517.8,284.7 518.5,284.4 C519.2,284.1 519.8,283.7 520.5,283.2 C521.2,282.7 521.8,282.1 522.5,281.4 C523.2,280.8 523.8,280.0 524.5,279.1 C525.2,278.3 525.8,277.3 526.5,276.3 C527.2,275.2 527.8,274.1 528.5,272.8 C529.2,271.6 529.8,270.3 530.5,268.9 C531.2,267.5 531.8,266.0 532.5,264.5 C533.2,263.0 533.8,261.4 534.5,259.7 C535.2,258.0 535.8,256.2 536.5,254.4 C537.2,252.6 537.8,250.7 538.5,248.8 C539.2,246.9 539.8,244.9 540.5,242.8 C541.2,240.8 541.8,238.7 542.5,236.6 C543.2,234.5 543.8,232.3 544.5,230.2 C545.2,228.1 545.8,225.9 546.5,223.8 C547.2,221.7 547.8,219.6 548.5,217.5 C549.2,215.5 549.8,213.5 550.5,211.5 C551.2,209.6 551.8,207.7 552.5,205.9 C553.2,204.1 553.8,202.3 554.5,200.7 C555.2,199.1 555.8,197.6 556.5,196.2 C557.2,194.8 557.8,193.5 558.5,192.3 C559.2,191.1 559.8,190.0 560.5,189.0 C561.2,188.1 561.8,187.2 562.5,186.4 C563.2,185.7 563.8,185.0 564.5,184.5 C565.2,184.0 565.8,183.6 566.5,183.3 C567.2,183.0 567.8,182.8 568.5,182.7 C569.2,182.6 569.8,182.7 570.5,182.8 C571.2,183.0 571.8,183.3 572.5,183.7 C573.2,184.1 573.8,184.7 574.5,185.3 C575.2,186.0 575.8,186.8 576.5,187.7 C577.2,188.6 577.8,189.6 578.5,190.7 C579.2,191.7 579.8,192.9 580.5,194.1 C581.2,195.3 581.8,196.6 582.5,197.9 C583.2,199.2 583.8,200.6 584.5,201.9 C585.2,203.3 585.8,204.6 586.5,206.0 C587.2,207.3 587.8,208.7 588.5,210.0 C589.2,211.3 589.8,212.6 590.5,213.9 C591.2,215.1 591.8,216.4 592.5,217.6 C593.2,218.8 593.8,220.0 594.5,221.1 C595.2,222.2 595.8,223.3 596.5,224.3 C597.2,225.3 597.8,226.2 598.5,227.1 C599.2,228.0 599.8,228.9 600.5,229.7 C601.2,230.6 601.8,231.4 602.5,232.1 C603.2,232.9 603.8,233.7 604.5,234.4 C605.2,235.1 605.8,235.8 606.5,236.5 C607.2,237.2 607.8,237.9 608.5,238.6 C609.2,239.3 609.8,240.0 610.5,240.7 C611.2,241.4 611.8,242.1 612.5,242.9 C613.2,243.6 613.8,244.4 614.5,245.2 C615.2,245.9 615.8,246.7 616.5,247.6 C617.2,248.4 617.8,249.3 618.5,250.2 C619.2,251.1 619.8,252.1 620.5,253.1 C621.2,254.1 621.8,255.1 622.5,256.1 C623.2,257.2 623.8,258.2 624.5,259.3 C625.2,260.4 625.8,261.5 626.5,262.6 C627.2,263.7 627.8,264.8 628.5,266.0 C629.2,267.1 629.8,268.2 630.5,269.3 C631.2,270.4 631.8,271.6 632.5,272.7 C633.2,273.8 633.8,274.9 634.5,276.0 C635.2,277.0 635.8,278.1 636.5,279.2 C637.2,280.2 637.8,281.2 638.5,282.2 C639.2,283.2 639.8,284.2 640.5,285.1 C641.2,286.0 641.8,286.9 642.5,287.7 C643.2,288.6 643.8,289.4 644.5,290.1 C645.2,290.9 645.8,291.6 646.5,292.3 C647.2,293.0 647.8,293.6 648.5,294.2 C649.2,294.8 649.8,295.4 650.5,296.0 C651.2,296.5 651.8,297.0 652.5,297.6 C653.2,298.1 653.8,298.5 654.5,299.0 C655.2,299.5 655.8,299.9 656.5,300.4 C657.2,300.8 657.8,301.2 658.5,301.6 C659.2,302.0 659.8,302.4 660.5,302.8 C661.2,303.2 661.8,303.6 662.5,304.0 C663.2,304.3 663.8,304.7 664.5,305.1 C665.2,305.5 665.8,305.9 666.5,306.3 C667.2,306.7 667.8,307.1 668.5,307.5 C669.2,307.9 669.9,308.3 670.5,308.8 C671.1,309.2 672.1,309.8 672.4,310.1" fill="none" stroke="#d11f2a" stroke-width="0.8"/>
<line x1="488.40" y1="321.30" x2="488.40" y2="325.90" stroke="#3f63d6" stroke-width="0.9" stroke-opacity="0.55"/>
<line x1="496.40" y1="321.30" x2="496.40" y2="325.90" stroke="#3f63d6" stroke-width="0.9" stroke-opacity="0.55"/>
<line x1="520.40" y1="321.30" x2="520.40" y2="325.90" stroke="#3f63d6" stroke-width="0.9" stroke-opacity="0.55"/>
<line x1="522.50" y1="321.30" x2="522.50" y2="325.90" stroke="#3f63d6" stroke-width="0.9" stroke-opacity="0.55"/>
<line x1="532.80" y1="321.30" x2="532.80" y2="325.90" stroke="#3f63d6" stroke-width="0.9" stroke-opacity="0.55"/>
<line x1="534.90" y1="321.30" x2="534.90" y2="325.90" stroke="#3f63d6" stroke-width="0.9" stroke-opacity="0.55"/>
<line x1="538.40" y1="321.30" x2="538.40" y2="325.90" stroke="#3f63d6" stroke-width="0.9" stroke-opacity="0.55"/>
<line x1="542.20" y1="321.30" x2="542.20" y2="325.90" stroke="#3f63d6" stroke-width="0.9" stroke-opacity="0.55"/>
<line x1="545.40" y1="321.30" x2="545.40" y2="325.90" stroke="#3f63d6" stroke-width="0.9" stroke-opacity="0.55"/>
<line x1="565.30" y1="321.30" x2="565.30" y2="325.90" stroke="#3f63d6" stroke-width="0.9" stroke-opacity="0.55"/>
<line x1="569.50" y1="321.30" x2="569.50" y2="325.90" stroke="#3f63d6" stroke-width="0.9" stroke-opacity="0.55"/>
<line x1="581.20" y1="321.30" x2="581.20" y2="325.90" stroke="#3f63d6" stroke-width="0.9" stroke-opacity="0.55"/>
<line x1="596.30" y1="321.30" x2="596.30" y2="325.90" stroke="#3f63d6" stroke-width="0.9" stroke-opacity="0.55"/>
<line x1="598.40" y1="321.30" x2="598.40" y2="325.90" stroke="#3f63d6" stroke-width="0.9" stroke-opacity="0.55"/>
<line x1="602.20" y1="321.30" x2="602.20" y2="325.90" stroke="#3f63d6" stroke-width="0.9" stroke-opacity="0.55"/>
<line x1="604.30" y1="321.30" x2="604.30" y2="325.90" stroke="#3f63d6" stroke-width="0.9" stroke-opacity="0.55"/>
<line x1="606.40" y1="321.30" x2="606.40" y2="325.90" stroke="#3f63d6" stroke-width="0.9" stroke-opacity="0.55"/>
<line x1="612.00" y1="321.30" x2="612.00" y2="325.90" stroke="#3f63d6" stroke-width="0.9" stroke-opacity="0.55"/>
<line x1="617.60" y1="321.30" x2="617.60" y2="325.90" stroke="#3f63d6" stroke-width="0.9" stroke-opacity="0.55"/>
<line x1="621.50" y1="321.30" x2="621.50" y2="325.90" stroke="#3f63d6" stroke-width="0.9" stroke-opacity="0.55"/>
<line x1="624.40" y1="321.30" x2="624.40" y2="325.90" stroke="#3f63d6" stroke-width="0.9" stroke-opacity="0.55"/>
<line x1="624.70" y1="321.30" x2="624.70" y2="325.90" stroke="#3f63d6" stroke-width="0.9" stroke-opacity="0.55"/>
<line x1="638.60" y1="321.30" x2="638.60" y2="325.90" stroke="#3f63d6" stroke-width="0.9" stroke-opacity="0.55"/>
<line x1="652.60" y1="321.30" x2="652.60" y2="325.90" stroke="#3f63d6" stroke-width="0.9" stroke-opacity="0.55"/>
<line x1="672.50" y1="321.30" x2="672.50" y2="325.90" stroke="#3f63d6" stroke-width="0.9" stroke-opacity="0.55"/>
<line x1="499.40" y1="321.30" x2="499.40" y2="325.90" stroke="#d3222c" stroke-width="0.9" stroke-opacity="0.55"/>
<line x1="502.40" y1="321.30" x2="502.40" y2="325.90" stroke="#d3222c" stroke-width="0.9" stroke-opacity="0.55"/>
<line x1="508.50" y1="321.30" x2="508.50" y2="325.90" stroke="#d3222c" stroke-width="0.9" stroke-opacity="0.55"/>
<line x1="532.30" y1="321.30" x2="532.30" y2="325.90" stroke="#d3222c" stroke-width="0.9" stroke-opacity="0.55"/>
<line x1="532.80" y1="321.30" x2="532.80" y2="325.90" stroke="#d3222c" stroke-width="0.9" stroke-opacity="0.55"/>
<line x1="534.90" y1="321.30" x2="534.90" y2="325.90" stroke="#d3222c" stroke-width="0.9" stroke-opacity="0.55"/>
<line x1="548.20" y1="321.30" x2="548.20" y2="325.90" stroke="#d3222c" stroke-width="0.9" stroke-opacity="0.55"/>
<line x1="551.30" y1="321.30" x2="551.30" y2="325.90" stroke="#d3222c" stroke-width="0.9" stroke-opacity="0.55"/>
<line x1="553.40" y1="321.30" x2="553.40" y2="325.90" stroke="#d3222c" stroke-width="0.9" stroke-opacity="0.55"/>
<line x1="554.80" y1="321.30" x2="554.80" y2="325.90" stroke="#d3222c" stroke-width="0.9" stroke-opacity="0.55"/>
<line x1="556.20" y1="321.30" x2="556.20" y2="325.90" stroke="#d3222c" stroke-width="0.9" stroke-opacity="0.55"/>
<line x1="558.30" y1="321.30" x2="558.30" y2="325.90" stroke="#d3222c" stroke-width="0.9" stroke-opacity="0.55"/>
<line x1="565.30" y1="321.30" x2="565.30" y2="325.90" stroke="#d3222c" stroke-width="0.9" stroke-opacity="0.55"/>
<line x1="567.40" y1="321.30" x2="567.40" y2="325.90" stroke="#d3222c" stroke-width="0.9" stroke-opacity="0.55"/>
<line x1="572.70" y1="321.30" x2="572.70" y2="325.90" stroke="#d3222c" stroke-width="0.9" stroke-opacity="0.55"/>
<line x1="573.40" y1="321.30" x2="573.40" y2="325.90" stroke="#d3222c" stroke-width="0.9" stroke-opacity="0.55"/>
<line x1="577.30" y1="321.30" x2="577.30" y2="325.90" stroke="#d3222c" stroke-width="0.9" stroke-opacity="0.55"/>
<line x1="577.40" y1="321.30" x2="577.40" y2="325.90" stroke="#d3222c" stroke-width="0.9" stroke-opacity="0.55"/>
<line x1="579.50" y1="321.30" x2="579.50" y2="325.90" stroke="#d3222c" stroke-width="0.9" stroke-opacity="0.55"/>
<line x1="584.40" y1="321.30" x2="584.40" y2="325.90" stroke="#d3222c" stroke-width="0.9" stroke-opacity="0.55"/>
<line x1="594.20" y1="321.30" x2="594.20" y2="325.90" stroke="#d3222c" stroke-width="0.9" stroke-opacity="0.55"/>
<line x1="600.50" y1="321.30" x2="600.50" y2="325.90" stroke="#d3222c" stroke-width="0.9" stroke-opacity="0.55"/>
<line x1="608.20" y1="321.30" x2="608.20" y2="325.90" stroke="#d3222c" stroke-width="0.9" stroke-opacity="0.55"/>
<line x1="613.40" y1="321.30" x2="613.40" y2="325.90" stroke="#d3222c" stroke-width="0.9" stroke-opacity="0.55"/>
<line x1="616.60" y1="321.30" x2="616.60" y2="325.90" stroke="#d3222c" stroke-width="0.9" stroke-opacity="0.55"/>
<line x1="621.50" y1="321.30" x2="621.50" y2="325.90" stroke="#d3222c" stroke-width="0.9" stroke-opacity="0.55"/>
<line x1="635.50" y1="321.30" x2="635.50" y2="325.90" stroke="#d3222c" stroke-width="0.9" stroke-opacity="0.55"/>
<line x1="661.60" y1="321.30" x2="661.60" y2="325.90" stroke="#d3222c" stroke-width="0.9" stroke-opacity="0.55"/>
<line x1="575.40" y1="175.50" x2="575.40" y2="325.95" stroke="#d11f2a" stroke-width="0.9" stroke-dasharray="2,2.4" opacity="0.85"/>
<line x1="582.50" y1="175.50" x2="582.50" y2="325.95" stroke="#4a6fdc" stroke-width="0.9" stroke-dasharray="2,2.4" opacity="0.6"/>
<path d="M479.60,176.00 V326.45 H681.50" fill="none" stroke="#6b6b6b" stroke-width="1"/>
<line x1="477.80" y1="185.60" x2="479.60" y2="185.60" stroke="#333333" stroke-width="0.9"/>
<text x="477.00" y="187.95" text-anchor="end" font-size="6.50" fill="#3d3d3d" textLength="8.27" lengthAdjust="spacingAndGlyphs">20</text>
<line x1="477.80" y1="219.00" x2="479.60" y2="219.00" stroke="#333333" stroke-width="0.9"/>
<text x="477.00" y="221.35" text-anchor="end" font-size="6.50" fill="#3d3d3d" textLength="8.27" lengthAdjust="spacingAndGlyphs">15</text>
<line x1="477.80" y1="252.40" x2="479.60" y2="252.40" stroke="#333333" stroke-width="0.9"/>
<text x="477.00" y="254.75" text-anchor="end" font-size="6.50" fill="#3d3d3d" textLength="8.27" lengthAdjust="spacingAndGlyphs">10</text>
<line x1="477.80" y1="285.80" x2="479.60" y2="285.80" stroke="#333333" stroke-width="0.9"/>
<text x="477.00" y="288.15" text-anchor="end" font-size="6.50" fill="#3d3d3d" textLength="4.14" lengthAdjust="spacingAndGlyphs">5</text>
<line x1="477.80" y1="319.20" x2="479.60" y2="319.20" stroke="#333333" stroke-width="0.9"/>
<text x="477.00" y="321.55" text-anchor="end" font-size="6.50" fill="#3d3d3d" textLength="4.14" lengthAdjust="spacingAndGlyphs">0</text>
<line x1="493.70" y1="326.45" x2="493.70" y2="328.25" stroke="#333333" stroke-width="0.9"/>
<text x="493.70" y="333.75" text-anchor="middle" font-size="6.50" fill="#3d3d3d" textLength="14.47" lengthAdjust="spacingAndGlyphs">0.44</text>
<line x1="530.70" y1="326.45" x2="530.70" y2="328.25" stroke="#333333" stroke-width="0.9"/>
<text x="530.70" y="333.75" text-anchor="middle" font-size="6.50" fill="#3d3d3d" textLength="14.47" lengthAdjust="spacingAndGlyphs">0.46</text>
<line x1="567.70" y1="326.45" x2="567.70" y2="328.25" stroke="#333333" stroke-width="0.9"/>
<text x="567.70" y="333.75" text-anchor="middle" font-size="6.50" fill="#3d3d3d" textLength="14.47" lengthAdjust="spacingAndGlyphs">0.48</text>
<line x1="604.70" y1="326.45" x2="604.70" y2="328.25" stroke="#333333" stroke-width="0.9"/>
<text x="604.70" y="333.75" text-anchor="middle" font-size="6.50" fill="#3d3d3d" textLength="14.47" lengthAdjust="spacingAndGlyphs">0.50</text>
<line x1="641.70" y1="326.45" x2="641.70" y2="328.25" stroke="#333333" stroke-width="0.9"/>
<text x="641.70" y="333.75" text-anchor="middle" font-size="6.50" fill="#3d3d3d" textLength="14.47" lengthAdjust="spacingAndGlyphs">0.52</text>
<line x1="678.70" y1="326.45" x2="678.70" y2="328.25" stroke="#333333" stroke-width="0.9"/>
<text x="678.70" y="333.75" text-anchor="middle" font-size="6.50" fill="#3d3d3d" textLength="14.47" lengthAdjust="spacingAndGlyphs">0.54</text>
<text x="533.20" y="340.65" font-size="6.50" fill="#1a1a1a" textLength="94.20" lengthAdjust="spacingAndGlyphs">Entropy-focus Criterion (T2w)</text>
<text transform="translate(458.10,181.80) scale(1.250,1)" font-size="10.5" font-weight="bold" fill="#000">f</text>
<text x="309.1" y="365.6" font-size="6.3" fill="#222" textLength="18.88" lengthAdjust="spacingAndGlyphs">Group</text>
<rect x="330.50" y="358.8" width="8.0" height="10" fill="#4664D2" fill-opacity="0.550" stroke="#4a6fdc" stroke-width="0.9"/>
<line x1="330.50" y1="364.1" x2="338.50" y2="364.1" stroke="#4a6fdc" stroke-width="0.5" stroke-opacity="0.35"/>
<line x1="334.50" y1="360.9" x2="334.50" y2="368" stroke="#4a6fdc" stroke-width="0.9" stroke-dasharray="2.1,2.3"/>
<text x="342.00" y="364.8" font-size="5.1" fill="#444" textLength="7.40" lengthAdjust="spacingAndGlyphs">HC</text>
<rect x="353.60" y="358.8" width="8.0" height="10" fill="#C81412" fill-opacity="0.550" stroke="#d11f2a" stroke-width="0.9"/>
<line x1="353.60" y1="364.1" x2="361.60" y2="364.1" stroke="#d11f2a" stroke-width="0.5" stroke-opacity="0.35"/>
<line x1="357.60" y1="360.9" x2="357.60" y2="368" stroke="#d11f2a" stroke-width="0.9" stroke-dasharray="2.1,2.3"/>
<text x="365.40" y="364.8" font-size="5.1" fill="#444" textLength="7.33" lengthAdjust="spacingAndGlyphs">FM</text>
</svg>
</body></html>
